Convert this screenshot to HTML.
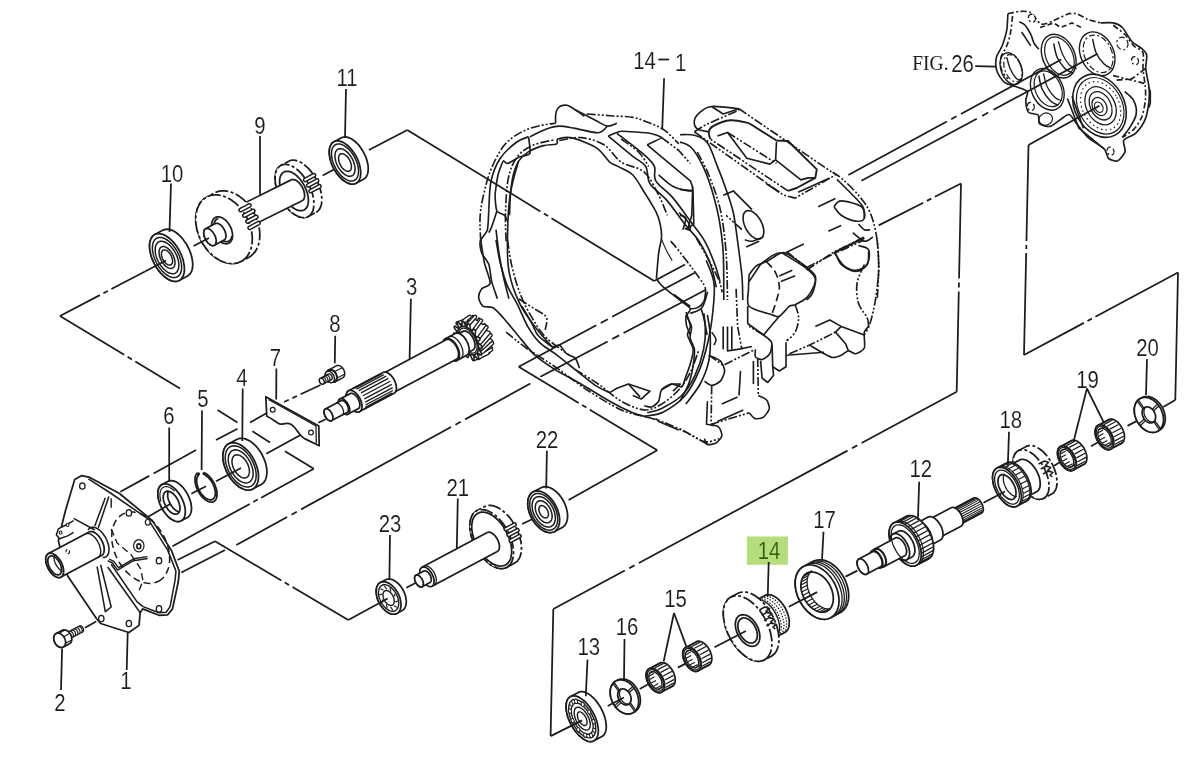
<!DOCTYPE html>
<html><head><meta charset="utf-8"><title>Parts diagram</title>
<style>html,body{margin:0;padding:0;background:#fff}svg{display:block;will-change:transform;opacity:0.999}</style></head>
<body><svg width="1200" height="764" viewBox="0 0 1200 764" fill="none" stroke="#1c1c1c" stroke-linecap="butt" stroke-linejoin="round">
<rect width="1200" height="764" fill="#fff" stroke="none"/>
<line x1="60" y1="316" x2="145" y2="271.5" stroke-width="1.75" stroke-dasharray="45 4 5 4 80"/>
<line x1="368.9" y1="150" x2="407.3" y2="130" stroke-width="1.75"/>
<line x1="407.3" y1="130" x2="654.2" y2="281" stroke-width="1.75" stroke-dasharray="156 4 5 4 200"/>
<line x1="654.2" y1="281" x2="685" y2="264.4" stroke-width="1.75"/>
<line x1="60" y1="316" x2="180" y2="388.5" stroke-width="1.75" stroke-dasharray="75 4 5 4 100"/>
<line x1="217.5" y1="410" x2="237.5" y2="422.5" stroke-width="1.75"/>
<line x1="252.5" y1="431.3" x2="270" y2="442.5" stroke-width="1.75"/>
<line x1="285" y1="451.3" x2="313.8" y2="468.8" stroke-width="1.75"/>
<line x1="313.8" y1="468.8" x2="172.5" y2="546.3" stroke-width="1.75" stroke-dasharray="60 4 5 4 200"/>
<line x1="320.5" y1="385" x2="284" y2="402" stroke-width="1.75" stroke-dasharray="22 4 5 4 40"/>
<line x1="270" y1="411.3" x2="250" y2="422.5" stroke-width="1.75"/>
<line x1="237.5" y1="428.8" x2="216" y2="440" stroke-width="1.75"/>
<line x1="196" y1="450" x2="182.5" y2="457.5" stroke-width="1.75"/>
<line x1="182.5" y1="457.5" x2="120" y2="492" stroke-width="1.75" stroke-dasharray="33 5"/>
<line x1="300.5" y1="435" x2="266.3" y2="453.8" stroke-width="1.75"/>
<line x1="177.5" y1="560" x2="215" y2="541.3" stroke-width="1.75"/>
<line x1="215" y1="541.3" x2="348.3" y2="620" stroke-width="1.75" stroke-dasharray="77 4 5 4 200"/>
<line x1="181.3" y1="572.5" x2="225" y2="550" stroke-width="1.75"/>
<line x1="236.3" y1="545" x2="530.4" y2="383.5" stroke-width="1.75" stroke-dasharray="58 5 6 5 171 5 6 5 200"/>
<line x1="540.4" y1="376.8" x2="705.4" y2="290" stroke-width="1.75" stroke-dasharray="76 5 8 5 200"/>
<line x1="518.7" y1="366.8" x2="694.8" y2="272.7" stroke-width="1.75" stroke-dasharray="88 5 8 5 200"/>
<line x1="518.7" y1="366.8" x2="657.3" y2="450.3" stroke-width="1.75" stroke-dasharray="70 4 5 4 200"/>
<line x1="657.3" y1="450.3" x2="568.6" y2="500" stroke-width="1.75"/>
<line x1="878.7" y1="225.4" x2="961" y2="183.5" stroke-width="1.75" stroke-dasharray="50 4 5 4 60"/>
<line x1="961" y1="183.5" x2="956.7" y2="391.8" stroke-width="1.75" stroke-dasharray="95 4 5 4 200"/>
<line x1="956.7" y1="391.8" x2="553.3" y2="609.1" stroke-width="1.75" stroke-dasharray="108 5 6 5 237 5 6 5 300"/>
<line x1="553.3" y1="609.1" x2="550.6" y2="736.1" stroke-width="1.75"/>
<line x1="1028.5" y1="145" x2="1024" y2="355" stroke-width="1.75" stroke-dasharray="96 4 4 4 200"/>
<line x1="1024" y1="355" x2="1178" y2="272.4" stroke-width="1.75" stroke-dasharray="68 4 5 4 200"/>
<line x1="1178" y1="272.4" x2="1175.3" y2="400" stroke-width="1.75"/>
<line x1="1175.3" y1="400" x2="1163.2" y2="407.1" stroke-width="1.75"/>
<path d="M316.1 212.4 L317.4 211.5 L318.6 210.3 L319.7 208.9 L320.5 207.2 L321.2 205.3 L321.6 203.2 L321.8 200.9 L321.8 198.4 L321.6 195.9 L321.2 193.2 L320.6 190.5 L319.8 187.7 L318.8 184.9 L317.6 182.1 L316.3 179.4 L314.8 176.8 L313.1 174.3 L311.4 171.9 L309.5 169.6 L307.6 167.6 L305.6 165.8 L303.6 164.2 L301.6 162.8 L299.6 161.7 L297.6 160.9 L295.6 160.4 L293.8 160.2 L292 160.2 L290.4 160.5 L288.8 161.2 L280.9 165.4 L279.5 166.3 L278.3 167.5 L277.3 168.9 L276.4 170.6 L275.8 172.5 L275.4 174.6 L275.1 176.9 L275.1 179.3 L275.3 181.9 L275.7 184.6 L276.3 187.3 L277.1 190.1 L278.1 192.9 L279.3 195.6 L280.7 198.4 L282.2 201 L283.8 203.5 L285.6 205.9 L287.4 208.1 L289.3 210.2 L291.3 212 L293.3 213.6 L295.4 214.9 L297.4 216 L299.4 216.9 L301.3 217.4 L303.2 217.6 L304.9 217.6 L306.6 217.2 L308.1 216.6 Z" stroke-width="1.75" stroke-dasharray="13 2.5 3 2.5" fill="#fff"/>
<path d="M308.1 216.6 L309.5 215.7 L310.7 214.5 L311.7 213.1 L312.6 211.4 L313.2 209.5 L313.6 207.4 L313.9 205.1 L313.9 202.7 L313.7 200.1 L313.3 197.4 L312.7 194.7 L311.9 191.9 L310.9 189.1 L309.7 186.4 L308.3 183.6 L306.8 181 L305.2 178.5 L303.4 176.1 L301.6 173.9 L299.7 171.8 L297.7 170 L295.7 168.4 L293.6 167.1 L291.6 166 L289.6 165.1 L287.7 164.6 L285.8 164.4 L284.1 164.4 L282.4 164.8 L280.9 165.4 L279.5 166.3 L278.3 167.5 L277.3 168.9 L276.4 170.6 L275.8 172.5 L275.4 174.6 L275.1 176.9 L275.1 179.3 L275.3 181.9 L275.7 184.6 L276.3 187.3 L277.1 190.1 L278.1 192.9 L279.3 195.6 L280.7 198.4 L282.2 201 L283.8 203.5 L285.6 205.9 L287.4 208.1 L289.3 210.2 L291.3 212 L293.3 213.6 L295.4 214.9 L297.4 216 L299.4 216.9 L301.3 217.4 L303.2 217.6 L304.9 217.6 L306.6 217.2 L308.1 216.6 Z" stroke-width="1.75" stroke-dasharray="13 2.5 3 2.5" fill="#fff"/>
<path d="M304.1 210 L305.1 209.3 L306 208.4 L306.8 207.4 L307.4 206.1 L307.9 204.7 L308.2 203.2 L308.4 201.5 L308.4 199.7 L308.2 197.7 L307.9 195.8 L307.5 193.7 L306.9 191.7 L306.1 189.6 L305.2 187.6 L304.3 185.5 L303.1 183.6 L301.9 181.7 L300.6 180 L299.3 178.3 L297.8 176.8 L296.4 175.4 L294.9 174.2 L293.4 173.2 L291.9 172.4 L290.4 171.8 L288.9 171.4 L287.6 171.3 L286.3 171.3 L285 171.6 L283.9 172 L282.9 172.7 L282 173.6 L281.2 174.6 L280.6 175.9 L280.1 177.3 L279.8 178.8 L279.6 180.5 L279.6 182.3 L279.8 184.3 L280.1 186.2 L280.5 188.3 L281.1 190.3 L281.9 192.4 L282.8 194.4 L283.7 196.5 L284.9 198.4 L286.1 200.3 L287.4 202 L288.7 203.7 L290.2 205.2 L291.6 206.6 L293.1 207.8 L294.6 208.8 L296.1 209.6 L297.6 210.2 L299.1 210.6 L300.4 210.7 L301.7 210.7 L303 210.4 L304.1 210 Z" stroke-width="1.75"/>
<path d="M237.5 232.8 L302.2 200.7 L302.2 200.7 L303.1 200 L303.8 199.1 L304.3 197.8 L304.6 196.4 L304.6 194.7 L304.3 192.9 L303.9 191.1 L303.2 189.2 L302.3 187.3 L301.3 185.5 L300.1 183.9 L298.8 182.5 L297.4 181.3 L296.1 180.4 L294.7 179.8 L293.4 179.5 L292.2 179.5 L291.2 179.9 L291.2 179.9 L226.5 212 Z" stroke-width="0.01" fill="#fff"/>
<line x1="237.5" y1="232.8" x2="302.2" y2="200.7" stroke-width="1.75"/>
<line x1="226.5" y1="212" x2="291.2" y2="179.9" stroke-width="1.75"/>
<path d="M302.2 200.7 L302.8 200.3 L303.3 199.9 L303.7 199.3 L304 198.6 L304.3 197.8 L304.5 197 L304.6 196 L304.6 195 L304.5 194 L304.3 192.9 L304.1 191.8 L303.8 190.7 L303.4 189.5 L302.9 188.4 L302.3 187.3 L301.7 186.2 L301.1 185.2 L300.3 184.2 L299.6 183.3 L298.8 182.5 L298 181.8 L297.2 181.1 L296.3 180.6 L295.5 180.1 L294.7 179.8 L293.9 179.6 L293.2 179.5 L292.5 179.5 L291.8 179.6 L291.2 179.9" stroke-width="1.75"/>
<path d="M248.6 257.4 L250.9 256 L253 254.2 L254.8 252.2 L256.3 249.8 L257.6 247.1 L258.6 244.2 L259.3 241.1 L259.7 237.9 L259.8 234.4 L259.6 230.9 L259.1 227.4 L258.3 223.8 L257.1 220.2 L255.7 216.6 L254.1 213.2 L252.1 209.9 L250 206.8 L247.7 203.8 L245.1 201.1 L242.5 198.7 L239.7 196.6 L236.8 194.7 L233.9 193.2 L230.9 192.1 L227.9 191.3 L225 190.9 L222.2 190.9 L219.4 191.2 L216.8 191.9 L214.4 193 L206.9 197 L204.6 198.4 L202.5 200.2 L200.7 202.3 L199.2 204.6 L197.9 207.3 L196.9 210.2 L196.2 213.3 L195.8 216.5 L195.7 220 L195.9 223.5 L196.4 227 L197.2 230.6 L198.4 234.2 L199.8 237.8 L201.4 241.2 L203.4 244.5 L205.5 247.6 L207.8 250.6 L210.4 253.3 L213 255.7 L215.8 257.8 L218.7 259.7 L221.6 261.2 L224.6 262.3 L227.6 263.1 L230.5 263.5 L233.3 263.6 L236.1 263.2 L238.7 262.5 L241.1 261.4 Z" stroke-width="1.75" stroke-dasharray="13 2.5 3 2.5" fill="#fff"/>
<path d="M241.1 261.4 L243.4 260 L245.5 258.2 L247.3 256.1 L248.8 253.8 L250.1 251.1 L251.1 248.2 L251.8 245.1 L252.2 241.9 L252.3 238.4 L252.1 234.9 L251.6 231.4 L250.8 227.8 L249.6 224.2 L248.2 220.6 L246.6 217.2 L244.6 213.9 L242.5 210.8 L240.2 207.8 L237.6 205.1 L235 202.7 L232.2 200.6 L229.3 198.7 L226.4 197.2 L223.4 196.1 L220.4 195.3 L217.5 194.9 L214.7 194.8 L211.9 195.2 L209.3 195.9 L206.9 197 L204.6 198.4 L202.5 200.2 L200.7 202.3 L199.2 204.6 L197.9 207.3 L196.9 210.2 L196.2 213.3 L195.8 216.5 L195.7 220 L195.9 223.5 L196.4 227 L197.2 230.6 L198.4 234.2 L199.8 237.8 L201.4 241.2 L203.4 244.5 L205.5 247.6 L207.8 250.6 L210.4 253.3 L213 255.7 L215.8 257.8 L218.7 259.7 L221.6 261.2 L224.6 262.3 L227.6 263.1 L230.5 263.5 L233.3 263.6 L236.1 263.2 L238.7 262.5 L241.1 261.4 Z" stroke-width="1.75" stroke-dasharray="13 2.5 3 2.5" fill="#fff"/>
<path d="M228.9 243.1 L229.7 242.6 L230.4 241.9 L231 241.2 L231.5 240.3 L232 239.3 L232.3 238.2 L232.5 237 L232.6 235.7 L232.5 234.4 L232.4 233 L232.1 231.7 L231.8 230.2 L231.3 228.8 L230.7 227.4 L230 226.1 L229.3 224.8 L228.4 223.5 L227.5 222.3 L226.6 221.2 L225.6 220.2 L224.5 219.4 L223.4 218.6 L222.4 218 L221.3 217.5 L220.2 217.1 L219.1 216.9 L218.1 216.8 L217.1 216.9 L216.2 217.1 L215.3 217.5 L214.5 218 L213.8 218.7 L213.2 219.4 L212.7 220.3 L212.2 221.3 L211.9 222.4 L211.7 223.6 L211.6 224.9 L211.7 226.2 L211.8 227.6 L212.1 228.9 L212.4 230.4 L212.9 231.8 L213.5 233.2 L214.2 234.5 L214.9 235.8 L215.8 237.1 L216.7 238.3 L217.6 239.4 L218.6 240.4 L219.7 241.2 L220.8 242 L221.8 242.6 L222.9 243.1 L224 243.5 L225.1 243.7 L226.1 243.8 L227.1 243.7 L228 243.5 L228.9 243.1 Z" stroke-width="1.75"/>
<path d="M218.4 218.5 L217.6 218.7 L216.9 219.1 L216.2 219.6 L215.6 220.2 L215.1 220.9 L214.7 221.7 L214.4 222.6 L214.1 223.6 L214 224.7 L214 225.8 L214.1 227 L214.2 228.2 L214.5 229.4 L214.9 230.6 L215.3 231.8 L215.8 233 L216.5 234.2 L217.2 235.3 L217.9 236.4 L218.7 237.4 L219.6 238.3 L220.5 239.1 L221.4 239.8 L222.4 240.4 L223.3 240.9 L224.3 241.3 L225.2 241.5 L226.1 241.6 L227 241.6 L227.8 241.5 L228.6 241.2 L229.3 240.8 L229.9 240.3 L230.5 239.6 L231 238.9 L231.4 238.1 L231.7 237.1 L231.9 236.1" stroke-width="1.75"/>
<path d="M224.1 240 L224.5 239.8 L224.9 239.4 L225.2 238.9 L225.5 238.4 L225.7 237.8 L225.9 237.1 L225.9 236.4 L225.9 235.6 L225.9 234.8 L225.7 233.9 L225.5 233 L225.3 232.1 L225 231.2 L224.6 230.3 L224.1 229.5 L223.7 228.6 L223.1 227.8 L222.6 227.1 L222 226.3 L221.4 225.7 L220.7 225.1 L220.1 224.6 L219.4 224.2 L218.8 223.8 L218.1 223.5 L217.5 223.4 L216.9 223.3 L216.4 223.3 L215.8 223.4 L215.3 223.6 L205.6 228.8 L205.2 229.1 L204.8 229.5 L204.5 229.9 L204.2 230.5 L204 231.1 L203.9 231.7 L203.8 232.5 L203.8 233.3 L203.8 234.1 L204 234.9 L204.2 235.8 L204.4 236.7 L204.8 237.6 L205.1 238.5 L205.6 239.4 L206 240.2 L206.6 241 L207.1 241.8 L207.7 242.5 L208.3 243.1 L209 243.7 L209.6 244.2 L210.3 244.7 L210.9 245 L211.6 245.3 L212.2 245.5 L212.8 245.5 L213.3 245.5 L213.9 245.4 L214.4 245.2 Z" stroke-width="1.75" fill="#fff"/>
<path d="M214.4 245.2 L214.8 244.9 L215.2 244.5 L215.5 244.1 L215.8 243.5 L216 242.9 L216.1 242.3 L216.2 241.5 L216.2 240.7 L216.2 239.9 L216 239.1 L215.8 238.2 L215.6 237.3 L215.2 236.4 L214.9 235.5 L214.4 234.6 L214 233.8 L213.4 233 L212.9 232.2 L212.3 231.5 L211.7 230.9 L211 230.3 L210.4 229.8 L209.7 229.3 L209.1 229 L208.4 228.7 L207.8 228.5 L207.2 228.5 L206.7 228.5 L206.1 228.6 L205.6 228.8 L205.2 229.1 L204.8 229.5 L204.5 229.9 L204.2 230.5 L204 231.1 L203.9 231.7 L203.8 232.5 L203.8 233.3 L203.8 234.1 L204 234.9 L204.2 235.8 L204.4 236.7 L204.8 237.6 L205.1 238.5 L205.6 239.4 L206 240.2 L206.6 241 L207.1 241.8 L207.7 242.5 L208.3 243.1 L209 243.7 L209.6 244.2 L210.3 244.7 L210.9 245 L211.6 245.3 L212.2 245.5 L212.8 245.5 L213.3 245.5 L213.9 245.4 L214.4 245.2 Z" stroke-width="1.75" fill="#fff"/>
<line x1="249.7" y1="227.8" x2="258.5" y2="223.1" stroke-width="4.8" stroke-linecap="round"/>
<line x1="247.5" y1="221.5" x2="256.3" y2="216.9" stroke-width="4.8" stroke-linecap="round"/>
<line x1="244.4" y1="215.6" x2="253.3" y2="210.9" stroke-width="4.8" stroke-linecap="round"/>
<line x1="240.6" y1="210.1" x2="249.5" y2="205.4" stroke-width="4.8" stroke-linecap="round"/>
<line x1="249.7" y1="227.8" x2="258.5" y2="223.1" stroke="#fff" stroke-width="1.9" stroke-linecap="round"/>
<line x1="247.5" y1="221.5" x2="256.3" y2="216.9" stroke="#fff" stroke-width="1.9" stroke-linecap="round"/>
<line x1="244.4" y1="215.6" x2="253.3" y2="210.9" stroke="#fff" stroke-width="1.9" stroke-linecap="round"/>
<line x1="240.6" y1="210.1" x2="249.5" y2="205.4" stroke="#fff" stroke-width="1.9" stroke-linecap="round"/>
<line x1="310.7" y1="191" x2="319.5" y2="186.3" stroke-width="4.8" stroke-linecap="round"/>
<line x1="308.3" y1="185.3" x2="317.1" y2="180.6" stroke-width="4.8" stroke-linecap="round"/>
<line x1="305.2" y1="179.9" x2="314" y2="175.2" stroke-width="4.8" stroke-linecap="round"/>
<line x1="310.7" y1="191" x2="319.5" y2="186.3" stroke="#fff" stroke-width="1.9" stroke-linecap="round"/>
<line x1="308.3" y1="185.3" x2="317.1" y2="180.6" stroke="#fff" stroke-width="1.9" stroke-linecap="round"/>
<line x1="305.2" y1="179.9" x2="314" y2="175.2" stroke="#fff" stroke-width="1.9" stroke-linecap="round"/>
<line x1="193.6" y1="246" x2="209" y2="238" stroke-width="1.75"/>
<line x1="322.7" y1="175.5" x2="344.3" y2="164" stroke-width="1.75"/>
<path d="M187.5 276 L188.7 275.2 L189.8 274.2 L190.7 272.9 L191.5 271.4 L192.1 269.7 L192.5 267.8 L192.7 265.7 L192.7 263.5 L192.5 261.2 L192.1 258.9 L191.6 256.4 L190.9 253.9 L190 251.4 L188.9 248.9 L187.7 246.5 L186.4 244.1 L184.9 241.9 L183.3 239.7 L181.7 237.7 L179.9 235.9 L178.2 234.3 L176.3 232.8 L174.5 231.6 L172.7 230.6 L170.9 229.9 L169.2 229.4 L167.5 229.2 L165.9 229.3 L164.5 229.6 L163.1 230.1 L154.8 234.5 L153.6 235.4 L152.5 236.4 L151.6 237.7 L150.8 239.2 L150.2 240.9 L149.8 242.8 L149.6 244.9 L149.6 247 L149.8 249.3 L150.2 251.7 L150.7 254.2 L151.4 256.7 L152.3 259.2 L153.4 261.7 L154.6 264.1 L155.9 266.5 L157.4 268.7 L159 270.9 L160.6 272.9 L162.4 274.7 L164.1 276.3 L166 277.8 L167.8 279 L169.6 279.9 L171.4 280.7 L173.1 281.2 L174.8 281.4 L176.4 281.3 L177.8 281 L179.2 280.5 Z" stroke-width="1.75" fill="#fff"/>
<path d="M179.2 280.5 L180.4 279.6 L181.5 278.6 L182.4 277.3 L183.2 275.8 L183.8 274.1 L184.2 272.2 L184.4 270.1 L184.4 268 L184.2 265.7 L183.8 263.3 L183.3 260.8 L182.6 258.3 L181.7 255.8 L180.6 253.3 L179.4 250.9 L178.1 248.5 L176.6 246.3 L175 244.1 L173.4 242.1 L171.6 240.3 L169.9 238.7 L168 237.2 L166.2 236 L164.4 235.1 L162.6 234.3 L160.9 233.8 L159.2 233.6 L157.6 233.7 L156.2 234 L154.8 234.5 L153.6 235.4 L152.5 236.4 L151.6 237.7 L150.8 239.2 L150.2 240.9 L149.8 242.8 L149.6 244.9 L149.6 247 L149.8 249.3 L150.2 251.7 L150.7 254.2 L151.4 256.7 L152.3 259.2 L153.4 261.7 L154.6 264.1 L155.9 266.5 L157.4 268.7 L159 270.9 L160.6 272.9 L162.4 274.7 L164.1 276.3 L166 277.8 L167.8 279 L169.6 279.9 L171.4 280.7 L173.1 281.2 L174.8 281.4 L176.4 281.3 L177.8 281 L179.2 280.5 Z" stroke-width="1.75" fill="#fff"/>
<path d="M177.3 276.8 L178.3 276.1 L179.2 275.2 L180 274.1 L180.6 272.9 L181.1 271.4 L181.4 269.8 L181.6 268.1 L181.6 266.3 L181.5 264.4 L181.1 262.3 L180.7 260.3 L180.1 258.2 L179.3 256.1 L178.4 254 L177.4 252 L176.3 250 L175.1 248.1 L173.7 246.3 L172.3 244.6 L170.9 243.1 L169.4 241.7 L167.9 240.5 L166.3 239.5 L164.8 238.6 L163.3 238 L161.9 237.6 L160.5 237.4 L159.1 237.5 L157.9 237.7 L156.7 238.2 L155.7 238.9 L154.8 239.8 L154 240.9 L153.4 242.1 L152.9 243.6 L152.6 245.2 L152.4 246.9 L152.4 248.7 L152.5 250.6 L152.9 252.7 L153.3 254.7 L153.9 256.8 L154.7 258.9 L155.6 261 L156.6 263 L157.7 265 L158.9 266.9 L160.3 268.7 L161.7 270.4 L163.1 271.9 L164.6 273.3 L166.1 274.5 L167.7 275.5 L169.2 276.4 L170.7 277 L172.1 277.4 L173.5 277.6 L174.9 277.5 L176.1 277.3 L177.3 276.8 Z" stroke-width="1.49"/>
<path d="M175.3 273.1 L176.1 272.6 L176.9 271.8 L177.5 271 L178 269.9 L178.4 268.8 L178.7 267.5 L178.8 266.1 L178.8 264.6 L178.7 263 L178.5 261.4 L178.1 259.8 L177.6 258.1 L177 256.4 L176.3 254.7 L175.4 253 L174.5 251.4 L173.5 249.9 L172.5 248.4 L171.3 247.1 L170.2 245.8 L168.9 244.7 L167.7 243.7 L166.5 242.9 L165.2 242.2 L164 241.7 L162.8 241.4 L161.7 241.3 L160.6 241.3 L159.6 241.5 L158.7 241.9 L157.9 242.4 L157.1 243.2 L156.5 244 L156 245.1 L155.6 246.2 L155.3 247.5 L155.2 248.9 L155.2 250.4 L155.3 252 L155.5 253.6 L155.9 255.2 L156.4 256.9 L157 258.6 L157.7 260.3 L158.6 262 L159.5 263.6 L160.5 265.1 L161.5 266.6 L162.7 267.9 L163.8 269.2 L165.1 270.3 L166.3 271.3 L167.5 272.1 L168.8 272.8 L170 273.3 L171.2 273.6 L172.3 273.7 L173.4 273.7 L174.4 273.5 L175.3 273.1 Z" stroke-width="1.49"/>
<path d="M172.6 268.1 L173.2 267.7 L173.7 267.2 L174.1 266.6 L174.4 265.9 L174.7 265.1 L174.9 264.3 L175 263.3 L175 262.3 L174.9 261.3 L174.7 260.2 L174.5 259 L174.2 257.9 L173.7 256.7 L173.3 255.6 L172.7 254.5 L172.1 253.4 L171.4 252.3 L170.7 251.4 L169.9 250.4 L169.1 249.6 L168.3 248.8 L167.5 248.2 L166.6 247.6 L165.8 247.2 L165 246.8 L164.2 246.6 L163.4 246.5 L162.7 246.5 L162 246.7 L161.4 246.9 L160.8 247.3 L160.3 247.8 L159.9 248.4 L159.6 249.1 L159.3 249.9 L159.1 250.7 L159 251.7 L159 252.7 L159.1 253.7 L159.3 254.8 L159.5 256 L159.8 257.1 L160.3 258.3 L160.7 259.4 L161.3 260.5 L161.9 261.6 L162.6 262.7 L163.3 263.6 L164.1 264.6 L164.9 265.4 L165.7 266.2 L166.5 266.8 L167.4 267.4 L168.2 267.8 L169 268.2 L169.8 268.4 L170.6 268.5 L171.3 268.5 L172 268.3 L172.6 268.1 Z" stroke-width="1.49"/>
<path d="M170.9 264.8 L171.3 264.6 L171.6 264.2 L171.9 263.8 L172.2 263.4 L172.4 262.8 L172.5 262.2 L172.6 261.5 L172.6 260.8 L172.5 260.1 L172.4 259.3 L172.2 258.6 L172 257.8 L171.7 257 L171.4 256.2 L171 255.4 L170.5 254.6 L170.1 253.9 L169.6 253.2 L169 252.6 L168.5 252 L167.9 251.5 L167.3 251 L166.8 250.6 L166.2 250.3 L165.6 250.1 L165 249.9 L164.5 249.9 L164 249.9 L163.5 250 L163.1 250.2 L162.7 250.4 L162.4 250.8 L162.1 251.2 L161.8 251.6 L161.6 252.2 L161.5 252.8 L161.4 253.5 L161.4 254.2 L161.5 254.9 L161.6 255.7 L161.8 256.4 L162 257.2 L162.3 258 L162.6 258.8 L163 259.6 L163.5 260.4 L163.9 261.1 L164.4 261.8 L165 262.4 L165.5 263 L166.1 263.5 L166.7 264 L167.2 264.4 L167.8 264.7 L168.4 264.9 L169 265.1 L169.5 265.1 L170 265.1 L170.5 265 L170.9 264.8 Z" stroke-width="1.49"/>
<line x1="145" y1="271.5" x2="166" y2="260.5" stroke-width="1.75"/>
<path d="M363.5 179.3 L364.6 178.5 L365.6 177.6 L366.5 176.4 L367.1 175 L367.7 173.5 L368 171.8 L368.2 169.9 L368.2 168 L368.1 165.9 L367.7 163.7 L367.2 161.5 L366.6 159.3 L365.8 157 L364.8 154.8 L363.7 152.6 L362.5 150.4 L361.2 148.4 L359.8 146.4 L358.3 144.6 L356.7 143 L355.1 141.5 L353.4 140.2 L351.8 139.1 L350.2 138.2 L348.6 137.6 L347 137.1 L345.5 136.9 L344 137 L342.7 137.3 L341.5 137.8 L334 141.8 L332.9 142.5 L331.9 143.4 L331 144.6 L330.4 146 L329.8 147.5 L329.5 149.2 L329.3 151.1 L329.3 153 L329.5 155.1 L329.8 157.3 L330.3 159.5 L330.9 161.8 L331.7 164 L332.7 166.3 L333.8 168.5 L335 170.6 L336.3 172.6 L337.8 174.6 L339.3 176.4 L340.8 178 L342.4 179.5 L344.1 180.8 L345.7 181.9 L347.3 182.8 L349 183.4 L350.5 183.9 L352 184.1 L353.5 184 L354.8 183.8 L356 183.2 Z" stroke-width="1.75" fill="#fff"/>
<path d="M356 183.2 L357.1 182.5 L358.1 181.6 L359 180.4 L359.6 179 L360.2 177.5 L360.5 175.8 L360.7 173.9 L360.7 172 L360.5 169.9 L360.2 167.7 L359.7 165.5 L359.1 163.2 L358.3 161 L357.3 158.7 L356.2 156.5 L355 154.4 L353.7 152.4 L352.2 150.4 L350.7 148.6 L349.2 147 L347.6 145.5 L345.9 144.2 L344.3 143.1 L342.7 142.2 L341 141.6 L339.5 141.1 L338 140.9 L336.5 141 L335.2 141.2 L334 141.8 L332.9 142.5 L331.9 143.4 L331 144.6 L330.4 146 L329.8 147.5 L329.5 149.2 L329.3 151.1 L329.3 153 L329.5 155.1 L329.8 157.3 L330.3 159.5 L330.9 161.8 L331.7 164 L332.7 166.3 L333.8 168.5 L335 170.6 L336.3 172.6 L337.8 174.6 L339.3 176.4 L340.8 178 L342.4 179.5 L344.1 180.8 L345.7 181.9 L347.3 182.8 L349 183.4 L350.5 183.9 L352 184.1 L353.5 184 L354.8 183.8 L356 183.2 Z" stroke-width="1.75" fill="#fff"/>
<path d="M354.5 180.3 L355.4 179.7 L356.3 178.9 L357 177.9 L357.6 176.7 L358 175.4 L358.3 173.9 L358.5 172.3 L358.5 170.6 L358.4 168.8 L358.1 167 L357.7 165.1 L357.1 163.1 L356.4 161.2 L355.6 159.3 L354.6 157.4 L353.6 155.5 L352.5 153.8 L351.2 152.1 L349.9 150.6 L348.6 149.1 L347.2 147.9 L345.8 146.8 L344.4 145.8 L343 145.1 L341.6 144.5 L340.3 144.1 L339 143.9 L337.7 144 L336.6 144.2 L335.5 144.7 L334.6 145.3 L333.7 146.1 L333 147.1 L332.4 148.3 L332 149.6 L331.7 151.1 L331.5 152.7 L331.5 154.4 L331.6 156.2 L331.9 158 L332.3 159.9 L332.9 161.9 L333.6 163.8 L334.4 165.7 L335.4 167.6 L336.4 169.5 L337.5 171.2 L338.8 172.9 L340.1 174.4 L341.4 175.9 L342.8 177.1 L344.2 178.2 L345.6 179.2 L347 179.9 L348.4 180.5 L349.7 180.9 L351 181.1 L352.3 181 L353.4 180.8 L354.5 180.3 Z" stroke-width="1.49"/>
<path d="M352.1 175.8 L352.8 175.3 L353.4 174.7 L353.9 174 L354.4 173.1 L354.7 172.1 L354.9 171 L355 169.8 L355.1 168.6 L355 167.2 L354.7 165.8 L354.4 164.4 L354 163 L353.5 161.5 L352.9 160.1 L352.2 158.7 L351.4 157.3 L350.5 156 L349.6 154.8 L348.7 153.6 L347.7 152.6 L346.7 151.6 L345.6 150.8 L344.6 150.1 L343.5 149.5 L342.5 149.1 L341.5 148.8 L340.5 148.7 L339.6 148.7 L338.7 148.9 L337.9 149.2 L337.2 149.7 L336.6 150.3 L336.1 151 L335.6 151.9 L335.3 152.9 L335.1 154 L335 155.2 L334.9 156.4 L335 157.8 L335.3 159.2 L335.6 160.6 L336 162 L336.5 163.5 L337.1 164.9 L337.8 166.3 L338.6 167.7 L339.5 169 L340.4 170.2 L341.3 171.4 L342.3 172.4 L343.3 173.4 L344.4 174.2 L345.4 174.9 L346.5 175.5 L347.5 175.9 L348.5 176.2 L349.5 176.3 L350.4 176.3 L351.3 176.1 L352.1 175.8 Z" stroke-width="1.49"/>
<path d="M349.5 171 L350 170.7 L350.4 170.3 L350.7 169.8 L351 169.3 L351.2 168.6 L351.4 167.9 L351.4 167.2 L351.4 166.4 L351.4 165.5 L351.2 164.6 L351 163.7 L350.8 162.8 L350.4 161.9 L350 161 L349.6 160.1 L349.1 159.2 L348.6 158.3 L348 157.5 L347.4 156.8 L346.7 156.1 L346.1 155.5 L345.4 155 L344.7 154.5 L344 154.2 L343.4 153.9 L342.7 153.7 L342.1 153.7 L341.5 153.7 L341 153.8 L340.5 154 L340 154.3 L339.6 154.7 L339.3 155.2 L339 155.7 L338.8 156.4 L338.6 157.1 L338.6 157.8 L338.6 158.6 L338.6 159.5 L338.8 160.4 L339 161.3 L339.2 162.2 L339.6 163.1 L340 164 L340.4 164.9 L340.9 165.8 L341.4 166.7 L342 167.5 L342.6 168.2 L343.3 168.9 L343.9 169.5 L344.6 170 L345.3 170.5 L346 170.8 L346.6 171.1 L347.3 171.3 L347.9 171.3 L348.5 171.3 L349 171.2 L349.5 171 Z" stroke-width="1.49"/>
<path d="M488.6 353.8 L489.7 353.1 L488.2 348.7 L488.8 347.8 L492 349.6 L492.5 348 L489.9 344.1 L490 342.6 L492.8 342.5 L492.5 340.4 L489.4 337.6 L488.9 335.9 L490.7 333.9 L489.8 331.7 L486.7 330.7 L485.8 329 L486.3 325.5 L484.9 323.7 L482.5 324.6 L481.2 323.3 L480.3 319 L478.7 317.9 L477.4 320.5 L476.1 320 L474 315.7 L472.5 315.5 L472.6 319.4 L471.6 319.6 L468.6 316.2 L467.5 316.9 L469 321.3 L468.4 322.2 L465.2 320.4 L464.7 321.9 L467.3 325.9 L467.2 327.4 L464.4 327.5 L464.7 329.6 L467.8 332.4 L468.3 334.1 L466.5 336.1 L467.4 338.3 L470.5 339.3 L471.4 341 L470.9 344.4 L472.3 346.3 L474.8 345.4 L476 346.7 L476.9 350.9 L478.5 352.1 L479.8 349.4 L481.1 350 L483.2 354.3 L484.7 354.5 L484.6 350.6 L485.6 350.4 L488.6 353.8 Z" stroke-width="1.4" fill="#fff"/>
<line x1="478.5" y1="357.9" x2="491.1" y2="349.7" stroke-width="4.4" stroke-linecap="round"/>
<line x1="481.2" y1="353.2" x2="492.2" y2="343.2" stroke-width="4.4" stroke-linecap="round"/>
<line x1="481.3" y1="345.9" x2="490.6" y2="335.2" stroke-width="4.4" stroke-linecap="round"/>
<line x1="478.8" y1="337.7" x2="486.6" y2="327.1" stroke-width="4.4" stroke-linecap="round"/>
<line x1="474.1" y1="330" x2="481.1" y2="320.5" stroke-width="4.4" stroke-linecap="round"/>
<line x1="468.2" y1="324.4" x2="475.1" y2="316.9" stroke-width="4.4" stroke-linecap="round"/>
<line x1="462.3" y1="322" x2="469.7" y2="316.8" stroke-width="4.4" stroke-linecap="round"/>
<line x1="457.5" y1="323.3" x2="466.1" y2="320.3" stroke-width="4.4" stroke-linecap="round"/>
<line x1="473.7" y1="359.2" x2="487.5" y2="353.2" stroke-width="4.4" stroke-linecap="round"/>
<line x1="478.5" y1="357.9" x2="491.1" y2="349.7" stroke="#fff" stroke-width="1.7" stroke-linecap="round"/>
<line x1="481.2" y1="353.2" x2="492.2" y2="343.2" stroke="#fff" stroke-width="1.7" stroke-linecap="round"/>
<line x1="481.3" y1="345.9" x2="490.6" y2="335.2" stroke="#fff" stroke-width="1.7" stroke-linecap="round"/>
<line x1="478.8" y1="337.7" x2="486.6" y2="327.1" stroke="#fff" stroke-width="1.7" stroke-linecap="round"/>
<line x1="474.1" y1="330" x2="481.1" y2="320.5" stroke="#fff" stroke-width="1.7" stroke-linecap="round"/>
<line x1="468.2" y1="324.4" x2="475.1" y2="316.9" stroke="#fff" stroke-width="1.7" stroke-linecap="round"/>
<line x1="462.3" y1="322" x2="469.7" y2="316.8" stroke="#fff" stroke-width="1.7" stroke-linecap="round"/>
<line x1="457.5" y1="323.3" x2="466.1" y2="320.3" stroke="#fff" stroke-width="1.7" stroke-linecap="round"/>
<line x1="473.7" y1="359.2" x2="487.5" y2="353.2" stroke="#fff" stroke-width="1.7" stroke-linecap="round"/>
<path d="M478 359.4 L479.1 358.7 L477.4 354 L478 353.1 L481.4 355.2 L481.9 353.7 L479 349.5 L479.1 348 L482.2 348.1 L481.9 346.1 L478.5 343.2 L478.1 341.5 L480.1 339.5 L479.2 337.4 L475.9 336.4 L475 334.8 L475.7 331.2 L474.3 329.3 L471.8 330.5 L470.6 329.3 L469.7 324.7 L468.1 323.5 L466.8 326.5 L465.6 326 L463.4 321.3 L461.9 321.1 L462.2 325.4 L461.1 325.6 L458 321.8 L456.9 322.5 L458.6 327.3 L458 328.2 L454.6 326 L454.1 327.6 L457 331.8 L456.9 333.2 L453.8 333.1 L454.1 335.2 L457.5 338.1 L458 339.8 L455.9 341.7 L456.8 343.9 L460.1 344.8 L461 346.5 L460.3 350.1 L461.7 351.9 L464.3 350.8 L465.4 352 L466.3 356.6 L467.9 357.7 L469.2 354.7 L470.4 355.3 L472.6 359.9 L474.1 360.2 L473.8 355.9 L474.9 355.7 L478 359.4 Z" stroke-width="1.52" fill="#fff"/>
<path d="M475.3 354.3 L476 353.8 L476.7 353.2 L477.2 352.4 L477.7 351.5 L478 350.5 L478.2 349.4 L478.4 348.2 L478.4 346.9 L478.3 345.5 L478 344.1 L477.7 342.6 L477.3 341.1 L476.7 339.6 L476.1 338.1 L475.4 336.7 L474.6 335.3 L473.7 333.9 L472.8 332.7 L471.8 331.5 L470.8 330.4 L469.7 329.4 L468.6 328.5 L467.5 327.8 L466.5 327.2 L465.4 326.8 L464.4 326.5 L463.4 326.4 L462.4 326.4 L461.5 326.6 L460.7 326.9 L460 327.4 L459.4 328.1 L458.8 328.8 L458.4 329.7 L458 330.7 L457.8 331.9 L457.7 333.1 L457.6 334.4 L457.7 335.8 L458 337.2 L458.3 338.6 L458.7 340.1 L459.3 341.6 L459.9 343.1 L460.6 344.6 L461.4 346 L462.3 347.3 L463.2 348.6 L464.2 349.8 L465.2 350.9 L466.3 351.8 L467.4 352.7 L468.5 353.4 L469.5 354 L470.6 354.4 L471.6 354.7 L472.6 354.9 L473.6 354.8 L474.5 354.6 L475.3 354.3 Z" stroke-width="1.75" fill="#fff"/>
<path d="M474.4 352.6 L475 352.2 L475.6 351.7 L476.1 351 L476.5 350.2 L476.8 349.3 L477 348.3 L477.1 347.2 L477.1 346.1 L477 344.9 L476.8 343.6 L476.5 342.4 L476.1 341.1 L475.7 339.7 L475.1 338.4 L474.5 337.2 L473.8 335.9 L473 334.8 L472.2 333.6 L471.3 332.6 L470.4 331.6 L469.5 330.8 L468.6 330 L467.6 329.4 L466.7 328.9 L465.7 328.5 L464.8 328.3 L463.9 328.1 L463.1 328.2 L462.3 328.3 L461.6 328.6 L461 329 L460.4 329.6 L459.9 330.3 L459.5 331.1 L459.2 331.9 L459 332.9 L458.9 334 L458.9 335.2 L459 336.4 L459.2 337.6 L459.5 338.9 L459.9 340.2 L460.3 341.5 L460.9 342.8 L461.5 344.1 L462.2 345.3 L463 346.5 L463.8 347.6 L464.7 348.7 L465.6 349.6 L466.5 350.5 L467.5 351.2 L468.4 351.9 L469.4 352.4 L470.3 352.7 L471.2 353 L472.1 353.1 L472.9 353.1 L473.7 352.9 L474.4 352.6 Z" stroke-width="1.29"/>
<path d="M472.9 349.9 L473.4 349.6 L473.9 349.1 L474.2 348.6 L474.5 348 L474.8 347.3 L474.9 346.6 L475 345.7 L475 344.8 L475 343.9 L474.8 343 L474.6 342 L474.3 341 L473.9 339.9 L473.5 338.9 L473 338 L472.5 337 L471.9 336.1 L471.2 335.2 L470.6 334.4 L469.9 333.7 L469.2 333 L468.4 332.4 L467.7 332 L467 331.6 L466.2 331.3 L465.5 331.1 L464.9 331 L464.2 331 L463.6 331.1 L463.1 331.4 L456 335.1 L455.5 335.4 L455.1 335.9 L454.7 336.4 L454.4 337 L454.2 337.7 L454 338.4 L453.9 339.3 L453.9 340.2 L454 341.1 L454.1 342 L454.4 343 L454.7 344 L455 345.1 L455.4 346.1 L455.9 347 L456.5 348 L457.1 348.9 L457.7 349.8 L458.4 350.6 L459.1 351.3 L459.8 352 L460.5 352.6 L461.3 353.1 L462 353.4 L462.7 353.7 L463.4 353.9 L464.1 354 L464.7 354 L465.3 353.9 L465.9 353.7 Z" stroke-width="1.75" fill="#fff"/>
<path d="M465.9 353.7 L466.4 353.3 L466.8 352.9 L467.2 352.4 L467.5 351.8 L467.7 351.1 L467.9 350.3 L468 349.5 L468 348.6 L467.9 347.7 L467.7 346.7 L467.5 345.7 L467.2 344.7 L466.9 343.7 L466.4 342.7 L465.9 341.7 L465.4 340.8 L464.8 339.8 L464.2 339 L463.5 338.2 L462.8 337.4 L462.1 336.8 L461.4 336.2 L460.6 335.7 L459.9 335.3 L459.2 335 L458.5 334.8 L457.8 334.7 L457.2 334.8 L456.6 334.9 L456 335.1 L455.5 335.4 L455.1 335.9 L454.7 336.4 L454.4 337 L454.2 337.7 L454 338.4 L453.9 339.3 L453.9 340.2 L454 341.1 L454.1 342 L454.4 343 L454.7 344 L455 345.1 L455.4 346.1 L455.9 347 L456.5 348 L457.1 348.9 L457.7 349.8 L458.4 350.6 L459.1 351.3 L459.8 352 L460.5 352.6 L461.3 353.1 L462 353.4 L462.7 353.7 L463.4 353.9 L464.1 354 L464.7 354 L465.3 353.9 L465.9 353.7 Z" stroke-width="1.75" fill="#fff"/>
<path d="M466.7 355.2 L467.3 354.9 L467.8 354.4 L468.2 353.7 L468.6 353 L468.9 352.2 L469.1 351.3 L469.2 350.4 L469.2 349.3 L469.1 348.2 L468.9 347.1 L468.6 345.9 L468.3 344.8 L467.9 343.6 L467.4 342.4 L466.8 341.3 L466.2 340.1 L465.5 339.1 L464.7 338.1 L464 337.1 L463.1 336.2 L462.3 335.5 L461.4 334.8 L460.6 334.2 L459.7 333.8 L458.9 333.4 L458.1 333.2 L457.3 333.1 L456.5 333.1 L455.8 333.3 L455.2 333.5 L445.5 338.7 L444.9 339.1 L444.4 339.6 L443.9 340.2 L443.6 340.9 L443.3 341.7 L443.1 342.6 L443 343.6 L443 344.6 L443.1 345.7 L443.3 346.8 L443.5 348 L443.9 349.2 L444.3 350.3 L444.8 351.5 L445.4 352.7 L446 353.8 L446.7 354.9 L447.4 355.9 L448.2 356.8 L449 357.7 L449.9 358.4 L450.7 359.1 L451.6 359.7 L452.5 360.2 L453.3 360.5 L454.1 360.7 L454.9 360.8 L455.7 360.8 L456.4 360.7 L457 360.4 Z" stroke-width="1.75" fill="#fff"/>
<path d="M457 360.4 L457.6 360 L458.1 359.5 L458.5 358.9 L458.9 358.2 L459.2 357.4 L459.3 356.5 L459.4 355.5 L459.5 354.5 L459.4 353.4 L459.2 352.3 L458.9 351.1 L458.6 349.9 L458.2 348.8 L457.7 347.6 L457.1 346.4 L456.5 345.3 L455.8 344.2 L455 343.2 L454.2 342.3 L453.4 341.4 L452.6 340.6 L451.7 340 L450.9 339.4 L450 338.9 L449.2 338.6 L448.3 338.4 L447.6 338.3 L446.8 338.3 L446.1 338.4 L445.5 338.7 L444.9 339.1 L444.4 339.6 L443.9 340.2 L443.6 340.9 L443.3 341.7 L443.1 342.6 L443 343.6 L443 344.6 L443.1 345.7 L443.3 346.8 L443.5 348 L443.9 349.2 L444.3 350.3 L444.8 351.5 L445.4 352.7 L446 353.8 L446.7 354.9 L447.4 355.9 L448.2 356.8 L449 357.7 L449.9 358.4 L450.7 359.1 L451.6 359.7 L452.5 360.2 L453.3 360.5 L454.1 360.7 L454.9 360.8 L455.7 360.8 L456.4 360.7 L457 360.4 Z" stroke-width="1.75" fill="#fff"/>
<path d="M456.4 359.3 L456.9 358.9 L457.4 358.5 L457.8 357.9 L458.1 357.3 L458.3 356.6 L458.5 355.8 L458.6 354.9 L458.6 354 L458.5 353 L458.4 352 L458.1 350.9 L457.8 349.9 L457.4 348.8 L457 347.8 L456.5 346.8 L455.9 345.8 L455.3 344.8 L454.6 343.9 L453.9 343 L453.2 342.3 L452.4 341.6 L451.7 341 L450.9 340.5 L450.1 340 L449.4 339.7 L448.6 339.5 L447.9 339.4 L447.3 339.5 L446.6 339.6 L446.1 339.8 L383.4 373.2 L382.9 373.5 L382.4 374 L382 374.5 L381.7 375.1 L381.4 375.9 L381.3 376.7 L381.2 377.5 L381.2 378.4 L381.3 379.4 L381.4 380.4 L381.6 381.5 L382 382.5 L382.3 383.6 L382.8 384.6 L383.3 385.7 L383.9 386.7 L384.5 387.6 L385.1 388.5 L385.8 389.4 L386.6 390.1 L387.3 390.8 L388.1 391.4 L388.9 392 L389.6 392.4 L390.4 392.7 L391.1 392.9 L391.8 393 L392.5 393 L393.1 392.8 L393.7 392.6 Z" stroke-width="1.75" fill="#fff"/>
<path d="M393.7 392.6 L394.2 392.2 L394.7 391.8 L395.1 391.3 L395.4 390.6 L395.6 389.9 L395.8 389.1 L395.9 388.2 L395.9 387.3 L395.8 386.3 L395.7 385.3 L395.4 384.3 L395.1 383.2 L394.7 382.2 L394.3 381.1 L393.8 380.1 L393.2 379.1 L392.6 378.1 L391.9 377.2 L391.2 376.4 L390.5 375.6 L389.7 374.9 L389 374.3 L388.2 373.8 L387.4 373.4 L386.7 373.1 L386 372.9 L385.2 372.8 L384.6 372.8 L384 372.9 L383.4 373.2 L382.9 373.5 L382.4 374 L382 374.5 L381.7 375.1 L381.4 375.9 L381.3 376.7 L381.2 377.5 L381.2 378.4 L381.3 379.4 L381.4 380.4 L381.6 381.5 L382 382.5 L382.3 383.6 L382.8 384.6 L383.3 385.7 L383.9 386.7 L384.5 387.6 L385.1 388.5 L385.8 389.4 L386.6 390.1 L387.3 390.8 L388.1 391.4 L388.9 392 L389.6 392.4 L390.4 392.7 L391.1 392.9 L391.8 393 L392.5 393 L393.1 392.8 L393.7 392.6 Z" stroke-width="1.75" fill="#fff"/>
<path d="M394.1 393.3 L394.6 392.9 L395.1 392.4 L395.5 391.9 L395.9 391.2 L396.2 390.4 L396.3 389.5 L396.4 388.6 L396.4 387.6 L396.3 386.6 L396.2 385.5 L395.9 384.4 L395.6 383.3 L395.2 382.1 L394.7 381 L394.2 379.9 L393.6 378.8 L392.9 377.8 L392.2 376.8 L391.4 375.9 L390.6 375.1 L389.8 374.3 L389 373.7 L388.2 373.1 L387.4 372.7 L386.6 372.4 L385.8 372.1 L385 372 L384.3 372.1 L383.6 372.2 L383 372.5 L348.6 390.8 L348 391.1 L347.5 391.6 L347.1 392.2 L346.8 392.9 L346.5 393.7 L346.3 394.5 L346.2 395.4 L346.2 396.4 L346.3 397.5 L346.5 398.6 L346.7 399.7 L347 400.8 L347.5 401.9 L347.9 403.1 L348.5 404.2 L349.1 405.2 L349.8 406.3 L350.5 407.2 L351.2 408.2 L352 409 L352.8 409.7 L353.6 410.4 L354.5 410.9 L355.3 411.4 L356.1 411.7 L356.9 411.9 L357.6 412 L358.4 412 L359 411.9 L359.6 411.6 Z" stroke-width="1.75" fill="#fff"/>
<path d="M359.6 411.6 L360.2 411.2 L360.7 410.8 L361.1 410.2 L361.5 409.5 L361.7 408.7 L361.9 407.9 L362 406.9 L362 405.9 L361.9 404.9 L361.7 403.8 L361.5 402.7 L361.2 401.6 L360.8 400.4 L360.3 399.3 L359.7 398.2 L359.1 397.1 L358.5 396.1 L357.7 395.1 L357 394.2 L356.2 393.4 L355.4 392.6 L354.6 392 L353.8 391.4 L352.9 391 L352.1 390.7 L351.3 390.5 L350.6 390.4 L349.9 390.4 L349.2 390.5 L348.6 390.8 L348 391.1 L347.5 391.6 L347.1 392.2 L346.8 392.9 L346.5 393.7 L346.3 394.5 L346.2 395.4 L346.2 396.4 L346.3 397.5 L346.5 398.6 L346.7 399.7 L347 400.8 L347.5 401.9 L347.9 403.1 L348.5 404.2 L349.1 405.2 L349.8 406.3 L350.5 407.2 L351.2 408.2 L352 409 L352.8 409.7 L353.6 410.4 L354.5 410.9 L355.3 411.4 L356.1 411.7 L356.9 411.9 L357.6 412 L358.4 412 L359 411.9 L359.6 411.6 Z" stroke-width="1.75" fill="#fff"/>
<path d="M358.1 408.8 L358.5 408.5 L358.9 408.2 L359.2 407.7 L359.5 407.2 L359.7 406.7 L359.8 406 L359.8 405.4 L359.9 404.6 L359.8 403.9 L359.7 403.1 L359.5 402.3 L359.3 401.5 L359 400.6 L358.6 399.8 L358.2 399 L357.8 398.2 L357.3 397.5 L356.8 396.8 L356.2 396.1 L355.6 395.5 L355 395 L354.5 394.5 L353.8 394.1 L353.2 393.8 L352.7 393.5 L352.1 393.4 L351.5 393.3 L351 393.3 L350.5 393.4 L350.1 393.6 L340 398.9 L339.6 399.2 L339.2 399.6 L338.9 400 L338.7 400.5 L338.5 401.1 L338.4 401.7 L338.3 402.4 L338.3 403.1 L338.3 403.8 L338.5 404.6 L338.7 405.4 L338.9 406.3 L339.2 407.1 L339.5 407.9 L339.9 408.7 L340.4 409.5 L340.9 410.2 L341.4 411 L341.9 411.6 L342.5 412.2 L343.1 412.8 L343.7 413.2 L344.3 413.6 L344.9 414 L345.5 414.2 L346.1 414.4 L346.6 414.4 L347.1 414.4 L347.6 414.3 L348.1 414.1 Z" stroke-width="1.75" fill="#fff"/>
<path d="M348.1 414.1 L348.5 413.9 L348.8 413.5 L349.1 413.1 L349.4 412.6 L349.6 412 L349.7 411.4 L349.8 410.7 L349.8 410 L349.7 409.2 L349.6 408.4 L349.4 407.6 L349.2 406.8 L348.9 406 L348.5 405.2 L348.1 404.4 L347.7 403.6 L347.2 402.8 L346.7 402.1 L346.1 401.5 L345.6 400.9 L345 400.3 L344.4 399.8 L343.8 399.4 L343.2 399.1 L342.6 398.9 L342 398.7 L341.5 398.6 L340.9 398.7 L340.5 398.8 L340 398.9 L339.6 399.2 L339.2 399.6 L338.9 400 L338.7 400.5 L338.5 401.1 L338.4 401.7 L338.3 402.4 L338.3 403.1 L338.3 403.8 L338.5 404.6 L338.7 405.4 L338.9 406.3 L339.2 407.1 L339.5 407.9 L339.9 408.7 L340.4 409.5 L340.9 410.2 L341.4 411 L341.9 411.6 L342.5 412.2 L343.1 412.8 L343.7 413.2 L344.3 413.6 L344.9 414 L345.5 414.2 L346.1 414.4 L346.6 414.4 L347.1 414.4 L347.6 414.3 L348.1 414.1 Z" stroke-width="1.75" fill="#fff"/>
<path d="M347.1 412.4 L347.5 412.2 L347.7 411.9 L348 411.6 L348.2 411.2 L348.3 410.7 L348.4 410.3 L348.4 409.7 L348.5 409.2 L348.4 408.6 L348.3 408 L348.2 407.4 L348 406.7 L347.8 406.1 L347.5 405.5 L347.2 404.9 L346.8 404.3 L346.5 403.7 L346.1 403.1 L345.7 402.6 L345.2 402.2 L344.8 401.8 L344.3 401.4 L343.8 401.1 L343.4 400.8 L342.9 400.7 L342.5 400.5 L342.1 400.5 L341.7 400.5 L341.3 400.6 L340.9 400.7 L325.4 409 L325.1 409.2 L324.8 409.4 L324.6 409.8 L324.4 410.2 L324.2 410.6 L324.1 411.1 L324.1 411.6 L324.1 412.1 L324.1 412.7 L324.2 413.3 L324.4 414 L324.5 414.6 L324.8 415.2 L325 415.9 L325.4 416.5 L325.7 417.1 L326.1 417.6 L326.5 418.2 L326.9 418.7 L327.3 419.2 L327.8 419.6 L328.2 419.9 L328.7 420.3 L329.2 420.5 L329.6 420.7 L330.1 420.8 L330.5 420.9 L330.9 420.8 L331.3 420.8 L331.6 420.6 Z" stroke-width="1.75" fill="#fff"/>
<path d="M331.6 420.6 L331.9 420.4 L332.2 420.2 L332.4 419.8 L332.6 419.4 L332.8 419 L332.9 418.5 L332.9 418 L332.9 417.5 L332.9 416.9 L332.8 416.3 L332.6 415.6 L332.5 415 L332.2 414.4 L332 413.7 L331.6 413.1 L331.3 412.5 L330.9 412 L330.5 411.4 L330.1 410.9 L329.7 410.4 L329.2 410 L328.8 409.7 L328.3 409.3 L327.8 409.1 L327.4 408.9 L326.9 408.8 L326.5 408.7 L326.1 408.8 L325.7 408.8 L325.4 409 L325.1 409.2 L324.8 409.4 L324.6 409.8 L324.4 410.2 L324.2 410.6 L324.1 411.1 L324.1 411.6 L324.1 412.1 L324.1 412.7 L324.2 413.3 L324.4 414 L324.5 414.6 L324.8 415.2 L325 415.9 L325.4 416.5 L325.7 417.1 L326.1 417.6 L326.5 418.2 L326.9 418.7 L327.3 419.2 L327.8 419.6 L328.2 419.9 L328.7 420.3 L329.2 420.5 L329.6 420.7 L330.1 420.8 L330.5 420.9 L330.9 420.8 L331.3 420.8 L331.6 420.6 Z" stroke-width="1.75" fill="#fff"/>
<line x1="363.9" y1="409.2" x2="391.3" y2="394.7" stroke-width="1.29"/>
<line x1="365" y1="407.5" x2="392.4" y2="392.9" stroke-width="1.29"/>
<line x1="365.5" y1="405" x2="392.9" y2="390.5" stroke-width="1.29"/>
<line x1="365.3" y1="402.1" x2="392.7" y2="387.6" stroke-width="1.29"/>
<line x1="364.4" y1="398.9" x2="391.8" y2="384.4" stroke-width="1.29"/>
<line x1="363" y1="395.8" x2="390.3" y2="381.2" stroke-width="1.29"/>
<line x1="361" y1="392.9" x2="388.4" y2="378.4" stroke-width="1.29"/>
<line x1="358.8" y1="390.6" x2="386.2" y2="376.1" stroke-width="1.29"/>
<line x1="356.5" y1="389.1" x2="383.8" y2="374.6" stroke-width="1.29"/>
<line x1="354.2" y1="388.5" x2="381.6" y2="373.9" stroke-width="1.29"/>
<line x1="352.3" y1="388.8" x2="379.7" y2="374.2" stroke-width="1.29"/>
<path d="M460.5 358.5 L461.1 358.1 L461.6 357.6 L462.1 357 L462.4 356.3 L462.7 355.5 L462.9 354.6 L463 353.6 L463 352.6 L462.9 351.5 L462.7 350.4 L462.5 349.2 L462.1 348.1 L461.7 346.9 L461.2 345.7 L460.6 344.5 L460 343.4 L459.3 342.4 L458.6 341.3 L457.8 340.4 L457 339.5 L456.1 338.8 L455.3 338.1 L454.4 337.5 L453.5 337 L452.7 336.7 L451.9 336.5 L451.1 336.4 L450.3 336.4 L449.6 336.5 L449 336.8" stroke-width="1.29"/>
<path d="M342.2 415 L342.5 414.8 L342.8 414.5 L343 414.2 L343.2 413.8 L343.4 413.4 L343.5 412.9 L343.5 412.4 L343.5 411.8 L343.5 411.2 L343.4 410.6 L343.2 410 L343 409.4 L342.8 408.7 L342.5 408.1 L342.2 407.5 L341.9 406.9 L341.5 406.3 L341.1 405.8 L340.7 405.3 L340.3 404.8 L339.8 404.4 L339.4 404 L338.9 403.7 L338.4 403.5 L338 403.3 L337.5 403.2 L337.1 403.1 L336.7 403.1 L336.3 403.2 L336 403.3" stroke-width="1.29"/>
<line x1="325.7" y1="419.2" x2="318.3" y2="422.8" stroke-width="1.75"/>
<path d="M342.7 377.8 L343.1 377.5 L343.5 377.2 L343.8 376.8 L344.1 376.4 L344.3 375.9 L344.5 375.4 L344.6 374.8 L344.7 374.2 L344.7 373.5 L344.7 372.9 L344.6 372.2 L344.4 371.5 L344.2 370.9 L344 370.2 L343.7 369.6 L343.3 369 L342.9 368.4 L342.5 367.8 L342 367.3 L341.5 366.9 L341 366.5 L340.4 366.1 L339.9 365.9 L339.3 365.6 L338.8 365.5 L338.3 365.4 L337.7 365.4 L337.2 365.5 L336.7 365.6 L336.3 365.8 L328.8 369.8 L328.3 370.1 L328 370.4 L327.6 370.8 L327.3 371.2 L327.1 371.7 L326.9 372.3 L326.8 372.8 L326.7 373.4 L326.7 374.1 L326.7 374.7 L326.8 375.4 L327 376.1 L327.2 376.7 L327.4 377.4 L327.8 378 L328.1 378.7 L328.5 379.2 L328.9 379.8 L329.4 380.3 L329.9 380.7 L330.4 381.1 L331 381.5 L331.5 381.8 L332.1 382 L332.6 382.1 L333.2 382.2 L333.7 382.2 L334.2 382.1 L334.7 382 L335.1 381.8 Z" stroke-width="1.52" fill="#fff"/>
<path d="M335.1 381.8 L335.6 381.5 L336 381.2 L336.3 380.8 L336.6 380.4 L336.8 379.9 L337 379.3 L337.1 378.8 L337.2 378.2 L337.2 377.5 L337.2 376.9 L337.1 376.2 L336.9 375.5 L336.7 374.9 L336.5 374.2 L336.2 373.6 L335.8 373 L335.4 372.4 L335 371.8 L334.5 371.3 L334 370.9 L333.5 370.5 L332.9 370.1 L332.4 369.8 L331.8 369.6 L331.3 369.5 L330.7 369.4 L330.2 369.4 L329.7 369.5 L329.2 369.6 L328.8 369.8 L328.3 370.1 L328 370.4 L327.6 370.8 L327.3 371.2 L327.1 371.7 L326.9 372.3 L326.8 372.8 L326.7 373.4 L326.7 374.1 L326.7 374.7 L326.8 375.4 L327 376.1 L327.2 376.7 L327.4 377.4 L327.8 378 L328.1 378.7 L328.5 379.2 L328.9 379.8 L329.4 380.3 L329.9 380.7 L330.4 381.1 L331 381.5 L331.5 381.8 L332.1 382 L332.6 382.1 L333.2 382.2 L333.7 382.2 L334.2 382.1 L334.7 382 L335.1 381.8 Z" stroke-width="1.52" fill="#fff"/>
<line x1="337.2" y1="377.9" x2="344.3" y2="374.2" stroke-width="1.17"/>
<line x1="334.8" y1="371.6" x2="341.9" y2="367.9" stroke-width="1.17"/>
<path d="M334.8 381.1 L335.1 380.9 L335.5 380.6 L335.8 380.2 L336 379.8 L336.2 379.4 L336.4 378.9 L336.5 378.4 L336.6 377.9 L336.6 377.3 L336.6 376.7 L336.5 376.2 L336.4 375.6 L336.2 375 L335.9 374.4 L335.7 373.8 L335.3 373.3 L335 372.8 L334.6 372.3 L334.2 371.8 L333.8 371.4 L333.3 371.1 L332.8 370.8 L332.3 370.5 L331.9 370.4 L331.4 370.2 L330.9 370.2 L330.4 370.2 L330 370.2 L329.5 370.3 L329.1 370.5 L326.9 371.7 L326.6 371.9 L326.2 372.2 L325.9 372.5 L325.7 372.9 L325.5 373.4 L325.3 373.8 L325.2 374.4 L325.1 374.9 L325.1 375.5 L325.1 376 L325.2 376.6 L325.3 377.2 L325.5 377.8 L325.8 378.4 L326 378.9 L326.4 379.5 L326.7 380 L327.1 380.5 L327.5 380.9 L327.9 381.3 L328.4 381.7 L328.9 382 L329.4 382.2 L329.8 382.4 L330.3 382.5 L330.8 382.6 L331.3 382.6 L331.7 382.6 L332.2 382.4 L332.6 382.3 Z" stroke-width="1.4" fill="#fff"/>
<path d="M332.6 382.3 L332.9 382 L333.3 381.7 L333.6 381.4 L333.8 381 L334 380.6 L334.2 380.1 L334.3 379.6 L334.4 379.1 L334.4 378.5 L334.4 377.9 L334.3 377.3 L334.1 376.7 L334 376.1 L333.7 375.6 L333.5 375 L333.1 374.5 L332.8 373.9 L332.4 373.5 L332 373 L331.5 372.6 L331.1 372.3 L330.6 372 L330.1 371.7 L329.6 371.5 L329.2 371.4 L328.7 371.3 L328.2 371.3 L327.8 371.4 L327.3 371.5 L326.9 371.7 L326.6 371.9 L326.2 372.2 L325.9 372.5 L325.7 372.9 L325.5 373.4 L325.3 373.8 L325.2 374.4 L325.1 374.9 L325.1 375.5 L325.1 376 L325.2 376.6 L325.3 377.2 L325.5 377.8 L325.8 378.4 L326 378.9 L326.4 379.5 L326.7 380 L327.1 380.5 L327.5 380.9 L327.9 381.3 L328.4 381.7 L328.9 382 L329.4 382.2 L329.8 382.4 L330.3 382.5 L330.8 382.6 L331.3 382.6 L331.7 382.6 L332.2 382.4 L332.6 382.3 Z" stroke-width="1.4" fill="#fff"/>
<path d="M331.2 379.8 L331.4 379.7 L331.6 379.5 L331.8 379.3 L331.9 379.1 L332 378.9 L332.1 378.6 L332.2 378.4 L332.2 378.1 L332.2 377.8 L332.2 377.5 L332.2 377.2 L332.1 376.8 L332 376.5 L331.9 376.2 L331.7 375.9 L331.6 375.6 L331.4 375.4 L331.2 375.1 L330.9 374.9 L330.7 374.7 L330.5 374.5 L330.2 374.3 L330 374.2 L329.7 374.1 L329.4 374 L329.2 374 L328.9 374 L328.7 374 L328.5 374.1 L328.2 374.1 L320.3 378.4 L320.1 378.5 L319.9 378.7 L319.8 378.8 L319.6 379 L319.5 379.3 L319.4 379.5 L319.4 379.8 L319.3 380.1 L319.3 380.4 L319.3 380.7 L319.4 381 L319.5 381.3 L319.6 381.6 L319.7 382 L319.8 382.3 L320 382.5 L320.2 382.8 L320.4 383.1 L320.6 383.3 L320.8 383.5 L321.1 383.7 L321.3 383.9 L321.6 384 L321.9 384.1 L322.1 384.2 L322.4 384.2 L322.6 384.2 L322.9 384.2 L323.1 384.1 L323.3 384 Z" stroke-width="1.4" fill="#fff"/>
<path d="M323.3 384 L323.5 383.9 L323.7 383.7 L323.8 383.6 L324 383.4 L324.1 383.1 L324.2 382.9 L324.2 382.6 L324.3 382.3 L324.3 382 L324.3 381.7 L324.2 381.4 L324.1 381.1 L324 380.8 L323.9 380.4 L323.8 380.1 L323.6 379.9 L323.4 379.6 L323.2 379.3 L323 379.1 L322.8 378.9 L322.5 378.7 L322.3 378.5 L322 378.4 L321.7 378.3 L321.5 378.2 L321.2 378.2 L321 378.2 L320.7 378.2 L320.5 378.3 L320.3 378.4 L320.1 378.5 L319.9 378.7 L319.8 378.8 L319.6 379 L319.5 379.3 L319.4 379.5 L319.4 379.8 L319.3 380.1 L319.3 380.4 L319.3 380.7 L319.4 381 L319.5 381.3 L319.6 381.6 L319.7 382 L319.8 382.3 L320 382.5 L320.2 382.8 L320.4 383.1 L320.6 383.3 L320.8 383.5 L321.1 383.7 L321.3 383.9 L321.6 384 L321.9 384.1 L322.1 384.2 L322.4 384.2 L322.6 384.2 L322.9 384.2 L323.1 384.1 L323.3 384 Z" stroke-width="1.4" fill="#fff"/>
<path d="M325.1 383.1 L325.3 383 L325.4 382.8 L325.6 382.6 L325.7 382.4 L325.9 382.2 L325.9 381.9 L326 381.7 L326 381.4 L326 381.1 L326 380.8 L326 380.4 L325.9 380.1 L325.8 379.8 L325.7 379.5 L325.5 379.2 L325.4 378.9 L325.2 378.6 L325 378.4 L324.8 378.2 L324.5 377.9 L324.3 377.7 L324 377.6 L323.8 377.5 L323.5 377.4 L323.3 377.3 L323 377.3 L322.7 377.2 L322.5 377.3 L322.3 377.3 L322.1 377.4" stroke-width="1.17"/>
<path d="M327 382.1 L327.2 381.9 L327.4 381.8 L327.5 381.6 L327.7 381.4 L327.8 381.1 L327.9 380.9 L327.9 380.6 L328 380.3 L328 380 L328 379.7 L327.9 379.4 L327.9 379.1 L327.8 378.8 L327.6 378.5 L327.5 378.2 L327.3 377.9 L327.1 377.6 L326.9 377.4 L326.7 377.1 L326.5 376.9 L326.2 376.7 L326 376.6 L325.7 376.4 L325.5 376.3 L325.2 376.3 L324.9 376.2 L324.7 376.2 L324.5 376.2 L324.2 376.3 L324 376.4" stroke-width="1.17"/>
<path d="M329 381 L329.2 380.9 L329.3 380.7 L329.5 380.6 L329.6 380.3 L329.7 380.1 L329.8 379.9 L329.9 379.6 L329.9 379.3 L329.9 379 L329.9 378.7 L329.9 378.4 L329.8 378.1 L329.7 377.8 L329.6 377.4 L329.4 377.1 L329.3 376.9 L329.1 376.6 L328.9 376.3 L328.6 376.1 L328.4 375.9 L328.2 375.7 L327.9 375.5 L327.7 375.4 L327.4 375.3 L327.1 375.2 L326.9 375.2 L326.6 375.2 L326.4 375.2 L326.2 375.3 L325.9 375.4" stroke-width="1.17"/>
<path d="M265.8 396.7 L318.8 426.1 L319.2 445.8 L305.1 438.9 C298 435 297 428 291.3 424.5 C286 421.5 282 425.5 278.6 423.6 C275 421.5 272 418.5 266.8 416.3 Z" stroke-width="1.75" fill="#fff"/>
<path d="M268.5 399.5 L316 426 L316.3 443.5" stroke-width="1.29"/>
<circle cx="272.7" cy="409.8" r="2.4" stroke-width="1.2"/>
<circle cx="311" cy="432.6" r="2.4" stroke-width="1.2"/>
<path d="M261.1 484.5 L262.4 483.7 L263.6 482.6 L264.6 481.3 L265.4 479.8 L266.1 478 L266.5 476.1 L266.8 474.1 L266.9 471.9 L266.8 469.6 L266.5 467.2 L266 464.8 L265.3 462.3 L264.4 459.8 L263.4 457.4 L262.2 455 L260.9 452.6 L259.4 450.4 L257.8 448.3 L256.2 446.4 L254.4 444.6 L252.6 443 L250.8 441.6 L248.9 440.5 L247.1 439.6 L245.2 438.9 L243.4 438.5 L241.7 438.3 L240.1 438.4 L238.5 438.7 L237.1 439.3 L228.7 443.8 L227.4 444.6 L226.2 445.7 L225.2 447.1 L224.4 448.6 L223.7 450.3 L223.3 452.2 L223 454.3 L222.9 456.5 L223 458.8 L223.3 461.1 L223.8 463.6 L224.5 466 L225.4 468.5 L226.4 471 L227.6 473.4 L228.9 475.7 L230.4 477.9 L231.9 480 L233.6 482 L235.4 483.7 L237.2 485.3 L239 486.7 L240.9 487.9 L242.7 488.8 L244.6 489.5 L246.3 489.9 L248.1 490.1 L249.7 490 L251.3 489.6 L252.7 489 Z" stroke-width="1.75" fill="#fff"/>
<path d="M252.7 489 L254 488.2 L255.2 487.1 L256.2 485.7 L257 484.2 L257.7 482.5 L258.1 480.6 L258.4 478.5 L258.5 476.3 L258.4 474 L258.1 471.7 L257.6 469.2 L256.9 466.8 L256 464.3 L255 461.8 L253.8 459.4 L252.5 457.1 L251 454.9 L249.5 452.8 L247.8 450.8 L246 449.1 L244.2 447.5 L242.4 446.1 L240.5 444.9 L238.7 444 L236.8 443.3 L235.1 442.9 L233.3 442.7 L231.7 442.8 L230.1 443.2 L228.7 443.8 L227.4 444.6 L226.2 445.7 L225.2 447.1 L224.4 448.6 L223.7 450.3 L223.3 452.2 L223 454.3 L222.9 456.5 L223 458.8 L223.3 461.1 L223.8 463.6 L224.5 466 L225.4 468.5 L226.4 471 L227.6 473.4 L228.9 475.7 L230.4 477.9 L231.9 480 L233.6 482 L235.4 483.7 L237.2 485.3 L239 486.7 L240.9 487.9 L242.7 488.8 L244.6 489.5 L246.3 489.9 L248.1 490.1 L249.7 490 L251.3 489.6 L252.7 489 Z" stroke-width="1.75" fill="#fff"/>
<path d="M251.2 486.1 L252.3 485.3 L253.3 484.4 L254.2 483.2 L254.9 481.9 L255.5 480.4 L255.9 478.7 L256.1 477 L256.2 475.1 L256.1 473.1 L255.8 471 L255.4 468.9 L254.8 466.7 L254 464.6 L253.1 462.4 L252.1 460.3 L251 458.3 L249.7 456.4 L248.3 454.6 L246.9 452.9 L245.3 451.3 L243.8 449.9 L242.2 448.7 L240.6 447.7 L238.9 446.9 L237.3 446.3 L235.8 446 L234.3 445.8 L232.8 445.9 L231.5 446.2 L230.2 446.7 L229.1 447.5 L228.1 448.4 L227.2 449.6 L226.5 450.9 L225.9 452.4 L225.5 454.1 L225.3 455.8 L225.2 457.7 L225.3 459.7 L225.6 461.8 L226 463.9 L226.6 466.1 L227.4 468.2 L228.3 470.4 L229.3 472.5 L230.4 474.5 L231.7 476.4 L233.1 478.2 L234.5 479.9 L236.1 481.5 L237.6 482.9 L239.2 484.1 L240.8 485.1 L242.5 485.9 L244.1 486.5 L245.6 486.8 L247.1 487 L248.6 486.9 L249.9 486.6 L251.2 486.1 Z" stroke-width="1.49"/>
<path d="M249.1 482.2 L250 481.6 L250.8 480.9 L251.5 479.9 L252.1 478.9 L252.6 477.7 L252.9 476.3 L253.1 474.9 L253.1 473.4 L253.1 471.8 L252.9 470.1 L252.5 468.4 L252 466.6 L251.4 464.9 L250.7 463.2 L249.9 461.5 L248.9 459.9 L247.9 458.3 L246.8 456.9 L245.7 455.5 L244.4 454.3 L243.2 453.2 L241.9 452.2 L240.6 451.4 L239.3 450.7 L238 450.3 L236.7 450 L235.5 449.8 L234.4 449.9 L233.3 450.2 L232.3 450.6 L231.4 451.2 L230.6 451.9 L229.9 452.9 L229.3 453.9 L228.8 455.1 L228.5 456.5 L228.3 457.9 L228.3 459.4 L228.3 461 L228.5 462.7 L228.9 464.4 L229.4 466.2 L230 467.9 L230.7 469.6 L231.5 471.3 L232.5 472.9 L233.5 474.5 L234.6 475.9 L235.7 477.3 L237 478.5 L238.2 479.6 L239.5 480.6 L240.8 481.4 L242.1 482.1 L243.4 482.5 L244.7 482.8 L245.9 483 L247 482.9 L248.1 482.6 L249.1 482.2 Z" stroke-width="1.49"/>
<path d="M246.6 477.5 L247.2 477.1 L247.8 476.5 L248.3 475.9 L248.7 475.1 L249 474.3 L249.2 473.4 L249.4 472.3 L249.4 471.3 L249.4 470.1 L249.2 469 L249 467.8 L248.6 466.6 L248.2 465.4 L247.7 464.2 L247.1 463 L246.5 461.8 L245.8 460.8 L245 459.7 L244.2 458.8 L243.3 457.9 L242.4 457.1 L241.5 456.5 L240.6 455.9 L239.7 455.4 L238.8 455.1 L237.9 454.9 L237.1 454.8 L236.3 454.9 L235.5 455 L234.8 455.3 L234.2 455.7 L233.6 456.3 L233.1 456.9 L232.7 457.7 L232.4 458.5 L232.2 459.4 L232 460.5 L232 461.5 L232 462.7 L232.2 463.8 L232.4 465 L232.8 466.2 L233.2 467.4 L233.7 468.6 L234.3 469.8 L234.9 471 L235.6 472 L236.4 473.1 L237.2 474 L238.1 474.9 L239 475.7 L239.9 476.3 L240.8 476.9 L241.7 477.4 L242.6 477.7 L243.5 477.9 L244.3 478 L245.1 477.9 L245.9 477.8 L246.6 477.5 Z" stroke-width="1.49"/>
<line x1="216" y1="481.3" x2="241" y2="468" stroke-width="1.75"/>
<path d="M197.6 472.9 L196.9 473.5 L196.3 474.3 L195.8 475.2 L195.4 476.3 L195.1 477.5 L195 478.8 L195 480.2 L195.1 481.6 L195.3 483.2 L195.6 484.7 L196.1 486.3 L196.6 487.9 L197.3 489.5 L198.1 491.1 L198.9 492.6 L199.9 494 L200.9 495.4 L201.9 496.7 L203 497.9 L204.1 498.9 L205.3 499.8 L206.5 500.6 L207.6 501.2 L208.8 501.7 L209.9 502 L210.9 502.1 L211.9 502.1 L212.9 501.9 L213.8 501.6 L214.5 501 L215.2 500.4 L215.8 499.5 L216.3 498.6 L216.7 497.5 L216.9 496.3 L217 494.9 L217 493.5 L216.9 492.1 L216.7 490.5 L216.3 489 L215.8 487.4 L215.2 485.8 L214.6 484.2 L213.8 482.6 L212.9 481.1 L212 479.7 L211 478.4 L209.9 477.1 L208.8 475.9 L207.6 474.9 L206.5 474 L205.3 473.3 L204.2 472.7" stroke-width="1.75"/>
<path d="M198.9 475 L198.3 475.5 L197.8 476.2 L197.3 477 L197 477.9 L196.8 478.9 L196.7 480 L196.6 481.2 L196.7 482.5 L196.9 483.7 L197.2 485.1 L197.6 486.4 L198.1 487.8 L198.6 489.1 L199.3 490.4 L200 491.7 L200.8 493 L201.6 494.1 L202.5 495.2 L203.5 496.2 L204.4 497.1 L205.4 497.9 L206.4 498.5 L207.4 499.1 L208.3 499.5 L209.3 499.7 L210.2 499.9 L211 499.8 L211.8 499.7 L212.6 499.4 L213.2 498.9 L213.8 498.3 L214.3 497.6 L214.7 496.8 L215 495.9 L215.2 494.9 L215.4 493.7 L215.4 492.6 L215.3 491.3 L215 490 L214.7 488.7 L214.3 487.3 L213.8 486 L213.3 484.6 L212.6 483.3 L211.9 482 L211.1 480.8 L210.2 479.7 L209.3 478.6 L208.4 477.6 L207.4 476.7 L206.4 476 L205.4 475.3 L204.4 474.8" stroke-width="1.75"/>
<circle cx="198.5" cy="473.8" r="1.6" fill="#1c1c1c" stroke="none"/>
<circle cx="204" cy="473.6" r="1.6" fill="#1c1c1c" stroke="none"/>
<line x1="191.3" y1="493.8" x2="206" y2="486.3" stroke-width="1.75"/>
<path d="M187.4 517.5 L188.4 516.9 L189.2 516 L190 515 L190.5 513.8 L191 512.5 L191.3 511 L191.5 509.4 L191.5 507.7 L191.3 505.8 L191.1 504 L190.6 502 L190.1 500.1 L189.3 498.1 L188.5 496.1 L187.6 494.2 L186.5 492.4 L185.3 490.6 L184.1 488.9 L182.8 487.3 L181.4 485.9 L180 484.6 L178.6 483.4 L177.2 482.5 L175.7 481.7 L174.3 481.1 L173 480.8 L171.6 480.6 L170.4 480.6 L169.2 480.9 L168.2 481.3 L162 484.6 L161 485.2 L160.2 486.1 L159.4 487.1 L158.8 488.3 L158.4 489.6 L158.1 491.1 L157.9 492.7 L157.9 494.5 L158 496.3 L158.3 498.2 L158.8 500.1 L159.3 502 L160 504 L160.9 506 L161.8 507.9 L162.9 509.8 L164 511.5 L165.3 513.2 L166.6 514.8 L167.9 516.3 L169.3 517.5 L170.8 518.7 L172.2 519.6 L173.6 520.4 L175 521 L176.4 521.3 L177.7 521.5 L179 521.5 L180.1 521.2 L181.2 520.8 Z" stroke-width="1.75" fill="#fff"/>
<path d="M181.2 520.8 L182.2 520.2 L183 519.3 L183.8 518.3 L184.4 517.1 L184.8 515.8 L185.1 514.3 L185.3 512.7 L185.3 510.9 L185.2 509.1 L184.9 507.2 L184.4 505.3 L183.9 503.4 L183.2 501.4 L182.3 499.4 L181.4 497.5 L180.3 495.6 L179.2 493.9 L177.9 492.2 L176.6 490.6 L175.3 489.1 L173.9 487.9 L172.4 486.7 L171 485.8 L169.6 485 L168.2 484.4 L166.8 484.1 L165.5 483.9 L164.2 483.9 L163.1 484.2 L162 484.6 L161 485.2 L160.2 486.1 L159.4 487.1 L158.8 488.3 L158.4 489.6 L158.1 491.1 L157.9 492.7 L157.9 494.5 L158 496.3 L158.3 498.2 L158.8 500.1 L159.3 502 L160 504 L160.9 506 L161.8 507.9 L162.9 509.8 L164 511.5 L165.3 513.2 L166.6 514.8 L167.9 516.3 L169.3 517.5 L170.8 518.7 L172.2 519.6 L173.6 520.4 L175 521 L176.4 521.3 L177.7 521.5 L179 521.5 L180.1 521.2 L181.2 520.8 Z" stroke-width="1.75" fill="#fff"/>
<path d="M177.5 513.7 L178.1 513.3 L178.6 512.8 L179 512.2 L179.4 511.5 L179.7 510.7 L179.9 509.8 L179.9 508.8 L180 507.7 L179.9 506.6 L179.7 505.5 L179.4 504.3 L179.1 503.1 L178.6 501.9 L178.1 500.7 L177.6 499.5 L176.9 498.4 L176.2 497.3 L175.5 496.3 L174.7 495.3 L173.8 494.4 L173 493.6 L172.1 493 L171.2 492.4 L170.4 491.9 L169.5 491.6 L168.7 491.3 L167.9 491.2 L167.1 491.2 L166.4 491.4 L165.7 491.7 L165.1 492.1 L164.6 492.6 L164.2 493.2 L163.8 493.9 L163.5 494.7 L163.3 495.6 L163.3 496.6 L163.2 497.7 L163.3 498.8 L163.5 499.9 L163.8 501.1 L164.1 502.3 L164.6 503.5 L165.1 504.7 L165.6 505.9 L166.3 507 L167 508.1 L167.7 509.1 L168.5 510.1 L169.4 511 L170.2 511.8 L171.1 512.4 L172 513 L172.8 513.5 L173.7 513.8 L174.5 514.1 L175.3 514.2 L176.1 514.2 L176.8 514 L177.5 513.7 Z" stroke-width="1.75"/>
<path d="M168.5 491.1 L168.1 491.8 L167.9 492.7 L167.7 493.6 L167.7 494.7 L167.7 495.8 L167.8 496.9 L168 498.1 L168.3 499.3 L168.7 500.5 L169.2 501.7 L169.8 502.9 L170.4 504.1 L171.1 505.2 L171.8 506.3 L172.6 507.3 L173.4 508.2 L174.3 509.1 L175.2 509.8 L176 510.5 L176.9 511 L177.8 511.4 L178.7 511.7 L179.5 511.8" stroke-width="1.75"/>
<path d="M174.7 491.1 L173.5 490 L172.2 489 L171 488.2 L169.7 487.5 L168.5 487 L167.3 486.7 L166.1 486.6 L165 486.7 L164 487 L163.1 487.4 L162.3 488 L161.6 488.8 L161 489.8 L160.5 490.9 L160.2 492.1 L160 493.5 L159.9 495 L160 496.5 L160.2 498.2 L160.5 499.9 L160.9 501.6" stroke-width="1.17"/>
<line x1="146" y1="518" x2="171" y2="503.5" stroke-width="1.75"/>
<path d="M74.7 479.4 L81.3 475.7 L88.9 477.1 L119.5 493.5 L152.4 520.6 L171.3 550.1 L179.3 571.2 L178.3 581.8 L172.5 608.9 L167.7 614.8 L159 615.3 L142.6 608.9 L140.2 612.7 L139 625.4 L128.9 632.5 L100.6 623.5 L96.6 618.8 L67.7 576 L58.3 540.6 L61.8 525.3 L65.3 511.2 Z" stroke-width="1.75" fill="#fff"/>
<path d="M88.4 478.9 L111.2 493.5 L147.7 518.7 L167.7 550.1 L176 571.2 L175 580.7 L170.1 606.6 L166.1 612.2 L159 612.7 L143 606.6" stroke-width="1.52"/>
<path d="M143 606.6 L137.1 601.9 L111.2 564.2" stroke-width="1.52"/>
<path d="M140.2 612.7 L107.7 567" stroke-width="1.52"/>
<path d="M97.1 566.5 L105.3 611.7 L111.2 607 L100.6 564.7" stroke-width="1.52"/>
<path d="M108.9 496.4 L98.3 527.7" stroke-width="1.52"/>
<path d="M105.3 497.8 L94.8 526" stroke-width="1.52"/>
<path d="M111.2 498.3 L111.2 507.7" stroke-width="1.4"/>
<path d="M73.6 518.3 L94.8 530" stroke-width="1.52"/>
<path d="M158.5 581.3 L160.8 579.8 L162.9 578 L164.7 575.9 L166.2 573.4 L167.5 570.7 L168.5 567.7 L169.2 564.5 L169.6 561.1 L169.6 557.6 L169.3 554 L168.8 550.3 L167.9 546.5 L166.7 542.8 L165.2 539.1 L163.5 535.6 L161.5 532.1 L159.3 528.9 L156.9 525.8 L154.3 523 L151.5 520.4 L148.6 518.2 L145.7 516.2 L142.7 514.7 L139.6 513.4 L136.6 512.6 L133.6 512.1 L130.7 512 L128 512.4 L125.3 513.1 L122.8 514.1 L120.5 515.6 L118.5 517.4 L116.6 519.5 L115.1 522 L113.8 524.7 L112.8 527.7 L112.1 530.9 L111.8 534.3 L111.7 537.8 L112 541.4 L112.6 545.1 L113.5 548.9 L114.6 552.6 L116.1 556.3 L117.9 559.8 L119.8 563.3 L122.1 566.5 L124.5 569.6 L127.1 572.4 L129.8 575 L132.7 577.2 L135.6 579.2 L138.7 580.8 L141.7 582 L144.7 582.8 L147.7 583.3 L150.6 583.4 L153.4 583 L156 582.3 L158.5 581.3 Z" stroke-width="1.52" stroke-dasharray="7 4"/>
<path d="M111.2 528.9 L117.1 543 L131.2 554.8 L140.7 568.9 L143 580.7 L138.3 592.4" stroke-width="1.4" stroke-dasharray="7 4"/>
<ellipse cx="138.8" cy="545.8" rx="5.2" ry="6.1" stroke-width="1.2" fill="#fff"/>
<ellipse cx="138.8" cy="546.3" rx="2" ry="2.4" stroke-width="1.6" fill="#fff"/>
<path d="M107.7 560.7 L112.4 563 L117.6 570.1 L124.2 566.1 L133.6 560.7 L147.7 558.5" stroke-width="1.4"/>
<path d="M109.1 559 L113.8 561.4 L118.5 567.7 L133.6 558.8 L147.3 556.6" stroke-width="1.4"/>
<ellipse cx="82.3" cy="486" rx="2.7" ry="3.2" stroke-width="1.3" fill="#fff"/>
<ellipse cx="128.9" cy="512.9" rx="2.7" ry="3.2" stroke-width="1.3" fill="#fff"/>
<ellipse cx="159" cy="560.7" rx="2.7" ry="3.2" stroke-width="1.3" fill="#fff"/>
<ellipse cx="159" cy="608.9" rx="2.7" ry="3.2" stroke-width="1.3" fill="#fff"/>
<ellipse cx="128.9" cy="623.5" rx="2.7" ry="3.2" stroke-width="1.3" fill="#fff"/>
<ellipse cx="101.3" cy="618.6" rx="2.7" ry="3.2" stroke-width="1.3" fill="#fff"/>
<ellipse cx="147.7" cy="522.3" rx="2.4" ry="2.8" stroke-width="1.2" fill="#fff"/>
<path d="M73.6 520.6 L65.3 525.3 L58.3 528.9 L56.4 534.8 L59.4 538.8 L67.7 535.9 L73.6 532.4" stroke-width="1.52" fill="#fff"/>
<ellipse cx="60.6" cy="532.6" rx="1.4" ry="1.6" stroke-width="1.1" fill="#fff"/>
<ellipse cx="67.7" cy="524.9" rx="1.4" ry="1.6" stroke-width="1.1" fill="#fff"/>
<path d="M101.6 555.5 L102.2 555.1 L102.8 554.6 L103.2 553.9 L103.6 553.1 L103.9 552.2 L104.1 551.3 L104.2 550.2 L104.2 549.1 L104.1 547.9 L104 546.7 L103.7 545.5 L103.3 544.2 L102.8 542.9 L102.3 541.6 L101.7 540.4 L101 539.2 L100.2 538 L99.4 536.9 L98.6 535.9 L97.7 535 L96.8 534.1 L95.9 533.4 L94.9 532.8 L94 532.3 L93.1 531.9 L92.2 531.7 L91.4 531.6 L90.5 531.6 L89.8 531.7 L89.1 532 L48.5 553.6 L47.9 554 L47.3 554.6 L46.8 555.2 L46.4 556 L46.1 556.9 L45.9 557.8 L45.8 558.9 L45.8 560 L45.9 561.2 L46.1 562.4 L46.4 563.7 L46.8 564.9 L47.2 566.2 L47.8 567.5 L48.4 568.7 L49.1 569.9 L49.8 571.1 L50.6 572.2 L51.5 573.2 L52.4 574.2 L53.3 575 L54.2 575.7 L55.1 576.3 L56 576.8 L57 577.2 L57.8 577.5 L58.7 577.6 L59.5 577.5 L60.3 577.4 L61 577.1 Z" stroke-width="1.75" fill="#fff"/>
<path d="M61 577.1 L61.6 576.7 L62.1 576.1 L62.6 575.5 L63 574.7 L63.3 573.8 L63.5 572.9 L63.6 571.8 L63.6 570.7 L63.5 569.5 L63.3 568.3 L63.1 567.1 L62.7 565.8 L62.2 564.5 L61.7 563.2 L61.1 562 L60.4 560.8 L59.6 559.6 L58.8 558.5 L58 557.5 L57.1 556.6 L56.2 555.7 L55.3 555 L54.3 554.4 L53.4 553.9 L52.5 553.5 L51.6 553.3 L50.7 553.2 L49.9 553.2 L49.2 553.3 L48.5 553.6 L47.9 554 L47.3 554.6 L46.8 555.2 L46.4 556 L46.1 556.9 L45.9 557.8 L45.8 558.9 L45.8 560 L45.9 561.2 L46.1 562.4 L46.4 563.7 L46.8 564.9 L47.2 566.2 L47.8 567.5 L48.4 568.7 L49.1 569.9 L49.8 571.1 L50.6 572.2 L51.5 573.2 L52.4 574.2 L53.3 575 L54.2 575.7 L55.1 576.3 L56 576.8 L57 577.2 L57.8 577.5 L58.7 577.6 L59.5 577.5 L60.3 577.4 L61 577.1 Z" stroke-width="1.75" fill="#fff"/>
<path d="M59.6 574.5 L60 574.1 L60.5 573.7 L60.8 573.2 L61.1 572.6 L61.4 571.9 L61.5 571.2 L61.6 570.4 L61.6 569.5 L61.5 568.6 L61.4 567.6 L61.2 566.7 L60.9 565.7 L60.5 564.7 L60.1 563.7 L59.6 562.8 L59.1 561.8 L58.5 560.9 L57.9 560.1 L57.2 559.3 L56.6 558.6 L55.9 557.9 L55.1 557.3 L54.4 556.9 L53.7 556.5 L53 556.2 L52.3 556 L51.6 555.9 L51 555.9 L50.4 556 L49.9 556.3 L49.4 556.6 L49 557 L48.6 557.5 L48.3 558.1 L48.1 558.8 L47.9 559.5 L47.8 560.4 L47.8 561.2 L47.9 562.1 L48.1 563.1 L48.3 564 L48.6 565 L48.9 566 L49.3 567 L49.8 568 L50.3 568.9 L50.9 569.8 L51.5 570.7 L52.2 571.4 L52.9 572.2 L53.6 572.8 L54.3 573.4 L55 573.9 L55.7 574.3 L56.5 574.5 L57.1 574.7 L57.8 574.8 L58.4 574.8 L59 574.7 L59.6 574.5 Z" stroke-width="1.75"/>
<path d="M54.7 554.4 L54.4 555.1 L54.2 555.8 L54.1 556.6 L54 557.5 L54 558.4 L54.2 559.3 L54.3 560.3 L54.6 561.3 L55 562.4 L55.4 563.4 L55.8 564.4 L56.4 565.4 L57 566.3 L57.6 567.2 L58.3 568 L59 568.8 L59.7 569.5 L60.4 570.1 L61.2 570.6 L61.9 571 L62.6 571.3" stroke-width="1.29"/>
<path d="M98.1 557.4 L98.7 557 L99.2 556.4 L99.7 555.8 L100.1 555 L100.4 554.1 L100.6 553.2 L100.7 552.1 L100.7 551 L100.6 549.8 L100.4 548.6 L100.1 547.3 L99.8 546.1 L99.3 544.8 L98.8 543.5 L98.1 542.3 L97.5 541.1 L96.7 539.9 L95.9 538.8 L95.1 537.8 L94.2 536.9 L93.3 536 L92.3 535.3 L91.4 534.7 L90.5 534.2 L89.6 533.8 L88.7 533.5 L87.8 533.4 L87 533.5 L86.3 533.6 L85.6 533.9" stroke-width="1.4"/>
<path d="M102.6 557.5 L103.6 557.5 L104.6 557.4 L105.5 557 L106.3 556.6 L107 555.9 L107.7 555.1 L108.2 554.2 L108.6 553.1 L108.8 551.9 L109 550.6 L109 549.2 L108.9 547.7 L108.7 546.2 L108.4 544.6 L107.9 543 L107.3 541.4 L106.6 539.7 L105.9 538.2 L105 536.6 L104 535.2 L103 533.8 L101.9 532.5 L100.8 531.3 L99.7 530.3 L98.5 529.4 L97.3 528.6 L96.2 528 L95 527.6 L93.9 527.3 L92.8 527.2 L91.8 527.3 L90.9 527.5 L90 527.9 L89.2 528.5 L88.6 529.2 L88 530.1" stroke-width="1.52"/>
<ellipse cx="67.7" cy="551.7" rx="1.8" ry="2.1" stroke-width="1.1" fill="#fff" stroke-dasharray="3 2"/>
<path d="M82.5 632 L82.7 631.9 L82.9 631.7 L83.1 631.5 L83.2 631.3 L83.3 631.1 L83.4 630.8 L83.5 630.5 L83.5 630.2 L83.5 629.9 L83.5 629.6 L83.5 629.2 L83.4 628.9 L83.3 628.6 L83.1 628.2 L83 627.9 L82.8 627.6 L82.6 627.3 L82.4 627 L82.2 626.8 L81.9 626.6 L81.7 626.4 L81.4 626.2 L81.1 626.1 L80.8 625.9 L80.6 625.9 L80.3 625.8 L80 625.8 L79.8 625.9 L79.5 625.9 L79.3 626 L64.3 634 L64.1 634.1 L63.9 634.3 L63.7 634.5 L63.6 634.7 L63.4 635 L63.4 635.2 L63.3 635.5 L63.3 635.8 L63.2 636.2 L63.3 636.5 L63.3 636.8 L63.4 637.1 L63.5 637.5 L63.6 637.8 L63.8 638.1 L64 638.4 L64.2 638.7 L64.4 639 L64.6 639.3 L64.9 639.5 L65.1 639.7 L65.4 639.9 L65.7 640 L65.9 640.1 L66.2 640.2 L66.5 640.2 L66.7 640.2 L67 640.2 L67.2 640.1 L67.5 640 Z" stroke-width="1.4" fill="#fff"/>
<path d="M67.5 640 L67.7 639.9 L67.9 639.7 L68 639.5 L68.2 639.3 L68.3 639.1 L68.4 638.8 L68.5 638.5 L68.5 638.2 L68.5 637.9 L68.5 637.5 L68.4 637.2 L68.4 636.9 L68.3 636.5 L68.1 636.2 L68 635.9 L67.8 635.6 L67.6 635.3 L67.4 635 L67.2 634.8 L66.9 634.5 L66.6 634.3 L66.4 634.2 L66.1 634 L65.8 633.9 L65.5 633.9 L65.3 633.8 L65 633.8 L64.8 633.8 L64.5 633.9 L64.3 634 L64.1 634.1 L63.9 634.3 L63.7 634.5 L63.6 634.7 L63.4 635 L63.4 635.2 L63.3 635.5 L63.3 635.8 L63.2 636.2 L63.3 636.5 L63.3 636.8 L63.4 637.1 L63.5 637.5 L63.6 637.8 L63.8 638.1 L64 638.4 L64.2 638.7 L64.4 639 L64.6 639.3 L64.9 639.5 L65.1 639.7 L65.4 639.9 L65.7 640 L65.9 640.1 L66.2 640.2 L66.5 640.2 L66.7 640.2 L67 640.2 L67.2 640.1 L67.5 640 Z" stroke-width="1.4" fill="#fff"/>
<path d="M70.1 638.6 L70.3 638.5 L70.5 638.3 L70.7 638.1 L70.8 637.9 L71 637.6 L71.1 637.4 L71.1 637.1 L71.2 636.8 L71.2 636.5 L71.1 636.1 L71.1 635.8 L71 635.5 L70.9 635.1 L70.8 634.8 L70.6 634.5 L70.5 634.2 L70.3 633.9 L70 633.6 L69.8 633.4 L69.6 633.1 L69.3 632.9 L69 632.8 L68.7 632.6 L68.5 632.5 L68.2 632.4 L67.9 632.4 L67.7 632.4 L67.4 632.4 L67.2 632.5 L66.9 632.6" stroke-width="1.17"/>
<path d="M72.3 637.4 L72.5 637.3 L72.7 637.1 L72.9 636.9 L73 636.7 L73.2 636.5 L73.3 636.2 L73.3 635.9 L73.4 635.6 L73.4 635.3 L73.4 635 L73.3 634.6 L73.2 634.3 L73.1 634 L73 633.6 L72.8 633.3 L72.7 633 L72.5 632.7 L72.2 632.4 L72 632.2 L71.8 632 L71.5 631.8 L71.2 631.6 L71 631.5 L70.7 631.3 L70.4 631.3 L70.1 631.2 L69.9 631.2 L69.6 631.3 L69.4 631.3 L69.1 631.4" stroke-width="1.17"/>
<path d="M74.5 636.3 L74.8 636.1 L74.9 636 L75.1 635.8 L75.3 635.5 L75.4 635.3 L75.5 635 L75.5 634.7 L75.6 634.4 L75.6 634.1 L75.6 633.8 L75.5 633.5 L75.4 633.1 L75.3 632.8 L75.2 632.5 L75 632.1 L74.9 631.8 L74.7 631.5 L74.4 631.3 L74.2 631 L74 630.8 L73.7 630.6 L73.4 630.4 L73.2 630.3 L72.9 630.2 L72.6 630.1 L72.3 630.1 L72.1 630.1 L71.8 630.1 L71.6 630.2 L71.3 630.3" stroke-width="1.17"/>
<path d="M76.7 635.1 L77 635 L77.1 634.8 L77.3 634.6 L77.5 634.4 L77.6 634.1 L77.7 633.9 L77.7 633.6 L77.8 633.3 L77.8 632.9 L77.8 632.6 L77.7 632.3 L77.6 631.9 L77.5 631.6 L77.4 631.3 L77.3 631 L77.1 630.7 L76.9 630.4 L76.7 630.1 L76.4 629.8 L76.2 629.6 L75.9 629.4 L75.6 629.2 L75.4 629.1 L75.1 629 L74.8 628.9 L74.5 628.9 L74.3 628.9 L74 628.9 L73.8 629 L73.6 629.1" stroke-width="1.17"/>
<path d="M79 633.9 L79.2 633.8 L79.4 633.6 L79.5 633.4 L79.7 633.2 L79.8 633 L79.9 632.7 L80 632.4 L80 632.1 L80 631.8 L80 631.4 L79.9 631.1 L79.9 630.8 L79.7 630.4 L79.6 630.1 L79.5 629.8 L79.3 629.5 L79.1 629.2 L78.9 628.9 L78.6 628.7 L78.4 628.4 L78.1 628.2 L77.9 628.1 L77.6 627.9 L77.3 627.8 L77 627.8 L76.8 627.7 L76.5 627.7 L76.2 627.7 L76 627.8 L75.8 627.9" stroke-width="1.17"/>
<path d="M81.2 632.7 L81.4 632.6 L81.6 632.4 L81.7 632.2 L81.9 632 L82 631.8 L82.1 631.5 L82.2 631.2 L82.2 630.9 L82.2 630.6 L82.2 630.3 L82.1 629.9 L82.1 629.6 L82 629.3 L81.8 628.9 L81.7 628.6 L81.5 628.3 L81.3 628 L81.1 627.7 L80.8 627.5 L80.6 627.3 L80.3 627.1 L80.1 626.9 L79.8 626.8 L79.5 626.7 L79.2 626.6 L79 626.5 L78.7 626.5 L78.4 626.6 L78.2 626.6 L78 626.7" stroke-width="1.17"/>
<path d="M69.4 643.7 L69.9 643.4 L70.3 643.1 L70.7 642.6 L71.1 642.1 L71.3 641.6 L71.5 641 L71.7 640.3 L71.8 639.6 L71.8 638.9 L71.7 638.2 L71.6 637.5 L71.5 636.7 L71.2 636 L70.9 635.2 L70.6 634.5 L70.2 633.8 L69.7 633.2 L69.2 632.6 L68.7 632 L68.2 631.5 L67.6 631 L67 630.7 L66.4 630.4 L65.8 630.1 L65.1 630 L64.5 629.9 L63.9 629.9 L63.4 629.9 L62.8 630.1 L62.3 630.3 L56.1 633.6 L55.7 633.9 L55.2 634.3 L54.9 634.7 L54.5 635.2 L54.3 635.7 L54.1 636.3 L53.9 637 L53.8 637.7 L53.8 638.4 L53.8 639.1 L54 639.9 L54.1 640.6 L54.4 641.3 L54.7 642.1 L55 642.8 L55.4 643.5 L55.8 644.1 L56.3 644.7 L56.9 645.3 L57.4 645.8 L58 646.3 L58.6 646.6 L59.2 647 L59.8 647.2 L60.4 647.4 L61 647.4 L61.6 647.5 L62.2 647.4 L62.8 647.2 L63.3 647 Z" stroke-width="1.75" fill="#fff"/>
<path d="M63.3 647 L63.7 646.7 L64.2 646.3 L64.5 645.9 L64.9 645.4 L65.1 644.9 L65.3 644.3 L65.5 643.6 L65.6 642.9 L65.6 642.2 L65.6 641.5 L65.4 640.7 L65.3 640 L65 639.3 L64.7 638.5 L64.4 637.8 L64 637.1 L63.6 636.5 L63.1 635.9 L62.5 635.3 L62 634.8 L61.4 634.3 L60.8 634 L60.2 633.6 L59.6 633.4 L59 633.2 L58.4 633.2 L57.8 633.1 L57.2 633.2 L56.6 633.4 L56.1 633.6 L55.7 633.9 L55.2 634.3 L54.9 634.7 L54.5 635.2 L54.3 635.7 L54.1 636.3 L53.9 637 L53.8 637.7 L53.8 638.4 L53.8 639.1 L54 639.9 L54.1 640.6 L54.4 641.3 L54.7 642.1 L55 642.8 L55.4 643.5 L55.8 644.1 L56.3 644.7 L56.9 645.3 L57.4 645.8 L58 646.3 L58.6 646.6 L59.2 647 L59.8 647.2 L60.4 647.4 L61 647.4 L61.6 647.5 L62.2 647.4 L62.8 647.2 L63.3 647 Z" stroke-width="1.75" fill="#fff"/>
<line x1="65.5" y1="643.3" x2="71.3" y2="640.2" stroke-width="1.17"/>
<line x1="63.7" y1="636.7" x2="69.4" y2="633.6" stroke-width="1.17"/>
<line x1="59" y1="633.2" x2="64.7" y2="630.2" stroke-width="1.17"/>
<line x1="85" y1="627.7" x2="96.2" y2="621.5" stroke-width="1.75"/>
<path d="M514.7 563.1 L516.2 562.1 L517.6 560.8 L518.8 559.1 L519.8 557.3 L520.6 555.1 L521.1 552.8 L521.4 550.2 L521.5 547.5 L521.3 544.7 L520.9 541.7 L520.2 538.7 L519.3 535.6 L518.2 532.5 L517 529.5 L515.5 526.5 L513.8 523.6 L512 520.8 L510.1 518.1 L508 515.7 L505.8 513.5 L503.6 511.5 L501.4 509.7 L499.1 508.2 L496.8 507.1 L494.5 506.2 L492.4 505.6 L490.2 505.4 L488.2 505.5 L486.4 505.9 L484.6 506.6 L476.7 510.8 L475.1 511.9 L473.7 513.2 L472.5 514.8 L471.5 516.7 L470.8 518.8 L470.2 521.2 L469.9 523.7 L469.9 526.4 L470.1 529.3 L470.5 532.3 L471.1 535.3 L472 538.4 L473.1 541.5 L474.4 544.5 L475.9 547.5 L477.5 550.4 L479.3 553.2 L481.3 555.8 L483.4 558.3 L485.5 560.5 L487.7 562.5 L490 564.3 L492.3 565.7 L494.6 566.9 L496.8 567.8 L499 568.3 L501.1 568.6 L503.1 568.5 L505 568.1 L506.7 567.4 Z" stroke-width="1.75" stroke-dasharray="13 2.5 3 2.5" fill="#fff"/>
<path d="M506.7 567.4 L508.3 566.3 L509.7 565 L510.9 563.4 L511.9 561.5 L512.6 559.4 L513.2 557 L513.5 554.5 L513.5 551.8 L513.3 548.9 L512.9 545.9 L512.3 542.9 L511.4 539.8 L510.3 536.7 L509 533.7 L507.5 530.7 L505.9 527.8 L504.1 525 L502.1 522.4 L500 519.9 L497.9 517.7 L495.7 515.7 L493.4 513.9 L491.1 512.5 L488.8 511.3 L486.6 510.4 L484.4 509.9 L482.3 509.6 L480.3 509.7 L478.4 510.1 L476.7 510.8 L475.1 511.9 L473.7 513.2 L472.5 514.8 L471.5 516.7 L470.8 518.8 L470.2 521.2 L469.9 523.7 L469.9 526.4 L470.1 529.3 L470.5 532.3 L471.1 535.3 L472 538.4 L473.1 541.5 L474.4 544.5 L475.9 547.5 L477.5 550.4 L479.3 553.2 L481.3 555.8 L483.4 558.3 L485.5 560.5 L487.7 562.5 L490 564.3 L492.3 565.7 L494.6 566.9 L496.8 567.8 L499 568.3 L501.1 568.6 L503.1 568.5 L505 568.1 L506.7 567.4 Z" stroke-width="1.75" stroke-dasharray="13 2.5 3 2.5" fill="#fff"/>
<path d="M505.5 565 L506.9 564 L508.2 562.8 L509.3 561.3 L510.2 559.6 L510.9 557.7 L511.3 555.5 L511.6 553.2 L511.7 550.7 L511.5 548.1 L511.1 545.4 L510.5 542.6 L509.7 539.8 L508.7 536.9 L507.5 534.1 L506.2 531.4 L504.7 528.7 L503 526.2 L501.2 523.8 L499.3 521.5 L497.4 519.5 L495.3 517.7 L493.3 516.1 L491.2 514.7 L489.1 513.6 L487 512.8 L485 512.3 L483.1 512.1 L481.3 512.2 L479.5 512.6 L477.9 513.2 L476.5 514.2 L475.2 515.4 L474.1 516.9 L473.2 518.6 L472.5 520.5 L472.1 522.7 L471.8 525 L471.7 527.5 L471.9 530.1 L472.3 532.8 L472.9 535.6 L473.7 538.4 L474.7 541.3 L475.9 544.1 L477.2 546.8 L478.7 549.5 L480.4 552 L482.2 554.4 L484.1 556.7 L486 558.7 L488.1 560.5 L490.1 562.1 L492.2 563.5 L494.3 564.6 L496.4 565.4 L498.4 565.9 L500.3 566.1 L502.1 566 L503.9 565.6 L505.5 565 Z" stroke-width="1.75"/>
<line x1="510.8" y1="540.8" x2="519.6" y2="536.1" stroke-width="4.6" stroke-linecap="round"/>
<line x1="508.6" y1="534.9" x2="517.5" y2="530.2" stroke-width="4.6" stroke-linecap="round"/>
<line x1="505.7" y1="529.2" x2="514.6" y2="524.5" stroke-width="4.6" stroke-linecap="round"/>
<line x1="510.8" y1="540.8" x2="519.6" y2="536.1" stroke="#fff" stroke-width="1.6999999999999997" stroke-linecap="round"/>
<line x1="508.6" y1="534.9" x2="517.5" y2="530.2" stroke="#fff" stroke-width="1.6999999999999997" stroke-linecap="round"/>
<line x1="505.7" y1="529.2" x2="514.6" y2="524.5" stroke="#fff" stroke-width="1.6999999999999997" stroke-linecap="round"/>
<path d="M432 586.2 L497.3 551.5 L497.3 551.5 L498.1 550.9 L498.7 550 L499.2 548.9 L499.4 547.5 L499.4 546 L499.2 544.4 L498.8 542.7 L498.2 541 L497.4 539.3 L496.4 537.7 L495.4 536.3 L494.2 535 L493 533.9 L491.7 533.1 L490.5 532.5 L489.3 532.2 L488.2 532.3 L487.3 532.6 L487.3 532.6 L421.9 567.3 Z" stroke-width="0.01" fill="#fff"/>
<line x1="432" y1="586.2" x2="497.3" y2="551.5" stroke-width="1.75"/>
<line x1="421.9" y1="567.3" x2="487.3" y2="532.6" stroke-width="1.75"/>
<path d="M497.3 551.5 L497.8 551.1 L498.3 550.7 L498.6 550.2 L498.9 549.6 L499.2 548.9 L499.3 548.1 L499.4 547.2 L499.4 546.3 L499.4 545.4 L499.2 544.4 L499 543.4 L498.7 542.4 L498.3 541.3 L497.9 540.3 L497.4 539.3 L496.8 538.3 L496.2 537.4 L495.6 536.5 L494.9 535.7 L494.2 535 L493.5 534.3 L492.7 533.7 L492 533.2 L491.2 532.8 L490.5 532.5 L489.8 532.3 L489.1 532.2 L488.4 532.2 L487.8 532.4 L487.3 532.6" stroke-width="1.75"/>
<path d="M432 586.2 L432.5 585.9 L432.9 585.5 L433.3 584.9 L433.6 584.3 L433.8 583.6 L434 582.8 L434.1 582 L434.1 581.1 L434 580.1 L433.9 579.1 L433.7 578.1 L433.4 577.1 L433 576.1 L432.5 575.1 L432 574.1 L431.5 573.1 L430.9 572.2 L430.2 571.3 L429.6 570.5 L428.9 569.7 L428.1 569 L427.4 568.4 L426.6 567.9 L425.9 567.5 L425.1 567.2 L424.4 567 L423.7 567 L423.1 567 L422.5 567.1 L421.9 567.3 L421.4 567.7 L421 568.1 L420.6 568.6 L420.3 569.2 L420 569.9 L419.9 570.7 L419.8 571.6 L419.8 572.5 L419.9 573.4 L420 574.4 L420.2 575.4 L420.5 576.4 L420.9 577.5 L421.3 578.5 L421.8 579.5 L422.4 580.5 L423 581.4 L423.6 582.3 L424.3 583.1 L425 583.8 L425.8 584.5 L426.5 585.1 L427.3 585.6 L428 586 L428.7 586.3 L429.5 586.5 L430.1 586.6 L430.8 586.6 L431.4 586.5 L432 586.2 Z" stroke-width="1.75" fill="#fff"/>
<path d="M434.2 585 L434.7 584.7 L435.1 584.3 L435.5 583.7 L435.8 583.1 L436.1 582.4 L436.2 581.6 L436.3 580.8 L436.3 579.9 L436.2 579 L436.1 578 L435.9 577 L435.6 575.9 L435.2 574.9 L434.8 573.9 L434.3 572.9 L433.7 571.9 L433.1 571 L432.5 570.1 L431.8 569.3 L431.1 568.5 L430.3 567.9 L429.6 567.3 L428.8 566.8 L428.1 566.4 L427.4 566.1 L426.6 565.9 L426 565.8 L425.3 565.8 L424.7 565.9 L424.1 566.2" stroke-width="1.29"/>
<path d="M430 582.5 L430.3 582.3 L430.6 582 L430.8 581.7 L431 581.3 L431.1 580.9 L431.2 580.4 L431.3 579.9 L431.3 579.4 L431.2 578.8 L431.2 578.2 L431 577.6 L430.8 577 L430.6 576.4 L430.3 575.7 L430 575.1 L429.7 574.5 L429.3 574 L429 573.4 L428.5 572.9 L428.1 572.5 L427.7 572.1 L427.2 571.7 L426.8 571.4 L426.3 571.2 L425.9 571 L425.4 570.9 L425 570.8 L424.6 570.8 L424.2 570.9 L423.9 571 L415.9 575.3 L415.6 575.5 L415.4 575.7 L415.1 576.1 L415 576.4 L414.8 576.9 L414.7 577.3 L414.7 577.8 L414.7 578.4 L414.7 579 L414.8 579.6 L414.9 580.2 L415.1 580.8 L415.3 581.4 L415.6 582 L415.9 582.6 L416.2 583.2 L416.6 583.8 L417 584.3 L417.4 584.8 L417.8 585.3 L418.3 585.7 L418.7 586.1 L419.2 586.4 L419.6 586.6 L420.1 586.8 L420.5 586.9 L420.9 587 L421.3 587 L421.7 586.9 L422.1 586.7 Z" stroke-width="1.75" fill="#fff"/>
<path d="M422.1 586.7 L422.4 586.5 L422.6 586.3 L422.9 585.9 L423 585.6 L423.2 585.1 L423.3 584.7 L423.3 584.2 L423.3 583.6 L423.3 583 L423.2 582.4 L423.1 581.8 L422.9 581.2 L422.7 580.6 L422.4 580 L422.1 579.4 L421.8 578.8 L421.4 578.2 L421 577.7 L420.6 577.2 L420.2 576.7 L419.7 576.3 L419.3 575.9 L418.8 575.6 L418.4 575.4 L417.9 575.2 L417.5 575.1 L417.1 575 L416.7 575 L416.3 575.1 L415.9 575.3 L415.6 575.5 L415.4 575.7 L415.1 576.1 L415 576.4 L414.8 576.9 L414.7 577.3 L414.7 577.8 L414.7 578.4 L414.7 579 L414.8 579.6 L414.9 580.2 L415.1 580.8 L415.3 581.4 L415.6 582 L415.9 582.6 L416.2 583.2 L416.6 583.8 L417 584.3 L417.4 584.8 L417.8 585.3 L418.3 585.7 L418.7 586.1 L419.2 586.4 L419.6 586.6 L420.1 586.8 L420.5 586.9 L420.9 587 L421.3 587 L421.7 586.9 L422.1 586.7 Z" stroke-width="1.75" fill="#fff"/>
<line x1="406.3" y1="587.8" x2="415.5" y2="582.9" stroke-width="1.75"/>
<line x1="522.1" y1="524" x2="542.7" y2="514.2" stroke-width="1.75"/>
<path d="M402.1 610.6 L403 610 L403.9 609.3 L404.6 608.4 L405.2 607.3 L405.6 606.1 L406 604.8 L406.2 603.4 L406.3 601.9 L406.2 600.3 L406 598.6 L405.7 597 L405.3 595.3 L404.7 593.6 L404 591.9 L403.2 590.3 L402.3 588.7 L401.3 587.1 L400.2 585.7 L399 584.4 L397.8 583.2 L396.6 582.1 L395.3 581.2 L394 580.4 L392.7 579.8 L391.4 579.3 L390.2 579.1 L388.9 579 L387.8 579 L386.7 579.3 L385.7 579.7 L380.4 582.5 L379.5 583.1 L378.6 583.9 L377.9 584.8 L377.3 585.9 L376.8 587.1 L376.5 588.4 L376.3 589.8 L376.2 591.3 L376.3 592.9 L376.5 594.5 L376.8 596.2 L377.2 597.9 L377.8 599.6 L378.5 601.3 L379.3 602.9 L380.2 604.5 L381.2 606 L382.3 607.5 L383.5 608.8 L384.7 610 L385.9 611.1 L387.2 612 L388.5 612.8 L389.8 613.4 L391.1 613.8 L392.3 614.1 L393.5 614.2 L394.7 614.1 L395.8 613.9 L396.8 613.5 Z" stroke-width="1.75" fill="#fff"/>
<path d="M396.8 613.5 L397.7 612.9 L398.6 612.1 L399.3 611.2 L399.9 610.1 L400.4 608.9 L400.7 607.6 L400.9 606.2 L401 604.7 L400.9 603.1 L400.7 601.5 L400.4 599.8 L400 598.1 L399.4 596.4 L398.7 594.7 L397.9 593.1 L397 591.5 L396 590 L394.9 588.5 L393.7 587.2 L392.5 586 L391.3 584.9 L390 584 L388.7 583.2 L387.4 582.6 L386.1 582.2 L384.9 581.9 L383.7 581.8 L382.5 581.9 L381.4 582.1 L380.4 582.5 L379.5 583.1 L378.6 583.9 L377.9 584.8 L377.3 585.9 L376.8 587.1 L376.5 588.4 L376.3 589.8 L376.2 591.3 L376.3 592.9 L376.5 594.5 L376.8 596.2 L377.2 597.9 L377.8 599.6 L378.5 601.3 L379.3 602.9 L380.2 604.5 L381.2 606 L382.3 607.5 L383.5 608.8 L384.7 610 L385.9 611.1 L387.2 612 L388.5 612.8 L389.8 613.4 L391.1 613.8 L392.3 614.1 L393.5 614.2 L394.7 614.1 L395.8 613.9 L396.8 613.5 Z" stroke-width="1.75" fill="#fff"/>
<path d="M395.3 610.6 L396.1 610.1 L396.7 609.5 L397.3 608.8 L397.8 607.9 L398.2 606.9 L398.5 605.8 L398.7 604.7 L398.7 603.5 L398.7 602.2 L398.5 600.8 L398.3 599.5 L397.9 598.1 L397.4 596.7 L396.8 595.3 L396.2 594 L395.4 592.7 L394.6 591.4 L393.7 590.3 L392.8 589.2 L391.8 588.2 L390.8 587.3 L389.7 586.6 L388.7 585.9 L387.6 585.4 L386.6 585.1 L385.5 584.8 L384.6 584.7 L383.6 584.8 L382.7 585 L381.9 585.4 L381.1 585.9 L380.5 586.5 L379.9 587.2 L379.4 588.1 L379 589.1 L378.7 590.2 L378.5 591.3 L378.5 592.5 L378.5 593.8 L378.7 595.2 L378.9 596.5 L379.3 597.9 L379.8 599.3 L380.4 600.7 L381 602 L381.8 603.3 L382.6 604.6 L383.5 605.7 L384.4 606.8 L385.4 607.8 L386.4 608.7 L387.5 609.4 L388.5 610.1 L389.6 610.6 L390.6 610.9 L391.7 611.2 L392.6 611.3 L393.6 611.2 L394.5 611 L395.3 610.6 Z" stroke-width="1.4"/>
<path d="M392.4 605.1 L392.8 604.8 L393.2 604.4 L393.5 604 L393.8 603.5 L394 603 L394.1 602.4 L394.2 601.7 L394.3 601.1 L394.2 600.3 L394.1 599.6 L394 598.8 L393.8 598 L393.5 597.3 L393.2 596.5 L392.8 595.7 L392.4 595 L392 594.3 L391.5 593.7 L390.9 593.1 L390.4 592.5 L389.8 592 L389.2 591.6 L388.6 591.2 L388.1 591 L387.5 590.8 L386.9 590.6 L386.3 590.6 L385.8 590.6 L385.3 590.7 L384.8 590.9 L384.4 591.2 L384 591.6 L383.7 592 L383.4 592.5 L383.2 593 L383.1 593.6 L383 594.3 L382.9 594.9 L383 595.7 L383.1 596.4 L383.2 597.2 L383.4 598 L383.7 598.7 L384 599.5 L384.4 600.3 L384.8 601 L385.2 601.7 L385.7 602.3 L386.3 602.9 L386.8 603.5 L387.4 604 L388 604.4 L388.6 604.8 L389.1 605 L389.7 605.2 L390.3 605.4 L390.9 605.4 L391.4 605.4 L391.9 605.3 L392.4 605.1 Z" stroke-width="1.4"/>
<line x1="393.9" y1="605.8" x2="396.8" y2="607.3" stroke-width="1.17"/>
<line x1="395.3" y1="601.9" x2="397.7" y2="601.1" stroke-width="1.17"/>
<line x1="394.2" y1="596.5" x2="395.1" y2="593.7" stroke-width="1.17"/>
<line x1="390.9" y1="591.7" x2="390" y2="587.9" stroke-width="1.17"/>
<line x1="386.8" y1="589.3" x2="384.4" y2="586" stroke-width="1.17"/>
<line x1="383.3" y1="590.2" x2="380.4" y2="588.7" stroke-width="1.17"/>
<line x1="381.9" y1="594.1" x2="379.5" y2="594.9" stroke-width="1.17"/>
<line x1="383" y1="599.5" x2="382.1" y2="602.3" stroke-width="1.17"/>
<line x1="386.3" y1="604.3" x2="387.2" y2="608.1" stroke-width="1.17"/>
<line x1="390.4" y1="606.7" x2="392.8" y2="610" stroke-width="1.17"/>
<line x1="348.3" y1="620" x2="387.7" y2="598.6" stroke-width="1.75"/>
<path d="M562.2 527.4 L563.4 526.7 L564.5 525.7 L565.4 524.5 L566.1 523.1 L566.8 521.6 L567.2 519.9 L567.5 518.1 L567.6 516.2 L567.5 514.1 L567.3 512 L566.8 509.9 L566.2 507.7 L565.5 505.5 L564.6 503.3 L563.6 501.2 L562.4 499.2 L561.1 497.2 L559.7 495.4 L558.2 493.7 L556.7 492.2 L555.1 490.8 L553.4 489.6 L551.8 488.6 L550.1 487.8 L548.5 487.2 L546.8 486.8 L545.3 486.7 L543.8 486.8 L542.4 487.2 L541.1 487.7 L533.1 491.9 L531.9 492.7 L530.9 493.7 L530 494.9 L529.2 496.2 L528.6 497.8 L528.1 499.5 L527.9 501.3 L527.8 503.2 L527.8 505.3 L528.1 507.4 L528.5 509.5 L529.1 511.7 L529.8 513.9 L530.7 516 L531.8 518.1 L532.9 520.2 L534.2 522.1 L535.6 524 L537.1 525.7 L538.7 527.2 L540.3 528.6 L541.9 529.8 L543.6 530.8 L545.2 531.6 L546.9 532.2 L548.5 532.5 L550.1 532.7 L551.6 532.5 L553 532.2 L554.3 531.7 Z" stroke-width="1.75" fill="#fff"/>
<path d="M554.3 531.7 L555.5 530.9 L556.5 529.9 L557.4 528.7 L558.2 527.4 L558.8 525.8 L559.3 524.1 L559.5 522.3 L559.6 520.4 L559.6 518.3 L559.3 516.2 L558.9 514.1 L558.3 511.9 L557.6 509.7 L556.7 507.6 L555.6 505.5 L554.5 503.4 L553.2 501.5 L551.8 499.6 L550.3 497.9 L548.7 496.4 L547.1 495 L545.5 493.8 L543.8 492.8 L542.2 492 L540.5 491.4 L538.9 491.1 L537.3 490.9 L535.8 491.1 L534.4 491.4 L533.1 491.9 L531.9 492.7 L530.9 493.7 L530 494.9 L529.2 496.2 L528.6 497.8 L528.1 499.5 L527.9 501.3 L527.8 503.2 L527.8 505.3 L528.1 507.4 L528.5 509.5 L529.1 511.7 L529.8 513.9 L530.7 516 L531.8 518.1 L532.9 520.2 L534.2 522.1 L535.6 524 L537.1 525.7 L538.7 527.2 L540.3 528.6 L541.9 529.8 L543.6 530.8 L545.2 531.6 L546.9 532.2 L548.5 532.5 L550.1 532.7 L551.6 532.5 L553 532.2 L554.3 531.7 Z" stroke-width="1.75" fill="#fff"/>
<path d="M553 529.3 L554 528.6 L555 527.7 L555.8 526.7 L556.5 525.5 L557 524.2 L557.4 522.7 L557.6 521.1 L557.7 519.4 L557.6 517.6 L557.4 515.7 L557.1 513.8 L556.5 511.9 L555.9 510 L555.1 508.1 L554.2 506.2 L553.2 504.4 L552 502.7 L550.8 501.1 L549.5 499.6 L548.1 498.2 L546.7 497 L545.3 496 L543.8 495.1 L542.3 494.4 L540.9 493.9 L539.5 493.6 L538.1 493.4 L536.8 493.5 L535.6 493.8 L534.4 494.3 L533.4 495 L532.4 495.9 L531.6 496.9 L530.9 498.1 L530.4 499.4 L530 500.9 L529.8 502.5 L529.7 504.2 L529.8 506 L530 507.9 L530.3 509.8 L530.9 511.7 L531.5 513.6 L532.3 515.5 L533.2 517.4 L534.2 519.2 L535.4 520.9 L536.6 522.5 L537.9 524 L539.3 525.4 L540.7 526.6 L542.1 527.6 L543.6 528.5 L545.1 529.2 L546.5 529.7 L547.9 530 L549.3 530.2 L550.6 530.1 L551.8 529.8 L553 529.3 Z" stroke-width="1.49"/>
<path d="M551.4 526.3 L552.3 525.7 L553.1 525 L553.7 524.2 L554.3 523.2 L554.7 522 L555.1 520.8 L555.3 519.5 L555.3 518.1 L555.3 516.6 L555.1 515 L554.8 513.5 L554.4 511.9 L553.8 510.3 L553.2 508.7 L552.4 507.2 L551.5 505.7 L550.6 504.3 L549.6 502.9 L548.5 501.7 L547.4 500.5 L546.2 499.5 L545 498.7 L543.8 497.9 L542.6 497.3 L541.4 496.9 L540.2 496.7 L539.1 496.6 L538 496.7 L536.9 496.9 L536 497.3 L535.1 497.9 L534.3 498.6 L533.7 499.4 L533.1 500.4 L532.7 501.6 L532.3 502.8 L532.1 504.1 L532.1 505.5 L532.1 507 L532.3 508.6 L532.6 510.1 L533 511.7 L533.6 513.3 L534.2 514.9 L535 516.4 L535.9 517.9 L536.8 519.3 L537.8 520.7 L538.9 521.9 L540 523.1 L541.2 524.1 L542.4 524.9 L543.6 525.7 L544.8 526.3 L546 526.7 L547.2 526.9 L548.3 527 L549.4 526.9 L550.5 526.7 L551.4 526.3 Z" stroke-width="1.49"/>
<path d="M549.3 522.3 L549.9 521.9 L550.5 521.4 L551 520.8 L551.4 520.1 L551.7 519.2 L551.9 518.3 L552.1 517.4 L552.1 516.3 L552.1 515.3 L552 514.2 L551.7 513 L551.4 511.9 L551 510.7 L550.6 509.6 L550 508.4 L549.4 507.4 L548.7 506.3 L548 505.4 L547.2 504.4 L546.4 503.6 L545.5 502.9 L544.6 502.3 L543.8 501.7 L542.9 501.3 L542 501 L541.2 500.8 L540.3 500.7 L539.5 500.8 L538.8 501 L538.1 501.3 L537.5 501.7 L536.9 502.2 L536.4 502.8 L536 503.5 L535.7 504.4 L535.5 505.3 L535.3 506.2 L535.3 507.3 L535.3 508.3 L535.4 509.4 L535.7 510.6 L536 511.7 L536.4 512.9 L536.8 514 L537.4 515.2 L538 516.2 L538.7 517.3 L539.4 518.2 L540.2 519.2 L541 520 L541.9 520.7 L542.8 521.3 L543.6 521.9 L544.5 522.3 L545.4 522.6 L546.2 522.8 L547.1 522.9 L547.9 522.8 L548.6 522.6 L549.3 522.3 Z" stroke-width="1.49"/>
<path d="M546.9 517.8 L547.2 517.5 L547.5 517.2 L547.8 516.9 L548 516.5 L548.2 516 L548.4 515.5 L548.4 515 L548.5 514.4 L548.5 513.8 L548.4 513.1 L548.3 512.5 L548.1 511.8 L547.9 511.2 L547.6 510.5 L547.3 509.9 L546.9 509.3 L546.5 508.7 L546.1 508.1 L545.7 507.6 L545.2 507.2 L544.7 506.8 L544.2 506.4 L543.7 506.1 L543.2 505.9 L542.7 505.7 L542.3 505.6 L541.8 505.5 L541.3 505.6 L540.9 505.7 L540.5 505.8 L540.2 506.1 L539.9 506.4 L539.6 506.7 L539.4 507.1 L539.2 507.6 L539 508.1 L539 508.6 L538.9 509.2 L538.9 509.8 L539 510.5 L539.1 511.1 L539.3 511.8 L539.5 512.4 L539.8 513.1 L540.1 513.7 L540.5 514.3 L540.9 514.9 L541.3 515.5 L541.7 516 L542.2 516.4 L542.7 516.8 L543.2 517.2 L543.7 517.5 L544.2 517.7 L544.7 517.9 L545.1 518 L545.6 518.1 L546.1 518 L546.5 517.9 L546.9 517.8 Z" stroke-width="1.49"/>
<path d="M601.9 736.5 L603 735.8 L603.9 734.8 L604.7 733.7 L605.4 732.3 L605.8 730.7 L606.1 728.9 L606.3 727 L606.2 724.9 L606 722.7 L605.6 720.4 L605 718.1 L604.3 715.7 L603.4 713.3 L602.3 710.9 L601.2 708.6 L599.9 706.3 L598.5 704.1 L597 702.1 L595.5 700.1 L593.8 698.4 L592.2 696.8 L590.5 695.3 L588.8 694.1 L587.1 693.2 L585.5 692.4 L583.9 691.9 L582.4 691.7 L581 691.7 L579.6 691.9 L578.4 692.4 L570.5 696.6 L569.4 697.4 L568.4 698.3 L567.6 699.5 L567 700.9 L566.5 702.5 L566.2 704.3 L566.1 706.2 L566.1 708.3 L566.4 710.5 L566.8 712.7 L567.3 715.1 L568.1 717.5 L569 719.9 L570 722.2 L571.2 724.6 L572.5 726.8 L573.8 729 L575.3 731.1 L576.9 733 L578.5 734.8 L580.2 736.4 L581.9 737.8 L583.5 739 L585.2 740 L586.8 740.8 L588.4 741.3 L590 741.5 L591.4 741.5 L592.7 741.3 L593.9 740.8 Z" stroke-width="1.75" fill="#fff"/>
<path d="M593.9 740.8 L595 740 L596 739.1 L596.8 737.9 L597.4 736.5 L597.9 734.9 L598.2 733.1 L598.3 731.2 L598.3 729.1 L598 726.9 L597.6 724.7 L597.1 722.3 L596.3 719.9 L595.4 717.5 L594.4 715.2 L593.2 712.8 L591.9 710.6 L590.6 708.4 L589.1 706.3 L587.5 704.4 L585.9 702.6 L584.2 701 L582.5 699.6 L580.9 698.4 L579.2 697.4 L577.6 696.6 L576 696.1 L574.4 695.9 L573 695.9 L571.7 696.1 L570.5 696.6 L569.4 697.4 L568.4 698.3 L567.6 699.5 L567 700.9 L566.5 702.5 L566.2 704.3 L566.1 706.2 L566.1 708.3 L566.4 710.5 L566.8 712.7 L567.3 715.1 L568.1 717.5 L569 719.9 L570 722.2 L571.2 724.6 L572.5 726.8 L573.8 729 L575.3 731.1 L576.9 733 L578.5 734.8 L580.2 736.4 L581.9 737.8 L583.5 739 L585.2 740 L586.8 740.8 L588.4 741.3 L590 741.5 L591.4 741.5 L592.7 741.3 L593.9 740.8 Z" stroke-width="1.75" fill="#fff"/>
<path d="M592.1 737.2 L593 736.6 L593.8 735.8 L594.4 734.8 L595 733.6 L595.4 732.3 L595.6 730.8 L595.7 729.2 L595.7 727.4 L595.5 725.6 L595.2 723.7 L594.7 721.7 L594.1 719.7 L593.3 717.7 L592.5 715.7 L591.5 713.8 L590.4 711.9 L589.2 710 L588 708.3 L586.7 706.7 L585.3 705.2 L583.9 703.8 L582.5 702.6 L581.1 701.6 L579.7 700.8 L578.3 700.2 L577 699.8 L575.7 699.5 L574.5 699.5 L573.4 699.7 L572.3 700.2 L571.4 700.8 L570.6 701.6 L570 702.6 L569.4 703.8 L569 705.1 L568.8 706.6 L568.7 708.2 L568.7 710 L568.9 711.8 L569.2 713.7 L569.7 715.7 L570.3 717.7 L571.1 719.7 L571.9 721.7 L572.9 723.6 L574 725.5 L575.2 727.4 L576.4 729.1 L577.7 730.7 L579.1 732.2 L580.5 733.6 L581.9 734.8 L583.3 735.8 L584.7 736.6 L586.1 737.2 L587.4 737.6 L588.7 737.9 L589.9 737.9 L591 737.7 L592.1 737.2 Z" stroke-width="1.4"/>
<path d="M590.2 733.7 L590.9 733.2 L591.6 732.6 L592.1 731.7 L592.5 730.8 L592.9 729.7 L593.1 728.5 L593.2 727.2 L593.1 725.8 L593 724.3 L592.7 722.7 L592.3 721.2 L591.8 719.5 L591.2 717.9 L590.5 716.3 L589.7 714.7 L588.8 713.2 L587.9 711.7 L586.9 710.3 L585.8 708.9 L584.7 707.7 L583.6 706.6 L582.4 705.7 L581.3 704.9 L580.2 704.2 L579 703.7 L578 703.4 L576.9 703.2 L576 703.2 L575 703.4 L574.2 703.7 L573.5 704.2 L572.8 704.8 L572.3 705.7 L571.9 706.6 L571.5 707.7 L571.3 708.9 L571.2 710.2 L571.3 711.6 L571.4 713.1 L571.7 714.7 L572.1 716.2 L572.6 717.9 L573.2 719.5 L573.9 721.1 L574.7 722.7 L575.6 724.2 L576.5 725.7 L577.5 727.1 L578.6 728.5 L579.7 729.7 L580.8 730.8 L582 731.7 L583.1 732.5 L584.2 733.2 L585.4 733.7 L586.4 734 L587.5 734.2 L588.4 734.2 L589.4 734 L590.2 733.7 Z" stroke-width="1.4"/>
<path d="M588.1 729.7 L588.6 729.4 L589.1 728.9 L589.5 728.3 L589.8 727.6 L590 726.8 L590.2 725.9 L590.3 724.9 L590.2 723.9 L590.1 722.8 L589.9 721.7 L589.6 720.5 L589.3 719.3 L588.8 718.1 L588.3 716.9 L587.7 715.8 L587.1 714.6 L586.4 713.5 L585.6 712.5 L584.9 711.5 L584 710.6 L583.2 709.8 L582.4 709.1 L581.5 708.5 L580.7 708 L579.9 707.7 L579.1 707.4 L578.3 707.3 L577.6 707.3 L576.9 707.4 L576.3 707.7 L575.8 708 L575.3 708.5 L574.9 709.1 L574.6 709.8 L574.4 710.6 L574.2 711.5 L574.1 712.5 L574.2 713.5 L574.3 714.6 L574.5 715.7 L574.8 716.9 L575.1 718.1 L575.6 719.3 L576.1 720.5 L576.7 721.6 L577.3 722.8 L578 723.9 L578.8 724.9 L579.5 725.9 L580.4 726.8 L581.2 727.6 L582 728.3 L582.9 728.9 L583.7 729.4 L584.5 729.7 L585.3 730 L586.1 730.1 L586.8 730.1 L587.5 730 L588.1 729.7 Z" stroke-width="1.4"/>
<path d="M585.7 725.3 L586 725.1 L586.3 724.8 L586.6 724.5 L586.8 724 L586.9 723.6 L587 723 L587 722.4 L587 721.8 L586.9 721.2 L586.8 720.5 L586.7 719.8 L586.4 719.1 L586.2 718.4 L585.9 717.6 L585.5 716.9 L585.1 716.3 L584.7 715.6 L584.3 715 L583.8 714.4 L583.3 713.9 L582.8 713.4 L582.3 713 L581.8 712.6 L581.3 712.3 L580.8 712.1 L580.3 711.9 L579.9 711.9 L579.4 711.9 L579 711.9 L578.7 712.1 L578.4 712.3 L578.1 712.6 L577.8 712.9 L577.6 713.4 L577.5 713.8 L577.4 714.4 L577.4 715 L577.4 715.6 L577.5 716.2 L577.6 716.9 L577.7 717.6 L578 718.3 L578.2 719 L578.5 719.8 L578.9 720.5 L579.3 721.1 L579.7 721.8 L580.1 722.4 L580.6 723 L581.1 723.5 L581.6 724 L582.1 724.4 L582.6 724.8 L583.1 725.1 L583.6 725.3 L584.1 725.5 L584.5 725.5 L585 725.5 L585.4 725.5 L585.7 725.3 Z" stroke-width="1.4"/>
<ellipse cx="591.1" cy="735.5" rx="1.5" ry="2.2" stroke-width="1" fill="#fff" transform="rotate(-20 591.1 735.5)"/>
<ellipse cx="594.2" cy="730.4" rx="1.5" ry="2.2" stroke-width="1" fill="#fff" transform="rotate(-20 594.2 730.4)"/>
<ellipse cx="593.5" cy="721.6" rx="1.5" ry="2.2" stroke-width="1" fill="#fff" transform="rotate(-20 593.5 721.6)"/>
<ellipse cx="589.2" cy="711.9" rx="1.5" ry="2.2" stroke-width="1" fill="#fff" transform="rotate(-20 589.2 711.9)"/>
<ellipse cx="582.7" cy="704.3" rx="1.5" ry="2.2" stroke-width="1" fill="#fff" transform="rotate(-20 582.7 704.3)"/>
<ellipse cx="576" cy="701.3" rx="1.5" ry="2.2" stroke-width="1" fill="#fff" transform="rotate(-20 576 701.3)"/>
<ellipse cx="571.3" cy="703.9" rx="1.5" ry="2.2" stroke-width="1" fill="#fff" transform="rotate(-20 571.3 703.9)"/>
<ellipse cx="570" cy="711.1" rx="1.5" ry="2.2" stroke-width="1" fill="#fff" transform="rotate(-20 570 711.1)"/>
<ellipse cx="572.6" cy="720.7" rx="1.5" ry="2.2" stroke-width="1" fill="#fff" transform="rotate(-20 572.6 720.7)"/>
<ellipse cx="578.3" cy="729.7" rx="1.5" ry="2.2" stroke-width="1" fill="#fff" transform="rotate(-20 578.3 729.7)"/>
<ellipse cx="585.2" cy="735.2" rx="1.5" ry="2.2" stroke-width="1" fill="#fff" transform="rotate(-20 585.2 735.2)"/>
<line x1="550.6" y1="736.1" x2="582.2" y2="720.4" stroke-width="1.75"/>
<path d="M634.6 711.9 L635.8 711.1 L636.8 710.2 L637.7 709.2 L638.5 708 L639.2 706.7 L639.7 705.2 L640.1 703.7 L640.3 702.1 L640.4 700.4 L640.3 698.6 L640.1 696.9 L639.7 695.1 L639.1 693.3 L638.4 691.6 L637.6 689.9 L636.7 688.2 L635.6 686.7 L634.4 685.3 L633.2 683.9 L631.9 682.7 L630.5 681.7 L629 680.8 L627.5 680.1 L626.1 679.5 L624.6 679.2 L623.1 679 L621.7 679 L620.3 679.2 L619 679.5 L617.7 680.1 L615.9 681 L614.8 681.7 L613.8 682.6 L612.8 683.7 L612 684.9 L611.4 686.2 L610.8 687.6 L610.5 689.2 L610.2 690.8 L610.2 692.5 L610.3 694.2 L610.5 696 L610.9 697.8 L611.5 699.5 L612.1 701.3 L613 703 L613.9 704.6 L615 706.2 L616.1 707.6 L617.4 708.9 L618.7 710.1 L620.1 711.2 L621.6 712.1 L623 712.8 L624.5 713.3 L626 713.7 L627.5 713.9 L628.9 713.9 L630.3 713.7 L631.6 713.3 L632.9 712.8 Z" stroke-width="1.75" fill="#fff"/>
<path d="M632.9 712.8 L634 712.1 L635 711.2 L636 710.1 L636.8 708.9 L637.4 707.6 L638 706.2 L638.3 704.6 L638.6 703 L638.6 701.3 L638.5 699.6 L638.3 697.8 L637.9 696 L637.3 694.3 L636.7 692.5 L635.8 690.8 L634.9 689.2 L633.8 687.6 L632.7 686.2 L631.4 684.9 L630.1 683.7 L628.7 682.6 L627.2 681.7 L625.8 681 L624.3 680.5 L622.8 680.1 L621.3 679.9 L619.9 679.9 L618.5 680.1 L617.2 680.5 L615.9 681 L614.8 681.7 L613.8 682.6 L612.8 683.7 L612 684.9 L611.4 686.2 L610.8 687.6 L610.5 689.2 L610.2 690.8 L610.2 692.5 L610.3 694.2 L610.5 696 L610.9 697.8 L611.5 699.5 L612.1 701.3 L613 703 L613.9 704.6 L615 706.2 L616.1 707.6 L617.4 708.9 L618.7 710.1 L620.1 711.2 L621.6 712.1 L623 712.8 L624.5 713.3 L626 713.7 L627.5 713.9 L628.9 713.9 L630.3 713.7 L631.6 713.3 L632.9 712.8 Z" stroke-width="1.75" fill="#fff"/>
<path d="M628.4 704.4 L628.9 704.1 L629.4 703.6 L629.9 703.1 L630.2 702.6 L630.6 702 L630.8 701.3 L631 700.6 L631.1 699.8 L631.1 699 L631.1 698.2 L631 697.3 L630.8 696.5 L630.5 695.7 L630.2 694.8 L629.8 694 L629.4 693.3 L628.9 692.5 L628.3 691.8 L627.7 691.2 L627.1 690.7 L626.4 690.2 L625.7 689.7 L625.1 689.4 L624.3 689.1 L623.6 689 L623 688.9 L622.3 688.9 L621.6 689 L621 689.1 L620.4 689.4 L619.9 689.7 L619.4 690.2 L618.9 690.7 L618.6 691.2 L618.2 691.8 L618 692.5 L617.8 693.2 L617.7 694 L617.7 694.8 L617.7 695.6 L617.8 696.5 L618 697.3 L618.3 698.1 L618.6 699 L619 699.8 L619.4 700.5 L619.9 701.3 L620.5 702 L621.1 702.6 L621.7 703.1 L622.4 703.6 L623.1 704.1 L623.7 704.4 L624.5 704.7 L625.2 704.8 L625.8 704.9 L626.5 704.9 L627.2 704.8 L627.8 704.7 L628.4 704.4 Z" stroke-width="1.75"/>
<path d="M620.6 689.9 L620.2 690.5 L619.9 691.1 L619.7 691.8 L619.5 692.6 L619.5 693.4 L619.5 694.2 L619.5 695.1 L619.7 695.9 L619.9 696.8 L620.2 697.6 L620.6 698.4 L621 699.2 L621.5 700 L622 700.7 L622.6 701.4 L623.2 702 L623.9 702.5 L624.5 703 L625.2 703.3 L626 703.6 L626.7 703.8 L627.4 704 L628.1 704" stroke-width="1.29"/>
<line x1="629" y1="692.8" x2="634.2" y2="688.1" stroke-width="1.29"/>
<line x1="627.7" y1="691.2" x2="632.9" y2="686.4" stroke-width="1.29"/>
<line x1="619.5" y1="690" x2="614.1" y2="682.3" stroke-width="1.29"/>
<line x1="618.6" y1="691.2" x2="613" y2="683.5" stroke-width="1.29"/>
<line x1="619.8" y1="701" x2="614.6" y2="705.7" stroke-width="1.29"/>
<line x1="621.1" y1="702.6" x2="615.9" y2="707.4" stroke-width="1.29"/>
<line x1="629.3" y1="703.8" x2="634.7" y2="711.5" stroke-width="1.29"/>
<line x1="630.2" y1="702.6" x2="635.8" y2="710.3" stroke-width="1.29"/>
<line x1="607.7" y1="705.9" x2="623.9" y2="697.4" stroke-width="1.75"/>
<path d="M672.2 686.5 L672.9 686.1 L673.5 685.5 L674 684.8 L674.5 684 L674.8 683.1 L675.1 682.1 L675.2 681.1 L675.2 679.9 L675.2 678.7 L675 677.5 L674.8 676.2 L674.4 675 L674 673.7 L673.4 672.4 L672.8 671.1 L672.1 669.9 L671.4 668.8 L670.5 667.7 L669.7 666.7 L668.8 665.8 L667.8 664.9 L666.9 664.2 L665.9 663.6 L664.9 663.1 L664 662.8 L663.1 662.6 L662.2 662.5 L661.3 662.5 L660.5 662.7 L659.8 663 L649.2 668.7 L648.5 669.1 L647.9 669.7 L647.4 670.4 L646.9 671.1 L646.6 672 L646.3 673 L646.2 674.1 L646.2 675.2 L646.2 676.4 L646.4 677.7 L646.6 678.9 L647 680.2 L647.4 681.5 L648 682.8 L648.6 684 L649.3 685.2 L650 686.4 L650.9 687.5 L651.7 688.5 L652.6 689.4 L653.6 690.2 L654.5 690.9 L655.5 691.6 L656.4 692 L657.4 692.4 L658.3 692.6 L659.2 692.7 L660.1 692.6 L660.9 692.5 L661.6 692.1 Z" stroke-width="1.75" fill="#fff"/>
<path d="M661.6 692.1 L662.3 691.7 L662.9 691.1 L663.4 690.4 L663.9 689.7 L664.2 688.8 L664.5 687.8 L664.6 686.7 L664.6 685.6 L664.6 684.4 L664.4 683.1 L664.2 681.9 L663.8 680.6 L663.4 679.3 L662.8 678 L662.2 676.8 L661.5 675.6 L660.8 674.4 L659.9 673.3 L659.1 672.3 L658.2 671.4 L657.2 670.6 L656.3 669.9 L655.3 669.2 L654.4 668.8 L653.4 668.4 L652.5 668.2 L651.6 668.1 L650.7 668.2 L649.9 668.3 L649.2 668.7 L648.5 669.1 L647.9 669.7 L647.4 670.4 L646.9 671.1 L646.6 672 L646.3 673 L646.2 674.1 L646.2 675.2 L646.2 676.4 L646.4 677.7 L646.6 678.9 L647 680.2 L647.4 681.5 L648 682.8 L648.6 684 L649.3 685.2 L650 686.4 L650.9 687.5 L651.7 688.5 L652.6 689.4 L653.6 690.2 L654.5 690.9 L655.5 691.6 L656.4 692 L657.4 692.4 L658.3 692.6 L659.2 692.7 L660.1 692.6 L660.9 692.5 L661.6 692.1 Z" stroke-width="1.75" fill="#fff"/>
<path d="M660.9 690.7 L661.5 690.3 L662 689.8 L662.5 689.2 L662.9 688.5 L663.2 687.8 L663.4 686.9 L663.5 685.9 L663.5 684.9 L663.5 683.9 L663.3 682.8 L663.1 681.7 L662.8 680.6 L662.4 679.4 L661.9 678.3 L661.4 677.2 L660.8 676.2 L660.1 675.1 L659.4 674.2 L658.6 673.3 L657.8 672.5 L657 671.8 L656.2 671.1 L655.3 670.6 L654.5 670.2 L653.6 669.9 L652.8 669.7 L652 669.6 L651.3 669.6 L650.6 669.8 L649.9 670.1 L649.3 670.5 L648.8 671 L648.3 671.6 L647.9 672.3 L647.6 673 L647.4 673.9 L647.3 674.9 L647.3 675.9 L647.3 676.9 L647.5 678 L647.7 679.1 L648 680.2 L648.4 681.4 L648.9 682.5 L649.4 683.6 L650 684.6 L650.7 685.7 L651.4 686.6 L652.2 687.5 L653 688.3 L653.8 689 L654.6 689.7 L655.5 690.2 L656.3 690.6 L657.2 690.9 L658 691.1 L658.8 691.2 L659.5 691.2 L660.2 691 L660.9 690.7 Z" stroke-width="1.29"/>
<path d="M659.9 688.8 L660.3 688.5 L660.8 688.1 L661.1 687.6 L661.5 687 L661.7 686.4 L661.9 685.7 L662 684.9 L662 684.1 L662 683.2 L661.8 682.4 L661.7 681.4 L661.4 680.5 L661.1 679.6 L660.7 678.7 L660.3 677.8 L659.8 677 L659.2 676.1 L658.6 675.3 L658 674.6 L657.4 674 L656.7 673.4 L656 672.9 L655.3 672.4 L654.7 672.1 L654 671.8 L653.3 671.7 L652.7 671.6 L652 671.7 L651.5 671.8 L650.9 672 L650.5 672.3 L650 672.7 L649.7 673.2 L649.3 673.8 L649.1 674.4 L648.9 675.1 L648.8 675.9 L648.8 676.7 L648.8 677.6 L649 678.4 L649.1 679.4 L649.4 680.3 L649.7 681.2 L650.1 682.1 L650.5 683 L651 683.8 L651.6 684.7 L652.2 685.5 L652.8 686.2 L653.4 686.8 L654.1 687.4 L654.8 687.9 L655.5 688.4 L656.1 688.7 L656.8 689 L657.5 689.1 L658.1 689.2 L658.8 689.1 L659.3 689 L659.9 688.8 Z" stroke-width="1.4"/>
<line x1="664.3" y1="690.2" x2="672.9" y2="685.6" stroke-width="1.29"/>
<line x1="665.4" y1="687.5" x2="674.1" y2="682.9" stroke-width="1.29"/>
<line x1="665.7" y1="684" x2="674.3" y2="679.4" stroke-width="1.29"/>
<line x1="664.9" y1="680" x2="673.5" y2="675.4" stroke-width="1.29"/>
<line x1="663.2" y1="676" x2="671.8" y2="671.4" stroke-width="1.29"/>
<line x1="660.7" y1="672.4" x2="669.4" y2="667.8" stroke-width="1.29"/>
<line x1="657.8" y1="669.6" x2="666.5" y2="665" stroke-width="1.29"/>
<line x1="654.8" y1="668" x2="663.4" y2="663.4" stroke-width="1.29"/>
<line x1="651.9" y1="667.6" x2="660.6" y2="663" stroke-width="1.29"/>
<line x1="649.5" y1="673.4" x2="654.8" y2="670.6" stroke-width="1.17"/>
<line x1="648.8" y1="676.2" x2="654.1" y2="673.3" stroke-width="1.17"/>
<line x1="649.2" y1="679.7" x2="654.5" y2="676.8" stroke-width="1.17"/>
<line x1="650.7" y1="683.3" x2="656" y2="680.5" stroke-width="1.17"/>
<line x1="653" y1="686.4" x2="658.3" y2="683.6" stroke-width="1.17"/>
<line x1="655.7" y1="688.5" x2="661" y2="685.7" stroke-width="1.17"/>
<line x1="658.3" y1="689.2" x2="663.6" y2="686.4" stroke-width="1.17"/>
<line x1="639.7" y1="688.9" x2="647.7" y2="684.6" stroke-width="1.75"/>
<path d="M708.8 665.2 L709.5 664.8 L710.1 664.2 L710.6 663.5 L711.1 662.7 L711.4 661.8 L711.7 660.8 L711.8 659.8 L711.8 658.6 L711.8 657.4 L711.6 656.2 L711.4 654.9 L711 653.7 L710.6 652.4 L710 651.1 L709.4 649.8 L708.7 648.6 L708 647.5 L707.1 646.4 L706.3 645.4 L705.4 644.5 L704.4 643.6 L703.5 642.9 L702.5 642.3 L701.5 641.8 L700.6 641.5 L699.7 641.3 L698.8 641.2 L697.9 641.2 L697.1 641.4 L696.4 641.7 L685.8 647.4 L685.1 647.8 L684.5 648.4 L684 649.1 L683.5 649.8 L683.2 650.7 L682.9 651.7 L682.8 652.8 L682.8 653.9 L682.8 655.1 L683 656.4 L683.2 657.6 L683.6 658.9 L684 660.2 L684.6 661.5 L685.2 662.7 L685.9 663.9 L686.6 665.1 L687.5 666.2 L688.3 667.2 L689.2 668.1 L690.2 668.9 L691.1 669.6 L692.1 670.3 L693 670.7 L694 671.1 L694.9 671.3 L695.8 671.4 L696.7 671.3 L697.5 671.2 L698.2 670.8 Z" stroke-width="1.75" fill="#fff"/>
<path d="M698.2 670.8 L698.9 670.4 L699.5 669.8 L700 669.1 L700.5 668.4 L700.8 667.5 L701.1 666.5 L701.2 665.4 L701.2 664.3 L701.2 663.1 L701 661.8 L700.8 660.6 L700.4 659.3 L700 658 L699.4 656.7 L698.8 655.5 L698.1 654.3 L697.4 653.1 L696.5 652 L695.7 651 L694.8 650.1 L693.8 649.3 L692.9 648.6 L691.9 647.9 L691 647.5 L690 647.1 L689.1 646.9 L688.2 646.8 L687.3 646.9 L686.5 647 L685.8 647.4 L685.1 647.8 L684.5 648.4 L684 649.1 L683.5 649.8 L683.2 650.7 L682.9 651.7 L682.8 652.8 L682.8 653.9 L682.8 655.1 L683 656.4 L683.2 657.6 L683.6 658.9 L684 660.2 L684.6 661.5 L685.2 662.7 L685.9 663.9 L686.6 665.1 L687.5 666.2 L688.3 667.2 L689.2 668.1 L690.2 668.9 L691.1 669.6 L692.1 670.3 L693 670.7 L694 671.1 L694.9 671.3 L695.8 671.4 L696.7 671.3 L697.5 671.2 L698.2 670.8 Z" stroke-width="1.75" fill="#fff"/>
<path d="M697.5 669.4 L698.1 669 L698.6 668.5 L699.1 667.9 L699.5 667.2 L699.8 666.5 L700 665.6 L700.1 664.6 L700.1 663.6 L700.1 662.6 L699.9 661.5 L699.7 660.4 L699.4 659.3 L699 658.1 L698.5 657 L698 655.9 L697.4 654.9 L696.7 653.8 L696 652.9 L695.2 652 L694.4 651.2 L693.6 650.5 L692.8 649.8 L691.9 649.3 L691.1 648.9 L690.2 648.6 L689.4 648.4 L688.6 648.3 L687.9 648.3 L687.2 648.5 L686.5 648.8 L685.9 649.2 L685.4 649.7 L684.9 650.3 L684.5 651 L684.2 651.7 L684 652.6 L683.9 653.6 L683.9 654.6 L683.9 655.6 L684.1 656.7 L684.3 657.8 L684.6 658.9 L685 660.1 L685.5 661.2 L686 662.3 L686.6 663.3 L687.3 664.4 L688 665.3 L688.8 666.2 L689.6 667 L690.4 667.7 L691.2 668.4 L692.1 668.9 L692.9 669.3 L693.8 669.6 L694.6 669.8 L695.4 669.9 L696.1 669.9 L696.8 669.7 L697.5 669.4 Z" stroke-width="1.29"/>
<path d="M696.5 667.5 L696.9 667.2 L697.4 666.8 L697.7 666.3 L698.1 665.7 L698.3 665.1 L698.5 664.4 L698.6 663.6 L698.6 662.8 L698.6 661.9 L698.4 661.1 L698.3 660.1 L698 659.2 L697.7 658.3 L697.3 657.4 L696.9 656.5 L696.4 655.7 L695.8 654.8 L695.2 654 L694.6 653.3 L694 652.7 L693.3 652.1 L692.6 651.6 L691.9 651.1 L691.3 650.8 L690.6 650.5 L689.9 650.4 L689.3 650.3 L688.6 650.4 L688.1 650.5 L687.5 650.7 L687.1 651 L686.6 651.4 L686.3 651.9 L685.9 652.5 L685.7 653.1 L685.5 653.8 L685.4 654.6 L685.4 655.4 L685.4 656.3 L685.6 657.1 L685.7 658.1 L686 659 L686.3 659.9 L686.7 660.8 L687.1 661.7 L687.6 662.5 L688.2 663.4 L688.8 664.2 L689.4 664.9 L690 665.5 L690.7 666.1 L691.4 666.6 L692.1 667.1 L692.7 667.4 L693.4 667.7 L694.1 667.8 L694.7 667.9 L695.4 667.8 L695.9 667.7 L696.5 667.5 Z" stroke-width="1.4"/>
<line x1="700.9" y1="668.9" x2="709.5" y2="664.3" stroke-width="1.29"/>
<line x1="702" y1="666.2" x2="710.7" y2="661.6" stroke-width="1.29"/>
<line x1="702.3" y1="662.7" x2="710.9" y2="658.1" stroke-width="1.29"/>
<line x1="701.5" y1="658.7" x2="710.1" y2="654.1" stroke-width="1.29"/>
<line x1="699.8" y1="654.7" x2="708.4" y2="650.1" stroke-width="1.29"/>
<line x1="697.3" y1="651.1" x2="706" y2="646.5" stroke-width="1.29"/>
<line x1="694.4" y1="648.3" x2="703.1" y2="643.7" stroke-width="1.29"/>
<line x1="691.4" y1="646.7" x2="700" y2="642.1" stroke-width="1.29"/>
<line x1="688.5" y1="646.3" x2="697.2" y2="641.7" stroke-width="1.29"/>
<line x1="686.1" y1="652.1" x2="691.4" y2="649.3" stroke-width="1.17"/>
<line x1="685.4" y1="654.9" x2="690.7" y2="652" stroke-width="1.17"/>
<line x1="685.8" y1="658.4" x2="691.1" y2="655.5" stroke-width="1.17"/>
<line x1="687.3" y1="662" x2="692.6" y2="659.2" stroke-width="1.17"/>
<line x1="689.6" y1="665.1" x2="694.9" y2="662.3" stroke-width="1.17"/>
<line x1="692.3" y1="667.2" x2="697.6" y2="664.4" stroke-width="1.17"/>
<line x1="694.9" y1="667.9" x2="700.2" y2="665.1" stroke-width="1.17"/>
<line x1="677.8" y1="667.6" x2="685.1" y2="663.9" stroke-width="1.75"/>
<path d="M784.8 632.5 L785.9 631.8 L786.8 630.9 L787.6 629.9 L788.2 628.6 L788.7 627.2 L789.1 625.7 L789.2 624 L789.3 622.3 L789.2 620.4 L788.9 618.4 L788.5 616.4 L787.9 614.4 L787.2 612.4 L786.3 610.4 L785.4 608.4 L784.3 606.5 L783.1 604.7 L781.8 603 L780.4 601.4 L779 599.9 L777.6 598.6 L776.1 597.4 L774.6 596.5 L773.1 595.7 L771.6 595.1 L770.2 594.8 L768.8 594.6 L767.5 594.7 L766.3 594.9 L765.1 595.4 L745.7 605.7 L744.7 606.4 L743.7 607.3 L743 608.3 L742.3 609.6 L741.8 611 L741.5 612.5 L741.3 614.2 L741.2 616 L741.4 617.8 L741.6 619.8 L742.1 621.8 L742.6 623.8 L743.3 625.8 L744.2 627.8 L745.2 629.8 L746.3 631.7 L747.4 633.5 L748.7 635.3 L750.1 636.9 L751.5 638.3 L752.9 639.6 L754.4 640.8 L755.9 641.7 L757.4 642.5 L758.9 643.1 L760.3 643.5 L761.7 643.6 L763 643.6 L764.3 643.3 L765.4 642.8 Z" stroke-width="1.75" fill="#fff"/>
<path d="M765.4 642.8 L766.4 642.1 L767.3 641.3 L768.1 640.2 L768.8 639 L769.3 637.6 L769.6 636 L769.8 634.4 L769.9 632.6 L769.7 630.7 L769.5 628.8 L769 626.8 L768.5 624.8 L767.8 622.7 L766.9 620.7 L765.9 618.8 L764.8 616.8 L763.7 615 L762.4 613.3 L761 611.7 L759.6 610.2 L758.2 608.9 L756.7 607.8 L755.2 606.8 L753.7 606 L752.2 605.5 L750.8 605.1 L749.4 604.9 L748.1 605 L746.8 605.3 L745.7 605.7 L744.7 606.4 L743.7 607.3 L743 608.3 L742.3 609.6 L741.8 611 L741.5 612.5 L741.3 614.2 L741.2 616 L741.4 617.8 L741.6 619.8 L742.1 621.8 L742.6 623.8 L743.3 625.8 L744.2 627.8 L745.2 629.8 L746.3 631.7 L747.4 633.5 L748.7 635.3 L750.1 636.9 L751.5 638.3 L752.9 639.6 L754.4 640.8 L755.9 641.7 L757.4 642.5 L758.9 643.1 L760.3 643.5 L761.7 643.6 L763 643.6 L764.3 643.3 L765.4 642.8 Z" stroke-width="1.75" fill="#fff"/>
<path d="M778.2 635.8 L779.1 634.8 L779.9 633.7 L780.5 632.4 L780.9 630.9 L781.2 629.3 L781.3 627.5 L781.3 625.7 L781.1 623.8 L780.8 621.8 L780.3 619.7 L779.6 617.7 L778.8 615.7 L777.9 613.6 L776.9 611.7 L775.7 609.8 L774.5 608 L773.1 606.3 L771.7 604.8 L770.3 603.4 L768.8 602.1 L767.3 601.1 L765.7 600.2 L764.2 599.5 L762.8 599.1 L761.3 598.9 L760 598.8 L758.7 599" stroke-width="1.17" stroke-dasharray="1.5 1.5"/>
<path d="M780.9 634.4 L781.8 633.4 L782.5 632.3 L783.1 631 L783.6 629.5 L783.8 627.9 L784 626.1 L784 624.3 L783.8 622.4 L783.4 620.4 L782.9 618.3 L782.3 616.3 L781.5 614.2 L780.6 612.2 L779.5 610.3 L778.4 608.4 L777.1 606.6 L775.8 604.9 L774.4 603.3 L772.9 601.9 L771.4 600.7 L769.9 599.7 L768.4 598.8 L766.9 598.1 L765.4 597.7 L764 597.5 L762.6 597.4 L761.4 597.6" stroke-width="1.17" stroke-dasharray="1.5 1.5"/>
<path d="M783.5 632.9 L784.4 632 L785.2 630.9 L785.8 629.5 L786.2 628.1 L786.5 626.5 L786.6 624.7 L786.6 622.9 L786.4 621 L786.1 619 L785.6 616.9 L784.9 614.9 L784.1 612.8 L783.2 610.8 L782.2 608.9 L781 607 L779.8 605.2 L778.4 603.5 L777 601.9 L775.6 600.5 L774.1 599.3 L772.6 598.3 L771 597.4 L769.5 596.7 L768.1 596.3 L766.6 596 L765.3 596 L764 596.2" stroke-width="1.17" stroke-dasharray="1.5 1.5"/>
<path d="M775.1 637.7 L776.1 637 L777.1 636.1 L777.8 635 L778.5 633.8 L779 632.4 L779.3 630.9 L779.5 629.2 L779.6 627.4 L779.5 625.5 L779.2 623.6 L778.8 621.6 L778.2 619.6 L777.5 617.6 L776.6 615.6 L775.6 613.6 L774.6 611.7 L773.4 609.9 L772.1 608.1 L770.7 606.5 L769.3 605.1 L767.9 603.7 L766.4 602.6 L764.9 601.6 L763.4 600.9 L761.9 600.3 L760.5 599.9 L759.1 599.8 L757.8 599.8 L756.5 600.1 L755.4 600.6" stroke-width="1.4"/>
<path d="M771.4 656.2 L773.1 655 L774.7 653.5 L776 651.7 L777.1 649.7 L777.9 647.3 L778.5 644.7 L778.9 641.8 L778.9 638.8 L778.7 635.6 L778.3 632.4 L777.5 629 L776.6 625.6 L775.4 622.1 L773.9 618.7 L772.3 615.4 L770.4 612.2 L768.4 609.1 L766.2 606.1 L763.9 603.4 L761.6 600.9 L759.1 598.7 L756.6 596.8 L754 595.1 L751.5 593.8 L749 592.8 L746.6 592.2 L744.2 592 L742 592.1 L739.9 592.5 L738 593.3 L730.9 597.1 L729.1 598.2 L727.6 599.7 L726.3 601.5 L725.2 603.6 L724.3 606 L723.7 608.6 L723.4 611.4 L723.3 614.4 L723.5 617.6 L724 620.9 L724.7 624.3 L725.7 627.7 L726.9 631.1 L728.3 634.5 L730 637.9 L731.8 641.1 L733.9 644.2 L736 647.1 L738.3 649.8 L740.7 652.3 L743.2 654.5 L745.7 656.5 L748.2 658.1 L750.8 659.4 L753.3 660.4 L755.7 661 L758.1 661.3 L760.3 661.2 L762.4 660.7 L764.3 659.9 Z" stroke-width="1.75" stroke-dasharray="13 2.5 3 2.5" fill="#fff"/>
<path d="M764.3 659.9 L766.1 658.8 L767.6 657.3 L768.9 655.5 L770 653.4 L770.9 651 L771.5 648.4 L771.8 645.6 L771.9 642.6 L771.7 639.4 L771.2 636.1 L770.5 632.7 L769.5 629.3 L768.3 625.9 L766.9 622.5 L765.2 619.1 L763.4 615.9 L761.3 612.8 L759.2 609.9 L756.9 607.2 L754.5 604.7 L752 602.5 L749.5 600.5 L747 598.9 L744.4 597.6 L741.9 596.6 L739.5 596 L737.1 595.7 L734.9 595.8 L732.8 596.3 L730.9 597.1 L729.1 598.2 L727.6 599.7 L726.3 601.5 L725.2 603.6 L724.3 606 L723.7 608.6 L723.4 611.4 L723.3 614.4 L723.5 617.6 L724 620.9 L724.7 624.3 L725.7 627.7 L726.9 631.1 L728.3 634.5 L730 637.9 L731.8 641.1 L733.9 644.2 L736 647.1 L738.3 649.8 L740.7 652.3 L743.2 654.5 L745.7 656.5 L748.2 658.1 L750.8 659.4 L753.3 660.4 L755.7 661 L758.1 661.3 L760.3 661.2 L762.4 660.7 L764.3 659.9 Z" stroke-width="1.75" stroke-dasharray="13 2.5 3 2.5" fill="#fff"/>
<path d="M755.6 645.5 L756.5 644.9 L757.3 644.2 L758.1 643.2 L758.7 642.2 L759.2 641 L759.5 639.7 L759.8 638.3 L759.9 636.9 L759.8 635.3 L759.6 633.7 L759.3 632.1 L758.9 630.4 L758.4 628.8 L757.7 627.1 L756.9 625.6 L756 624 L755 622.5 L754 621.2 L752.9 619.9 L751.7 618.7 L750.4 617.7 L749.2 616.8 L747.9 616 L746.6 615.4 L745.3 615 L744.1 614.8 L742.9 614.7 L741.7 614.8 L740.6 615.1 L739.6 615.5 L738.7 616.1 L737.9 616.8 L737.1 617.8 L736.5 618.8 L736 620 L735.7 621.3 L735.4 622.7 L735.3 624.1 L735.4 625.7 L735.6 627.3 L735.9 628.9 L736.3 630.6 L736.8 632.2 L737.5 633.9 L738.3 635.4 L739.2 637 L740.2 638.5 L741.2 639.8 L742.3 641.1 L743.5 642.3 L744.8 643.3 L746 644.2 L747.3 645 L748.6 645.6 L749.9 646 L751.1 646.2 L752.3 646.3 L753.5 646.2 L754.6 645.9 L755.6 645.5 Z" stroke-width="1.75"/>
<path d="M753.9 642.4 L754.7 641.9 L755.3 641.3 L755.9 640.6 L756.4 639.8 L756.8 638.9 L757.1 637.8 L757.3 636.7 L757.3 635.6 L757.3 634.3 L757.2 633.1 L756.9 631.8 L756.6 630.4 L756.1 629.1 L755.6 627.8 L755 626.6 L754.3 625.3 L753.5 624.2 L752.7 623.1 L751.8 622.1 L750.8 621.1 L749.9 620.3 L748.9 619.6 L747.8 619 L746.8 618.5 L745.8 618.2 L744.8 618 L743.9 617.9 L742.9 618 L742.1 618.2 L741.3 618.6 L740.5 619.1 L739.9 619.7 L739.3 620.4 L738.8 621.2 L738.4 622.1 L738.1 623.2 L737.9 624.3 L737.9 625.4 L737.9 626.7 L738 627.9 L738.3 629.2 L738.6 630.6 L739.1 631.9 L739.6 633.2 L740.2 634.4 L740.9 635.7 L741.7 636.8 L742.5 637.9 L743.4 638.9 L744.4 639.9 L745.3 640.7 L746.3 641.4 L747.4 642 L748.4 642.5 L749.4 642.8 L750.4 643 L751.3 643.1 L752.3 643 L753.1 642.8 L753.9 642.4 Z" stroke-width="1.75"/>
<path d="M759.5 610 L764.5 607 L769.5 608.5 L766 611.2 L768.5 613.2" stroke-width="1.52"/>
<path d="M761.8 615.3 L766.8 612.3 L771.8 613.8 L768.3 616.5 L770.8 618.5" stroke-width="1.52"/>
<path d="M764.1 620.6 L769.1 617.6 L774.1 619.1 L770.6 621.8 L773.1 623.8" stroke-width="1.52"/>
<path d="M766.4 625.9 L771.4 622.9 L776.4 624.4 L772.9 627.1 L775.4 629.1" stroke-width="1.52"/>
<line x1="714.5" y1="647.2" x2="745.9" y2="631" stroke-width="1.75"/>
<path d="M840.4 612.5 L842.1 611.4 L843.7 610.1 L845.1 608.5 L846.2 606.6 L847.2 604.5 L847.9 602.3 L848.4 599.9 L848.7 597.3 L848.7 594.6 L848.5 591.8 L848 589 L847.3 586.2 L846.4 583.3 L845.3 580.5 L844 577.8 L842.5 575.2 L840.8 572.7 L838.9 570.3 L836.9 568.2 L834.9 566.2 L832.7 564.5 L830.5 563 L828.2 561.8 L825.9 560.9 L823.6 560.2 L821.4 559.8 L819.2 559.8 L817.1 560 L815.1 560.5 L813.2 561.3 L803.5 566.5 L801.8 567.6 L800.2 569 L798.9 570.6 L797.7 572.4 L796.7 574.5 L796 576.7 L795.5 579.2 L795.2 581.7 L795.2 584.4 L795.4 587.2 L795.9 590 L796.6 592.9 L797.5 595.7 L798.6 598.5 L799.9 601.2 L801.5 603.8 L803.1 606.3 L805 608.7 L807 610.8 L809.1 612.8 L811.2 614.5 L813.5 616 L815.7 617.2 L818 618.2 L820.3 618.8 L822.6 619.2 L824.7 619.3 L826.9 619 L828.8 618.5 L830.7 617.7 Z" stroke-width="1.75" fill="#fff"/>
<path d="M830.7 617.7 L832.4 616.6 L834 615.2 L835.3 613.6 L836.5 611.8 L837.5 609.7 L838.2 607.5 L838.7 605 L839 602.5 L839 599.8 L838.8 597 L838.3 594.2 L837.6 591.3 L836.7 588.5 L835.6 585.7 L834.3 583 L832.7 580.4 L831.1 577.9 L829.2 575.5 L827.2 573.4 L825.1 571.4 L823 569.7 L820.7 568.2 L818.5 567 L816.2 566 L813.9 565.4 L811.6 565 L809.5 564.9 L807.3 565.2 L805.4 565.7 L803.5 566.5 L801.8 567.6 L800.2 569 L798.9 570.6 L797.7 572.4 L796.7 574.5 L796 576.7 L795.5 579.2 L795.2 581.7 L795.2 584.4 L795.4 587.2 L795.9 590 L796.6 592.9 L797.5 595.7 L798.6 598.5 L799.9 601.2 L801.5 603.8 L803.1 606.3 L805 608.7 L807 610.8 L809.1 612.8 L811.2 614.5 L813.5 616 L815.7 617.2 L818 618.2 L820.3 618.8 L822.6 619.2 L824.7 619.3 L826.9 619 L828.8 618.5 L830.7 617.7 Z" stroke-width="1.75" fill="#fff"/>
<path d="M833.8 616.1 L835.5 615 L837.1 613.6 L838.4 612 L839.6 610.1 L840.6 608.1 L841.3 605.8 L841.8 603.4 L842 600.8 L842.1 598.1 L841.9 595.4 L841.4 592.5 L840.7 589.7 L839.8 586.9 L838.7 584.1 L837.3 581.3 L835.8 578.7 L834.1 576.2 L832.3 573.9 L830.3 571.7 L828.2 569.8 L826.1 568 L823.8 566.5 L821.6 565.3 L819.3 564.4 L817 563.7 L814.7 563.4 L812.5 563.3 L810.4 563.5 L808.4 564 L806.6 564.9" stroke-width="1.29"/>
<path d="M836 614.9 L837.7 613.8 L839.3 612.4 L840.6 610.8 L841.8 609 L842.8 606.9 L843.5 604.6 L844 602.2 L844.3 599.6 L844.3 597 L844.1 594.2 L843.6 591.4 L842.9 588.5 L842 585.7 L840.9 582.9 L839.6 580.2 L838 577.5 L836.3 575 L834.5 572.7 L832.5 570.5 L830.4 568.6 L828.3 566.9 L826 565.4 L823.8 564.2 L821.5 563.2 L819.2 562.5 L816.9 562.2 L814.8 562.1 L812.6 562.3 L810.7 562.9 L808.8 563.7" stroke-width="1.29"/>
<path d="M838.2 613.7 L839.9 612.6 L841.5 611.3 L842.9 609.6 L844 607.8 L845 605.7 L845.7 603.5 L846.2 601 L846.5 598.5 L846.5 595.8 L846.3 593 L845.8 590.2 L845.1 587.3 L844.2 584.5 L843.1 581.7 L841.8 579 L840.2 576.4 L838.6 573.9 L836.7 571.5 L834.7 569.4 L832.7 567.4 L830.5 565.7 L828.2 564.2 L826 563 L823.7 562 L821.4 561.4 L819.1 561 L817 560.9 L814.9 561.2 L812.9 561.7 L811 562.5" stroke-width="1.29"/>
<path d="M827.2 611.1 L828.5 610.3 L829.6 609.3 L830.6 608.1 L831.5 606.7 L832.2 605.2 L832.7 603.5 L833.1 601.7 L833.3 599.8 L833.3 597.8 L833.2 595.7 L832.8 593.6 L832.3 591.5 L831.6 589.4 L830.8 587.4 L829.8 585.3 L828.7 583.4 L827.4 581.5 L826.1 579.8 L824.6 578.2 L823.1 576.8 L821.5 575.5 L819.8 574.4 L818.1 573.5 L816.4 572.8 L814.7 572.3 L813.1 572 L811.4 572 L809.9 572.1 L808.4 572.5 L807 573.1 L805.7 573.9 L804.6 574.9 L803.6 576.1 L802.7 577.5 L802 579 L801.5 580.7 L801.1 582.5 L800.9 584.4 L800.9 586.4 L801 588.5 L801.4 590.6 L801.9 592.7 L802.6 594.8 L803.4 596.8 L804.4 598.9 L805.5 600.8 L806.8 602.7 L808.1 604.4 L809.6 606 L811.1 607.4 L812.7 608.7 L814.4 609.8 L816.1 610.7 L817.8 611.4 L819.5 611.9 L821.1 612.2 L822.8 612.2 L824.3 612.1 L825.8 611.7 L827.2 611.1 Z" stroke-width="1.75"/>
<path d="M812.1 570.5 L810.9 571.5 L809.9 572.7 L809 574.1 L808.2 575.6 L807.7 577.3 L807.3 579.1 L807.1 581.1 L807.1 583.1 L807.2 585.2 L807.6 587.3 L808.1 589.5 L808.8 591.6 L809.6 593.7 L810.7 595.8 L811.8 597.7 L813.1 599.6 L814.5 601.4 L816 603 L817.6 604.4 L819.3 605.7 L821 606.8 L822.7 607.6 L824.4 608.3 L826.1 608.7 L827.8 608.9 L829.4 608.9 L831 608.7" stroke-width="1.29"/>
<line x1="805" y1="574.6" x2="811.1" y2="571.3" stroke-width="1.17"/>
<line x1="803.3" y1="576.6" x2="809.4" y2="573.3" stroke-width="1.17"/>
<line x1="802" y1="579" x2="808.2" y2="575.8" stroke-width="1.17"/>
<line x1="801.2" y1="581.9" x2="807.4" y2="578.6" stroke-width="1.17"/>
<line x1="800.9" y1="585.1" x2="807" y2="581.8" stroke-width="1.17"/>
<line x1="801" y1="588.5" x2="807.2" y2="585.2" stroke-width="1.17"/>
<line x1="801.7" y1="592" x2="807.9" y2="588.7" stroke-width="1.17"/>
<line x1="802.8" y1="595.5" x2="809" y2="592.2" stroke-width="1.17"/>
<line x1="804.4" y1="598.9" x2="810.6" y2="595.6" stroke-width="1.17"/>
<line x1="806.3" y1="602.1" x2="812.5" y2="598.8" stroke-width="1.17"/>
<line x1="808.6" y1="604.9" x2="814.8" y2="601.7" stroke-width="1.17"/>
<line x1="811.1" y1="607.4" x2="817.3" y2="604.2" stroke-width="1.17"/>
<line x1="813.8" y1="609.5" x2="820" y2="606.2" stroke-width="1.17"/>
<line x1="816.7" y1="611" x2="822.8" y2="607.7" stroke-width="1.17"/>
<line x1="819.5" y1="611.9" x2="825.7" y2="608.6" stroke-width="1.17"/>
<line x1="822.2" y1="612.3" x2="828.4" y2="609" stroke-width="1.17"/>
<line x1="788.8" y1="606.8" x2="817.1" y2="592.1" stroke-width="1.75"/>
<path d="M981.6 513.1 L982 512.8 L982.3 512.5 L982.6 512 L982.9 511.5 L983.1 511 L983.2 510.4 L983.3 509.7 L983.3 509 L983.2 508.2 L983.1 507.5 L982.9 506.7 L982.7 505.8 L982.4 505 L982 504.2 L981.6 503.4 L981.2 502.6 L980.7 501.9 L980.2 501.2 L979.7 500.5 L979.1 499.9 L978.5 499.4 L977.9 498.9 L977.3 498.5 L976.7 498.2 L976.2 498 L975.6 497.8 L975 497.8 L974.5 497.8 L974 497.9 L973.6 498.1 L952 509.5 L951.6 509.8 L951.3 510.1 L951 510.6 L950.7 511 L950.6 511.6 L950.4 512.2 L950.4 512.9 L950.4 513.6 L950.4 514.4 L950.5 515.1 L950.7 515.9 L951 516.8 L951.2 517.6 L951.6 518.4 L952 519.2 L952.4 520 L952.9 520.7 L953.4 521.4 L954 522 L954.5 522.6 L955.1 523.2 L955.7 523.6 L956.3 524 L956.9 524.4 L957.5 524.6 L958 524.8 L958.6 524.8 L959.1 524.8 L959.6 524.7 L960 524.5 Z" stroke-width="1.75" fill="#fff"/>
<path d="M960 524.5 L960.4 524.3 L960.8 523.9 L961.1 523.5 L961.3 523 L961.5 522.4 L961.6 521.8 L961.7 521.2 L961.7 520.4 L961.7 519.7 L961.5 518.9 L961.4 518.1 L961.1 517.3 L960.8 516.5 L960.5 515.7 L960.1 514.9 L959.7 514.1 L959.2 513.4 L958.7 512.7 L958.1 512 L957.6 511.4 L957 510.9 L956.4 510.4 L955.8 510 L955.2 509.7 L954.6 509.4 L954 509.3 L953.5 509.2 L953 509.2 L952.5 509.3 L952 509.5 L951.6 509.8 L951.3 510.1 L951 510.6 L950.7 511 L950.6 511.6 L950.4 512.2 L950.4 512.9 L950.4 513.6 L950.4 514.4 L950.5 515.1 L950.7 515.9 L951 516.8 L951.2 517.6 L951.6 518.4 L952 519.2 L952.4 520 L952.9 520.7 L953.4 521.4 L954 522 L954.5 522.6 L955.1 523.2 L955.7 523.6 L956.3 524 L956.9 524.4 L957.5 524.6 L958 524.8 L958.6 524.8 L959.1 524.8 L959.6 524.7 L960 524.5 Z" stroke-width="1.75" fill="#fff"/>
<path d="M961 526.3 L961.5 526 L961.9 525.5 L962.3 525 L962.6 524.4 L962.8 523.7 L963 523 L963.1 522.1 L963.1 521.2 L963 520.3 L962.8 519.4 L962.6 518.4 L962.3 517.4 L962 516.3 L961.5 515.3 L961 514.4 L960.5 513.4 L959.9 512.5 L959.3 511.6 L958.6 510.8 L957.9 510.1 L957.2 509.4 L956.5 508.8 L955.7 508.4 L955 508 L954.3 507.7 L953.6 507.5 L952.9 507.4 L952.3 507.4 L951.7 507.5 L951.1 507.8 L929.4 519.3 L928.9 519.6 L928.5 520.1 L928.1 520.6 L927.8 521.2 L927.5 521.9 L927.4 522.6 L927.3 523.5 L927.3 524.3 L927.4 525.3 L927.5 526.2 L927.7 527.2 L928 528.2 L928.4 529.2 L928.8 530.3 L929.3 531.2 L929.9 532.2 L930.4 533.1 L931.1 534 L931.8 534.8 L932.4 535.5 L933.2 536.2 L933.9 536.8 L934.6 537.2 L935.4 537.6 L936.1 537.9 L936.8 538.1 L937.5 538.2 L938.1 538.2 L938.7 538.1 L939.2 537.8 Z" stroke-width="1.75" fill="#fff"/>
<path d="M939.2 537.8 L939.7 537.5 L940.2 537.1 L940.6 536.6 L940.9 536 L941.1 535.3 L941.2 534.5 L941.3 533.7 L941.3 532.8 L941.3 531.9 L941.1 530.9 L940.9 529.9 L940.6 528.9 L940.2 527.9 L939.8 526.9 L939.3 525.9 L938.8 525 L938.2 524 L937.6 523.2 L936.9 522.4 L936.2 521.6 L935.5 521 L934.7 520.4 L934 519.9 L933.3 519.5 L932.6 519.2 L931.9 519 L931.2 518.9 L930.5 519 L929.9 519.1 L929.4 519.3 L928.9 519.6 L928.5 520.1 L928.1 520.6 L927.8 521.2 L927.5 521.9 L927.4 522.6 L927.3 523.5 L927.3 524.3 L927.4 525.3 L927.5 526.2 L927.7 527.2 L928 528.2 L928.4 529.2 L928.8 530.3 L929.3 531.2 L929.9 532.2 L930.4 533.1 L931.1 534 L931.8 534.8 L932.4 535.5 L933.2 536.2 L933.9 536.8 L934.6 537.2 L935.4 537.6 L936.1 537.9 L936.8 538.1 L937.5 538.2 L938.1 538.2 L938.7 538.1 L939.2 537.8 Z" stroke-width="1.75" fill="#fff"/>
<path d="M940.4 540.1 L941 539.6 L941.6 539.1 L942 538.5 L942.4 537.7 L942.7 536.9 L942.9 535.9 L943 534.9 L943 533.8 L942.9 532.7 L942.7 531.5 L942.5 530.2 L942.1 529 L941.7 527.7 L941.1 526.5 L940.5 525.3 L939.8 524.1 L939.1 523 L938.3 521.9 L937.5 520.9 L936.6 520 L935.7 519.2 L934.8 518.4 L933.9 517.8 L933 517.3 L932.1 517 L931.3 516.7 L930.4 516.6 L929.6 516.7 L928.9 516.8 L928.2 517.1 L916.7 523.2 L916.1 523.6 L915.6 524.1 L915.1 524.8 L914.7 525.5 L914.5 526.4 L914.3 527.3 L914.2 528.4 L914.2 529.4 L914.2 530.6 L914.4 531.8 L914.7 533 L915.1 534.3 L915.5 535.5 L916 536.8 L916.6 538 L917.3 539.2 L918 540.3 L918.8 541.4 L919.7 542.4 L920.5 543.3 L921.4 544.1 L922.3 544.8 L923.2 545.4 L924.1 545.9 L925 546.3 L925.9 546.5 L926.7 546.6 L927.5 546.6 L928.3 546.4 L928.9 546.2 Z" stroke-width="1.75" fill="#fff"/>
<path d="M928.9 546.2 L929.6 545.7 L930.1 545.2 L930.6 544.6 L930.9 543.8 L931.2 543 L931.4 542 L931.5 541 L931.5 539.9 L931.4 538.8 L931.3 537.6 L931 536.3 L930.6 535.1 L930.2 533.8 L929.6 532.6 L929 531.4 L928.4 530.2 L927.6 529.1 L926.8 528 L926 527 L925.2 526.1 L924.3 525.3 L923.4 524.5 L922.5 523.9 L921.5 523.5 L920.7 523.1 L919.8 522.8 L919 522.7 L918.2 522.8 L917.4 522.9 L916.7 523.2 L916.1 523.6 L915.6 524.1 L915.1 524.8 L914.7 525.5 L914.5 526.4 L914.3 527.3 L914.2 528.4 L914.2 529.4 L914.2 530.6 L914.4 531.8 L914.7 533 L915.1 534.3 L915.5 535.5 L916 536.8 L916.6 538 L917.3 539.2 L918 540.3 L918.8 541.4 L919.7 542.4 L920.5 543.3 L921.4 544.1 L922.3 544.8 L923.2 545.4 L924.1 545.9 L925 546.3 L925.9 546.5 L926.7 546.6 L927.5 546.6 L928.3 546.4 L928.9 546.2 Z" stroke-width="1.75" fill="#fff"/>
<path d="M929.4 547 L930.1 546.6 L930.7 546 L931.2 545.3 L931.6 544.5 L931.9 543.6 L932.1 542.6 L932.2 541.5 L932.2 540.3 L932.1 539.1 L931.9 537.8 L931.6 536.5 L931.2 535.1 L930.7 533.8 L930.2 532.4 L929.5 531.1 L928.8 529.9 L928 528.6 L927.2 527.5 L926.3 526.4 L925.3 525.4 L924.4 524.5 L923.4 523.8 L922.4 523.1 L921.4 522.6 L920.5 522.2 L919.6 521.9 L918.7 521.8 L917.8 521.8 L917 522 L916.3 522.3 L911 525.1 L910.3 525.6 L909.7 526.1 L909.2 526.8 L908.8 527.6 L908.5 528.6 L908.3 529.6 L908.2 530.7 L908.2 531.9 L908.3 533.1 L908.5 534.4 L908.8 535.7 L909.2 537 L909.6 538.4 L910.2 539.7 L910.9 541 L911.6 542.3 L912.4 543.5 L913.2 544.7 L914.1 545.8 L915 546.7 L916 547.6 L917 548.4 L918 549.1 L918.9 549.6 L919.9 550 L920.8 550.2 L921.7 550.3 L922.6 550.3 L923.4 550.2 L924.1 549.9 Z" stroke-width="1.75" fill="#fff"/>
<path d="M924.1 549.9 L924.8 549.4 L925.4 548.8 L925.9 548.2 L926.3 547.3 L926.6 546.4 L926.8 545.4 L926.9 544.3 L926.9 543.1 L926.8 541.9 L926.6 540.6 L926.3 539.3 L925.9 537.9 L925.4 536.6 L924.9 535.3 L924.2 533.9 L923.5 532.7 L922.7 531.5 L921.9 530.3 L921 529.2 L920 528.2 L919.1 527.4 L918.1 526.6 L917.1 525.9 L916.1 525.4 L915.2 525 L914.3 524.8 L913.4 524.6 L912.5 524.7 L911.7 524.8 L911 525.1 L910.3 525.6 L909.7 526.1 L909.2 526.8 L908.8 527.6 L908.5 528.6 L908.3 529.6 L908.2 530.7 L908.2 531.9 L908.3 533.1 L908.5 534.4 L908.8 535.7 L909.2 537 L909.6 538.4 L910.2 539.7 L910.9 541 L911.6 542.3 L912.4 543.5 L913.2 544.7 L914.1 545.8 L915 546.7 L916 547.6 L917 548.4 L918 549.1 L918.9 549.6 L919.9 550 L920.8 550.2 L921.7 550.3 L922.6 550.3 L923.4 550.2 L924.1 549.9 Z" stroke-width="1.75" fill="#fff"/>
<path d="M928.8 558.7 L929.9 557.9 L930.9 557 L931.8 555.8 L932.5 554.4 L933 552.8 L933.4 551.1 L933.6 549.2 L933.6 547.2 L933.4 545 L933.1 542.8 L932.6 540.6 L931.9 538.3 L931.1 535.9 L930.1 533.7 L929 531.4 L927.7 529.2 L926.4 527.1 L924.9 525.2 L923.4 523.3 L921.8 521.6 L920.2 520.1 L918.5 518.8 L916.8 517.7 L915.2 516.8 L913.5 516.1 L911.9 515.7 L910.4 515.5 L908.9 515.5 L907.5 515.8 L906.3 516.3 L893.9 522.9 L892.8 523.6 L891.8 524.6 L890.9 525.8 L890.2 527.2 L889.7 528.8 L889.3 530.5 L889.2 532.4 L889.1 534.4 L889.3 536.5 L889.6 538.7 L890.1 541 L890.8 543.3 L891.6 545.6 L892.6 547.9 L893.7 550.1 L895 552.3 L896.3 554.4 L897.8 556.4 L899.3 558.2 L900.9 559.9 L902.5 561.4 L904.2 562.8 L905.9 563.9 L907.6 564.8 L909.2 565.5 L910.8 565.9 L912.4 566.1 L913.8 566.1 L915.2 565.8 L916.4 565.3 Z" stroke-width="1.75" fill="#fff"/>
<path d="M916.4 565.3 L917.6 564.5 L918.6 563.5 L919.4 562.3 L920.1 560.9 L920.7 559.4 L921 557.6 L921.2 555.7 L921.2 553.7 L921.1 551.6 L920.7 549.4 L920.2 547.1 L919.5 544.8 L918.7 542.5 L917.7 540.2 L916.6 538 L915.4 535.8 L914 533.7 L912.6 531.7 L911.1 529.9 L909.5 528.2 L907.8 526.7 L906.1 525.4 L904.5 524.2 L902.8 523.3 L901.1 522.7 L899.5 522.2 L898 522 L896.5 522.1 L895.2 522.4 L893.9 522.9 L892.8 523.6 L891.8 524.6 L890.9 525.8 L890.2 527.2 L889.7 528.8 L889.3 530.5 L889.2 532.4 L889.1 534.4 L889.3 536.5 L889.6 538.7 L890.1 541 L890.8 543.3 L891.6 545.6 L892.6 547.9 L893.7 550.1 L895 552.3 L896.3 554.4 L897.8 556.4 L899.3 558.2 L900.9 559.9 L902.5 561.4 L904.2 562.8 L905.9 563.9 L907.6 564.8 L909.2 565.5 L910.8 565.9 L912.4 566.1 L913.8 566.1 L915.2 565.8 L916.4 565.3 Z" stroke-width="1.75" fill="#fff"/>
<path d="M912 556.9 L912.7 556.4 L913.3 555.8 L913.8 555.1 L914.2 554.3 L914.5 553.3 L914.8 552.3 L914.9 551.1 L914.9 549.9 L914.8 548.6 L914.6 547.3 L914.3 545.9 L913.9 544.5 L913.4 543.1 L912.8 541.7 L912.1 540.4 L911.3 539.1 L910.5 537.8 L909.7 536.6 L908.7 535.5 L907.8 534.5 L906.8 533.6 L905.8 532.8 L904.7 532.1 L903.7 531.5 L902.7 531.1 L901.8 530.9 L900.8 530.8 L900 530.8 L899.1 530.9 L898.4 531.3 L893.1 534.1 L892.4 534.5 L891.8 535.1 L891.3 535.8 L890.9 536.7 L890.5 537.6 L890.3 538.7 L890.2 539.8 L890.2 541 L890.3 542.3 L890.5 543.7 L890.8 545 L891.2 546.4 L891.7 547.8 L892.3 549.2 L893 550.6 L893.7 551.9 L894.5 553.1 L895.4 554.3 L896.3 555.4 L897.3 556.5 L898.3 557.4 L899.3 558.2 L900.3 558.9 L901.3 559.4 L902.3 559.8 L903.3 560.1 L904.2 560.2 L905.1 560.2 L905.9 560 L906.7 559.7 Z" stroke-width="1.75" fill="#fff"/>
<path d="M906.7 559.7 L907.4 559.2 L908 558.6 L908.5 557.9 L908.9 557.1 L909.2 556.1 L909.5 555.1 L909.6 553.9 L909.6 552.7 L909.5 551.4 L909.3 550.1 L909 548.7 L908.6 547.3 L908.1 545.9 L907.5 544.6 L906.8 543.2 L906 541.9 L905.2 540.6 L904.4 539.4 L903.4 538.3 L902.5 537.3 L901.5 536.4 L900.5 535.6 L899.5 534.9 L898.4 534.4 L897.4 534 L896.5 533.7 L895.5 533.6 L894.7 533.6 L893.8 533.8 L893.1 534.1 L892.4 534.5 L891.8 535.1 L891.3 535.8 L890.9 536.7 L890.5 537.6 L890.3 538.7 L890.2 539.8 L890.2 541 L890.3 542.3 L890.5 543.7 L890.8 545 L891.2 546.4 L891.7 547.8 L892.3 549.2 L893 550.6 L893.7 551.9 L894.5 553.1 L895.4 554.3 L896.3 555.4 L897.3 556.5 L898.3 557.4 L899.3 558.2 L900.3 558.9 L901.3 559.4 L902.3 559.8 L903.3 560.1 L904.2 560.2 L905.1 560.2 L905.9 560 L906.7 559.7 Z" stroke-width="1.75" fill="#fff"/>
<path d="M904.6 555.7 L905.1 555.4 L905.5 555 L905.8 554.5 L906.1 553.9 L906.3 553.3 L906.5 552.5 L906.6 551.7 L906.6 550.9 L906.5 550 L906.4 549.1 L906.1 548.2 L905.9 547.2 L905.5 546.2 L905.1 545.3 L904.7 544.3 L904.1 543.4 L903.6 542.6 L903 541.7 L902.3 541 L901.7 540.3 L901 539.6 L900.3 539.1 L899.6 538.6 L898.9 538.2 L898.2 538 L897.5 537.8 L896.9 537.7 L896.3 537.7 L895.7 537.8 L895.2 538.1 L874.9 548.9 L874.4 549.2 L874 549.6 L873.6 550.1 L873.3 550.6 L873.1 551.3 L873 552 L872.9 552.8 L872.9 553.7 L873 554.5 L873.1 555.5 L873.3 556.4 L873.6 557.4 L873.9 558.3 L874.3 559.3 L874.8 560.2 L875.3 561.1 L875.9 562 L876.5 562.8 L877.1 563.6 L877.8 564.3 L878.5 564.9 L879.2 565.5 L879.9 565.9 L880.6 566.3 L881.3 566.6 L881.9 566.8 L882.6 566.9 L883.2 566.8 L883.7 566.7 L884.3 566.5 Z" stroke-width="1.75" fill="#fff"/>
<path d="M884.3 566.5 L884.7 566.2 L885.2 565.8 L885.5 565.3 L885.8 564.7 L886 564.1 L886.2 563.3 L886.3 562.5 L886.3 561.7 L886.2 560.8 L886.1 559.9 L885.8 559 L885.6 558 L885.2 557 L884.8 556.1 L884.3 555.1 L883.8 554.2 L883.3 553.4 L882.7 552.5 L882 551.8 L881.4 551.1 L880.7 550.4 L880 549.9 L879.3 549.4 L878.6 549 L877.9 548.8 L877.2 548.6 L876.6 548.5 L876 548.5 L875.4 548.6 L874.9 548.9 L874.4 549.2 L874 549.6 L873.6 550.1 L873.3 550.6 L873.1 551.3 L873 552 L872.9 552.8 L872.9 553.7 L873 554.5 L873.1 555.5 L873.3 556.4 L873.6 557.4 L873.9 558.3 L874.3 559.3 L874.8 560.2 L875.3 561.1 L875.9 562 L876.5 562.8 L877.1 563.6 L877.8 564.3 L878.5 564.9 L879.2 565.5 L879.9 565.9 L880.6 566.3 L881.3 566.6 L881.9 566.8 L882.6 566.9 L883.2 566.8 L883.7 566.7 L884.3 566.5 Z" stroke-width="1.75" fill="#fff"/>
<path d="M884 566.1 L884.5 565.8 L884.9 565.4 L885.2 564.9 L885.5 564.4 L885.7 563.7 L885.8 563.1 L885.9 562.3 L885.9 561.5 L885.9 560.7 L885.7 559.8 L885.5 558.9 L885.3 558 L884.9 557.1 L884.5 556.2 L884.1 555.3 L883.6 554.4 L883.1 553.6 L882.5 552.8 L881.9 552.1 L881.3 551.4 L880.6 550.8 L880 550.3 L879.3 549.8 L878.6 549.5 L878 549.2 L877.3 549 L876.7 549 L876.2 549 L875.6 549.1 L875.1 549.3 L872 550.9 L871.6 551.2 L871.2 551.6 L870.8 552.1 L870.6 552.6 L870.4 553.3 L870.2 554 L870.1 554.7 L870.1 555.5 L870.2 556.3 L870.3 557.2 L870.5 558.1 L870.8 559 L871.1 559.9 L871.5 560.8 L872 561.7 L872.4 562.6 L873 563.4 L873.6 564.2 L874.2 564.9 L874.8 565.6 L875.4 566.2 L876.1 566.7 L876.8 567.2 L877.4 567.5 L878.1 567.8 L878.7 568 L879.3 568 L879.9 568 L880.4 567.9 L880.9 567.7 Z" stroke-width="1.75" fill="#fff"/>
<path d="M880.9 567.7 L881.4 567.4 L881.8 567 L882.1 566.6 L882.4 566 L882.6 565.4 L882.8 564.7 L882.8 563.9 L882.8 563.1 L882.8 562.3 L882.6 561.4 L882.4 560.5 L882.2 559.6 L881.8 558.7 L881.5 557.8 L881 556.9 L880.5 556.1 L880 555.2 L879.4 554.4 L878.8 553.7 L878.2 553 L877.5 552.4 L876.9 551.9 L876.2 551.5 L875.5 551.1 L874.9 550.9 L874.3 550.7 L873.6 550.6 L873.1 550.6 L872.5 550.7 L872 550.9 L871.6 551.2 L871.2 551.6 L870.8 552.1 L870.6 552.6 L870.4 553.3 L870.2 554 L870.1 554.7 L870.1 555.5 L870.2 556.3 L870.3 557.2 L870.5 558.1 L870.8 559 L871.1 559.9 L871.5 560.8 L872 561.7 L872.4 562.6 L873 563.4 L873.6 564.2 L874.2 564.9 L874.8 565.6 L875.4 566.2 L876.1 566.7 L876.8 567.2 L877.4 567.5 L878.1 567.8 L878.7 568 L879.3 568 L879.9 568 L880.4 567.9 L880.9 567.7 Z" stroke-width="1.75" fill="#fff"/>
<path d="M880.5 566.8 L880.9 566.6 L881.2 566.2 L881.5 565.8 L881.8 565.3 L882 564.7 L882.1 564.1 L882.2 563.5 L882.2 562.7 L882.1 562 L882 561.2 L881.8 560.4 L881.6 559.6 L881.3 558.8 L880.9 558 L880.5 557.2 L880.1 556.4 L879.6 555.7 L879.1 555 L878.6 554.3 L878 553.7 L877.4 553.2 L876.8 552.7 L876.2 552.3 L875.6 552 L875.1 551.7 L874.5 551.6 L873.9 551.5 L873.4 551.5 L872.9 551.6 L872.5 551.8 L858.8 559.1 L858.4 559.4 L858.1 559.7 L857.8 560.1 L857.5 560.6 L857.3 561.2 L857.2 561.8 L857.1 562.5 L857.1 563.2 L857.2 563.9 L857.3 564.7 L857.5 565.5 L857.7 566.3 L858 567.1 L858.4 568 L858.7 568.8 L859.2 569.5 L859.7 570.3 L860.2 571 L860.7 571.6 L861.3 572.2 L861.9 572.8 L862.5 573.2 L863.1 573.6 L863.6 573.9 L864.2 574.2 L864.8 574.3 L865.3 574.4 L865.9 574.4 L866.3 574.3 L866.8 574.1 Z" stroke-width="1.75" fill="#fff"/>
<path d="M866.8 574.1 L867.2 573.8 L867.5 573.5 L867.8 573.1 L868.1 572.6 L868.3 572 L868.4 571.4 L868.5 570.7 L868.5 570 L868.4 569.3 L868.3 568.5 L868.1 567.7 L867.9 566.9 L867.6 566.1 L867.2 565.2 L866.9 564.4 L866.4 563.7 L865.9 562.9 L865.4 562.2 L864.9 561.6 L864.3 561 L863.7 560.4 L863.1 560 L862.5 559.6 L862 559.3 L861.4 559 L860.8 558.9 L860.3 558.8 L859.7 558.8 L859.3 558.9 L858.8 559.1 L858.4 559.4 L858.1 559.7 L857.8 560.1 L857.5 560.6 L857.3 561.2 L857.2 561.8 L857.1 562.5 L857.1 563.2 L857.2 563.9 L857.3 564.7 L857.5 565.5 L857.7 566.3 L858 567.1 L858.4 568 L858.7 568.8 L859.2 569.5 L859.7 570.3 L860.2 571 L860.7 571.6 L861.3 572.2 L861.9 572.8 L862.5 573.2 L863.1 573.6 L863.6 573.9 L864.2 574.2 L864.8 574.3 L865.3 574.4 L865.9 574.4 L866.3 574.3 L866.8 574.1 Z" stroke-width="1.75" fill="#fff"/>
<line x1="917.4" y1="564.6" x2="929.8" y2="558.1" stroke-width="1.29"/>
<line x1="919.2" y1="562.8" x2="931.5" y2="556.2" stroke-width="1.29"/>
<line x1="920.4" y1="560.2" x2="932.8" y2="553.6" stroke-width="1.29"/>
<line x1="921.1" y1="557" x2="933.5" y2="550.4" stroke-width="1.29"/>
<line x1="921.2" y1="553.4" x2="933.6" y2="546.8" stroke-width="1.29"/>
<line x1="920.7" y1="549.4" x2="933.1" y2="542.8" stroke-width="1.29"/>
<line x1="919.7" y1="545.2" x2="932" y2="538.6" stroke-width="1.29"/>
<line x1="918.1" y1="541" x2="930.4" y2="534.4" stroke-width="1.29"/>
<line x1="916" y1="536.9" x2="928.4" y2="530.3" stroke-width="1.29"/>
<line x1="913.6" y1="533" x2="925.9" y2="526.5" stroke-width="1.29"/>
<line x1="910.8" y1="529.6" x2="923.2" y2="523" stroke-width="1.29"/>
<line x1="907.8" y1="526.7" x2="920.2" y2="520.1" stroke-width="1.29"/>
<line x1="904.7" y1="524.4" x2="917.1" y2="517.8" stroke-width="1.29"/>
<line x1="901.7" y1="522.9" x2="914.1" y2="516.3" stroke-width="1.29"/>
<line x1="898.8" y1="522.1" x2="911.1" y2="515.5" stroke-width="1.29"/>
<line x1="896.1" y1="522.1" x2="908.4" y2="515.6" stroke-width="1.29"/>
<path d="M918.7 564.1 L919.8 563.3 L920.8 562.4 L921.6 561.2 L922.3 559.8 L922.9 558.2 L923.2 556.5 L923.4 554.6 L923.4 552.5 L923.3 550.4 L922.9 548.2 L922.4 546 L921.8 543.7 L920.9 541.3 L919.9 539.1 L918.8 536.8 L917.6 534.6 L916.2 532.5 L914.8 530.6 L913.3 528.7 L911.7 527 L910 525.5 L908.4 524.2 L906.7 523.1 L905 522.2 L903.4 521.5 L901.7 521.1 L900.2 520.9 L898.7 520.9 L897.4 521.2 L896.1 521.7" stroke-width="1.17"/>
<path d="M915 562.6 L916 561.9 L916.9 561.1 L917.7 560.1 L918.3 558.8 L918.7 557.5 L919 555.9 L919.2 554.3 L919.2 552.5 L919.1 550.7 L918.8 548.7 L918.3 546.7 L917.8 544.7 L917 542.7 L916.2 540.7 L915.2 538.7 L914.1 536.8 L912.9 535 L911.7 533.3 L910.3 531.7 L908.9 530.2 L907.5 528.9 L906 527.7 L904.6 526.7 L903.1 525.9 L901.6 525.3 L900.2 525 L898.9 524.8 L897.6 524.8 L896.4 525.1 L895.3 525.5 L894.3 526.2 L893.5 527 L892.7 528.1 L892.1 529.3 L891.6 530.7 L891.3 532.2 L891.2 533.8 L891.1 535.6 L891.3 537.5 L891.6 539.4 L892 541.4 L892.6 543.4 L893.3 545.4 L894.2 547.4 L895.2 549.4 L896.3 551.3 L897.4 553.1 L898.7 554.9 L900 556.5 L901.4 557.9 L902.9 559.3 L904.3 560.4 L905.8 561.4 L907.3 562.2 L908.7 562.8 L910.1 563.2 L911.5 563.3 L912.7 563.3 L913.9 563.1 L915 562.6 Z" stroke-width="1.29"/>
<line x1="962.2" y1="523.1" x2="981.6" y2="512.7" stroke-width="1.05"/>
<line x1="962.8" y1="521.8" x2="982.2" y2="511.5" stroke-width="1.05"/>
<line x1="963" y1="520.1" x2="982.4" y2="509.8" stroke-width="1.05"/>
<line x1="962.8" y1="518.3" x2="982.2" y2="507.9" stroke-width="1.05"/>
<line x1="962.2" y1="516.2" x2="981.6" y2="505.9" stroke-width="1.05"/>
<line x1="961.3" y1="514.2" x2="980.8" y2="503.9" stroke-width="1.05"/>
<line x1="960.2" y1="512.3" x2="979.6" y2="502" stroke-width="1.05"/>
<line x1="958.8" y1="510.7" x2="978.2" y2="500.4" stroke-width="1.05"/>
<line x1="957.3" y1="509.5" x2="976.7" y2="499.2" stroke-width="1.05"/>
<line x1="955.8" y1="508.8" x2="975.3" y2="498.5" stroke-width="1.05"/>
<line x1="954.5" y1="508.6" x2="973.9" y2="498.2" stroke-width="1.05"/>
<line x1="845.5" y1="576.6" x2="857.4" y2="570.6" stroke-width="1.75"/>
<path d="M1051.6 494.1 L1052.9 493.3 L1054 492.2 L1055 490.8 L1055.8 489.3 L1056.4 487.5 L1056.8 485.5 L1057 483.4 L1057 481.1 L1056.8 478.7 L1056.4 476.3 L1055.9 473.7 L1055.1 471.1 L1054.2 468.5 L1053.1 466 L1051.8 463.4 L1050.4 461 L1048.9 458.6 L1047.3 456.4 L1045.6 454.3 L1043.8 452.4 L1041.9 450.7 L1040 449.2 L1038.1 448 L1036.3 447 L1034.4 446.2 L1032.6 445.7 L1030.9 445.5 L1029.2 445.5 L1027.7 445.9 L1026.3 446.4 L1018.3 450.7 L1017 451.5 L1015.9 452.6 L1015 453.9 L1014.2 455.5 L1013.6 457.3 L1013.2 459.2 L1013 461.4 L1013 463.6 L1013.1 466 L1013.5 468.5 L1014.1 471.1 L1014.8 473.6 L1015.8 476.2 L1016.9 478.8 L1018.1 481.3 L1019.5 483.8 L1021 486.2 L1022.7 488.4 L1024.4 490.4 L1026.2 492.3 L1028 494.1 L1029.9 495.5 L1031.8 496.8 L1033.7 497.8 L1035.5 498.6 L1037.3 499.1 L1039.1 499.3 L1040.7 499.2 L1042.3 498.9 L1043.7 498.3 Z" stroke-width="1.75" stroke-dasharray="13 2.5 3 2.5" fill="#fff"/>
<path d="M1043.7 498.3 L1045 497.5 L1046.1 496.4 L1047 495.1 L1047.8 493.5 L1048.4 491.7 L1048.8 489.8 L1049 487.6 L1049 485.4 L1048.9 483 L1048.5 480.5 L1047.9 477.9 L1047.2 475.4 L1046.2 472.8 L1045.1 470.2 L1043.9 467.7 L1042.5 465.2 L1041 462.8 L1039.3 460.6 L1037.6 458.6 L1035.8 456.7 L1034 454.9 L1032.1 453.5 L1030.2 452.2 L1028.3 451.2 L1026.5 450.4 L1024.7 449.9 L1022.9 449.7 L1021.3 449.8 L1019.7 450.1 L1018.3 450.7 L1017 451.5 L1015.9 452.6 L1015 453.9 L1014.2 455.5 L1013.6 457.3 L1013.2 459.2 L1013 461.4 L1013 463.6 L1013.1 466 L1013.5 468.5 L1014.1 471.1 L1014.8 473.6 L1015.8 476.2 L1016.9 478.8 L1018.1 481.3 L1019.5 483.8 L1021 486.2 L1022.7 488.4 L1024.4 490.4 L1026.2 492.3 L1028 494.1 L1029.9 495.5 L1031.8 496.8 L1033.7 497.8 L1035.5 498.6 L1037.3 499.1 L1039.1 499.3 L1040.7 499.2 L1042.3 498.9 L1043.7 498.3 Z" stroke-width="1.75" stroke-dasharray="13 2.5 3 2.5" fill="#fff"/>
<path d="M1036.6 491.7 L1037.5 491.2 L1038.2 490.4 L1038.9 489.5 L1039.4 488.5 L1039.8 487.3 L1040.1 486 L1040.2 484.6 L1040.2 483.1 L1040.1 481.5 L1039.8 479.8 L1039.5 478.1 L1039 476.4 L1038.3 474.7 L1037.6 473 L1036.8 471.3 L1035.8 469.6 L1034.8 468.1 L1033.7 466.6 L1032.6 465.2 L1031.4 463.9 L1030.2 462.8 L1028.9 461.8 L1027.7 461 L1026.4 460.3 L1025.2 459.8 L1024 459.5 L1022.8 459.3 L1021.7 459.3 L1020.7 459.5 L1019.7 459.9 L1007.4 466.5 L1006.5 467.1 L1005.8 467.8 L1005.1 468.7 L1004.6 469.7 L1004.2 470.9 L1003.9 472.2 L1003.8 473.6 L1003.8 475.2 L1003.9 476.8 L1004.2 478.4 L1004.6 480.1 L1005.1 481.8 L1005.7 483.6 L1006.4 485.3 L1007.2 487 L1008.2 488.6 L1009.2 490.2 L1010.3 491.7 L1011.4 493 L1012.6 494.3 L1013.9 495.4 L1015.1 496.4 L1016.4 497.3 L1017.6 497.9 L1018.9 498.5 L1020.1 498.8 L1021.2 498.9 L1022.3 498.9 L1023.3 498.7 L1024.3 498.3 Z" stroke-width="1.75" fill="#fff"/>
<path d="M1024.3 498.3 L1025.1 497.7 L1025.9 497 L1026.5 496.1 L1027 495.1 L1027.4 493.9 L1027.7 492.6 L1027.9 491.2 L1027.9 489.6 L1027.7 488.1 L1027.5 486.4 L1027.1 484.7 L1026.6 483 L1026 481.2 L1025.2 479.5 L1024.4 477.8 L1023.5 476.2 L1022.5 474.6 L1021.4 473.2 L1020.2 471.8 L1019 470.5 L1017.8 469.4 L1016.6 468.4 L1015.3 467.5 L1014 466.9 L1012.8 466.4 L1011.6 466 L1010.4 465.9 L1009.3 465.9 L1008.3 466.1 L1007.4 466.5 L1006.5 467.1 L1005.8 467.8 L1005.1 468.7 L1004.6 469.7 L1004.2 470.9 L1003.9 472.2 L1003.8 473.6 L1003.8 475.2 L1003.9 476.8 L1004.2 478.4 L1004.6 480.1 L1005.1 481.8 L1005.7 483.6 L1006.4 485.3 L1007.2 487 L1008.2 488.6 L1009.2 490.2 L1010.3 491.7 L1011.4 493 L1012.6 494.3 L1013.9 495.4 L1015.1 496.4 L1016.4 497.3 L1017.6 497.9 L1018.9 498.5 L1020.1 498.8 L1021.2 498.9 L1022.3 498.9 L1023.3 498.7 L1024.3 498.3 Z" stroke-width="1.75" fill="#fff"/>
<path d="M1038.5 464 L1044.5 461 L1048.5 462.5 L1045.5 465.2 L1048 467" stroke-width="1.52"/>
<path d="M1040.7 469 L1046.7 466 L1050.7 467.5 L1047.7 470.2 L1050.2 472" stroke-width="1.52"/>
<path d="M1042.9 474 L1048.9 471 L1052.9 472.5 L1049.9 475.2 L1052.4 477" stroke-width="1.52"/>
<path d="M1026.8 500.9 L1027.8 500.2 L1028.7 499.4 L1029.5 498.3 L1030.1 497.1 L1030.6 495.7 L1030.9 494.1 L1031.1 492.4 L1031.1 490.6 L1030.9 488.7 L1030.6 486.7 L1030.2 484.7 L1029.6 482.6 L1028.8 480.6 L1028 478.5 L1027 476.5 L1025.9 474.5 L1024.6 472.7 L1023.3 470.9 L1022 469.2 L1020.5 467.7 L1019.1 466.4 L1017.6 465.2 L1016.1 464.2 L1014.6 463.4 L1013.1 462.8 L1011.7 462.4 L1010.3 462.2 L1009 462.2 L1007.7 462.5 L1006.6 463 L996.9 468.1 L995.9 468.8 L995 469.7 L994.2 470.7 L993.6 472 L993.1 473.4 L992.8 474.9 L992.6 476.6 L992.6 478.4 L992.8 480.4 L993.1 482.3 L993.5 484.4 L994.1 486.4 L994.9 488.5 L995.8 490.5 L996.7 492.6 L997.9 494.5 L999.1 496.4 L1000.4 498.1 L1001.7 499.8 L1003.2 501.3 L1004.6 502.7 L1006.1 503.9 L1007.6 504.9 L1009.1 505.7 L1010.6 506.3 L1012.1 506.7 L1013.4 506.8 L1014.7 506.8 L1016 506.5 L1017.1 506.1 Z" stroke-width="1.75" fill="#fff"/>
<path d="M1017.1 506.1 L1018.1 505.4 L1019 504.5 L1019.8 503.5 L1020.4 502.2 L1020.9 500.8 L1021.2 499.3 L1021.4 497.6 L1021.4 495.8 L1021.2 493.8 L1020.9 491.9 L1020.5 489.8 L1019.9 487.8 L1019.1 485.7 L1018.2 483.7 L1017.3 481.6 L1016.1 479.7 L1014.9 477.8 L1013.6 476.1 L1012.3 474.4 L1010.8 472.9 L1009.4 471.5 L1007.9 470.3 L1006.4 469.3 L1004.9 468.5 L1003.4 467.9 L1001.9 467.5 L1000.6 467.4 L999.3 467.4 L998 467.7 L996.9 468.1 L995.9 468.8 L995 469.7 L994.2 470.7 L993.6 472 L993.1 473.4 L992.8 474.9 L992.6 476.6 L992.6 478.4 L992.8 480.4 L993.1 482.3 L993.5 484.4 L994.1 486.4 L994.9 488.5 L995.8 490.5 L996.7 492.6 L997.9 494.5 L999.1 496.4 L1000.4 498.1 L1001.7 499.8 L1003.2 501.3 L1004.6 502.7 L1006.1 503.9 L1007.6 504.9 L1009.1 505.7 L1010.6 506.3 L1012.1 506.7 L1013.4 506.8 L1014.7 506.8 L1016 506.5 L1017.1 506.1 Z" stroke-width="1.75" fill="#fff"/>
<path d="M1015.7 503.4 L1016.6 502.9 L1017.3 502.1 L1018 501.2 L1018.5 500.1 L1018.9 498.9 L1019.2 497.6 L1019.4 496.1 L1019.4 494.5 L1019.2 492.9 L1019 491.2 L1018.6 489.5 L1018.1 487.7 L1017.4 485.9 L1016.7 484.1 L1015.8 482.4 L1014.9 480.7 L1013.8 479.1 L1012.7 477.6 L1011.5 476.2 L1010.3 474.9 L1009 473.7 L1007.7 472.7 L1006.4 471.8 L1005.2 471.1 L1003.9 470.6 L1002.7 470.3 L1001.5 470.1 L1000.3 470.1 L999.3 470.4 L998.3 470.8 L997.4 471.3 L996.7 472.1 L996 473 L995.5 474.1 L995.1 475.3 L994.8 476.6 L994.6 478.1 L994.6 479.7 L994.8 481.3 L995 483 L995.4 484.7 L995.9 486.5 L996.6 488.3 L997.3 490.1 L998.2 491.8 L999.1 493.5 L1000.2 495.1 L1001.3 496.6 L1002.5 498 L1003.7 499.3 L1005 500.5 L1006.3 501.5 L1007.6 502.4 L1008.8 503.1 L1010.1 503.6 L1011.3 503.9 L1012.5 504.1 L1013.7 504.1 L1014.7 503.8 L1015.7 503.4 Z" stroke-width="1.29"/>
<path d="M1013.3 499 L1014 498.6 L1014.5 498 L1015 497.4 L1015.4 496.6 L1015.7 495.7 L1015.9 494.7 L1016 493.7 L1016 492.5 L1015.9 491.3 L1015.7 490.1 L1015.5 488.8 L1015.1 487.5 L1014.6 486.2 L1014.1 484.9 L1013.4 483.7 L1012.7 482.5 L1012 481.3 L1011.2 480.2 L1010.3 479.1 L1009.4 478.2 L1008.5 477.3 L1007.5 476.6 L1006.6 476 L1005.7 475.4 L1004.7 475.1 L1003.8 474.8 L1003 474.7 L1002.1 474.7 L1001.4 474.9 L1000.7 475.2 L1000 475.6 L999.5 476.2 L999 476.8 L998.6 477.6 L998.3 478.5 L998.1 479.5 L998 480.5 L998 481.7 L998.1 482.9 L998.3 484.1 L998.5 485.4 L998.9 486.7 L999.4 488 L999.9 489.3 L1000.6 490.5 L1001.3 491.7 L1002 492.9 L1002.8 494 L1003.7 495.1 L1004.6 496 L1005.5 496.9 L1006.5 497.6 L1007.4 498.2 L1008.3 498.8 L1009.3 499.1 L1010.2 499.4 L1011 499.5 L1011.9 499.5 L1012.6 499.3 L1013.3 499 Z" stroke-width="1.75"/>
<path d="M1004.5 473.7 L1004.1 474.4 L1003.7 475.2 L1003.5 476.2 L1003.3 477.2 L1003.3 478.3 L1003.3 479.4 L1003.4 480.7 L1003.7 481.9 L1004 483.2 L1004.4 484.5 L1004.9 485.8 L1005.5 487.1 L1006.2 488.3 L1006.9 489.5 L1007.7 490.7 L1008.6 491.7 L1009.4 492.7 L1010.4 493.6 L1011.3 494.4 L1012.2 495.1 L1013.2 495.7 L1014.1 496.1 L1015 496.5 L1015.9 496.6 L1016.8 496.7" stroke-width="1.29"/>
<line x1="1020.5" y1="503.9" x2="1027.1" y2="500.4" stroke-width="1.17"/>
<line x1="1022.2" y1="501.3" x2="1028.8" y2="497.8" stroke-width="1.17"/>
<line x1="1023" y1="497.8" x2="1029.7" y2="494.2" stroke-width="1.17"/>
<line x1="1023.1" y1="493.6" x2="1029.7" y2="490" stroke-width="1.17"/>
<line x1="1022.2" y1="488.9" x2="1028.9" y2="485.4" stroke-width="1.17"/>
<line x1="1020.6" y1="484.1" x2="1027.2" y2="480.6" stroke-width="1.17"/>
<line x1="1018.3" y1="479.4" x2="1024.9" y2="475.9" stroke-width="1.17"/>
<line x1="1015.4" y1="475.1" x2="1022" y2="471.6" stroke-width="1.17"/>
<line x1="1012.1" y1="471.5" x2="1018.7" y2="468" stroke-width="1.17"/>
<line x1="1008.6" y1="468.7" x2="1015.2" y2="465.2" stroke-width="1.17"/>
<line x1="1005.2" y1="467" x2="1011.8" y2="463.5" stroke-width="1.17"/>
<line x1="1001.9" y1="466.4" x2="1008.5" y2="462.9" stroke-width="1.17"/>
<line x1="999" y1="467" x2="1005.7" y2="463.5" stroke-width="1.17"/>
<path d="M1018.9 505.1 L1019.9 504.5 L1020.8 503.6 L1021.5 502.5 L1022.2 501.3 L1022.6 499.9 L1023 498.3 L1023.1 496.6 L1023.1 494.8 L1023 492.9 L1022.7 490.9 L1022.2 488.9 L1021.6 486.8 L1020.9 484.8 L1020 482.7 L1019 480.7 L1017.9 478.8 L1016.7 476.9 L1015.4 475.1 L1014 473.5 L1012.6 471.9 L1011.1 470.6 L1009.6 469.4 L1008.1 468.4 L1006.6 467.6 L1005.2 467 L1003.7 466.6 L1002.3 466.4 L1001 466.5 L999.8 466.7 L998.7 467.2" stroke-width="1.17"/>
<path d="M1025.5 501.6 L1026.5 500.9 L1027.4 500.1 L1028.2 499 L1028.8 497.8 L1029.3 496.4 L1029.6 494.8 L1029.7 493.1 L1029.8 491.3 L1029.6 489.4 L1029.3 487.4 L1028.9 485.4 L1028.3 483.3 L1027.5 481.3 L1026.6 479.2 L1025.6 477.2 L1024.5 475.2 L1023.3 473.4 L1022 471.6 L1020.6 469.9 L1019.2 468.4 L1017.7 467.1 L1016.3 465.9 L1014.7 464.9 L1013.2 464.1 L1011.8 463.5 L1010.3 463.1 L1009 462.9 L1007.6 462.9 L1006.4 463.2 L1005.3 463.7" stroke-width="1.17"/>
<line x1="983.5" y1="502.8" x2="1005" y2="491.4" stroke-width="1.75"/>
<line x1="1054.1" y1="465.8" x2="1061" y2="461.6" stroke-width="1.75"/>
<path d="M1083.8 464.6 L1084.5 464.1 L1085.1 463.6 L1085.7 462.9 L1086.1 462.1 L1086.4 461.2 L1086.7 460.1 L1086.8 459.1 L1086.9 457.9 L1086.8 456.7 L1086.7 455.4 L1086.4 454.2 L1086 452.9 L1085.6 451.5 L1085 450.3 L1084.4 449 L1083.7 447.8 L1082.9 446.6 L1082.1 445.5 L1081.2 444.5 L1080.3 443.5 L1079.4 442.7 L1078.4 442 L1077.4 441.3 L1076.4 440.9 L1075.5 440.5 L1074.5 440.3 L1073.6 440.2 L1072.7 440.2 L1071.9 440.4 L1071.2 440.7 L1060.6 446.4 L1059.9 446.8 L1059.3 447.4 L1058.7 448.1 L1058.3 448.9 L1058 449.8 L1057.7 450.8 L1057.6 451.9 L1057.5 453.1 L1057.6 454.3 L1057.7 455.5 L1058 456.8 L1058.4 458.1 L1058.8 459.4 L1059.4 460.7 L1060 462 L1060.7 463.2 L1061.5 464.4 L1062.3 465.5 L1063.2 466.5 L1064.1 467.4 L1065 468.3 L1066 469 L1067 469.6 L1068 470.1 L1068.9 470.5 L1069.9 470.7 L1070.8 470.8 L1071.7 470.7 L1072.5 470.5 L1073.2 470.2 Z" stroke-width="1.75" fill="#fff"/>
<path d="M1073.2 470.2 L1073.9 469.8 L1074.5 469.2 L1075.1 468.5 L1075.5 467.7 L1075.8 466.8 L1076.1 465.8 L1076.2 464.7 L1076.3 463.5 L1076.2 462.3 L1076.1 461.1 L1075.8 459.8 L1075.4 458.5 L1075 457.2 L1074.4 455.9 L1073.8 454.6 L1073.1 453.4 L1072.3 452.2 L1071.5 451.1 L1070.6 450.1 L1069.7 449.2 L1068.8 448.3 L1067.8 447.6 L1066.8 447 L1065.8 446.5 L1064.9 446.1 L1063.9 445.9 L1063 445.8 L1062.1 445.9 L1061.3 446.1 L1060.6 446.4 L1059.9 446.8 L1059.3 447.4 L1058.7 448.1 L1058.3 448.9 L1058 449.8 L1057.7 450.8 L1057.6 451.9 L1057.5 453.1 L1057.6 454.3 L1057.7 455.5 L1058 456.8 L1058.4 458.1 L1058.8 459.4 L1059.4 460.7 L1060 462 L1060.7 463.2 L1061.5 464.4 L1062.3 465.5 L1063.2 466.5 L1064.1 467.4 L1065 468.3 L1066 469 L1067 469.6 L1068 470.1 L1068.9 470.5 L1069.9 470.7 L1070.8 470.8 L1071.7 470.7 L1072.5 470.5 L1073.2 470.2 Z" stroke-width="1.75" fill="#fff"/>
<path d="M1072.5 468.8 L1073.1 468.4 L1073.6 467.9 L1074.1 467.3 L1074.5 466.6 L1074.8 465.8 L1075 464.9 L1075.1 463.9 L1075.2 462.9 L1075.1 461.9 L1075 460.7 L1074.7 459.6 L1074.4 458.5 L1074 457.3 L1073.5 456.2 L1073 455.1 L1072.4 454 L1071.7 452.9 L1071 452 L1070.2 451.1 L1069.4 450.2 L1068.5 449.5 L1067.7 448.9 L1066.8 448.3 L1066 447.9 L1065.1 447.6 L1064.3 447.4 L1063.5 447.3 L1062.7 447.3 L1062 447.5 L1061.3 447.8 L1060.7 448.2 L1060.2 448.7 L1059.7 449.3 L1059.3 450 L1059 450.8 L1058.8 451.7 L1058.7 452.7 L1058.6 453.7 L1058.7 454.7 L1058.8 455.9 L1059.1 457 L1059.4 458.1 L1059.8 459.3 L1060.3 460.4 L1060.8 461.5 L1061.4 462.6 L1062.1 463.7 L1062.8 464.6 L1063.6 465.5 L1064.4 466.4 L1065.3 467.1 L1066.1 467.7 L1067 468.3 L1067.8 468.7 L1068.7 469 L1069.5 469.2 L1070.3 469.3 L1071.1 469.3 L1071.8 469.1 L1072.5 468.8 Z" stroke-width="1.29"/>
<path d="M1071.5 466.9 L1071.9 466.5 L1072.4 466.1 L1072.8 465.6 L1073.1 465 L1073.3 464.4 L1073.5 463.7 L1073.6 462.9 L1073.6 462.1 L1073.6 461.2 L1073.5 460.3 L1073.3 459.4 L1073 458.4 L1072.7 457.5 L1072.3 456.6 L1071.9 455.7 L1071.4 454.8 L1070.8 453.9 L1070.2 453.1 L1069.6 452.4 L1068.9 451.7 L1068.2 451.1 L1067.5 450.6 L1066.8 450.2 L1066.1 449.8 L1065.4 449.6 L1064.8 449.4 L1064.1 449.3 L1063.5 449.4 L1062.9 449.5 L1062.3 449.7 L1061.9 450.1 L1061.4 450.5 L1061 451 L1060.7 451.6 L1060.5 452.2 L1060.3 452.9 L1060.2 453.7 L1060.2 454.5 L1060.2 455.4 L1060.3 456.3 L1060.5 457.2 L1060.8 458.2 L1061.1 459.1 L1061.5 460 L1061.9 460.9 L1062.4 461.8 L1063 462.7 L1063.6 463.5 L1064.2 464.2 L1064.9 464.9 L1065.6 465.5 L1066.3 466 L1067 466.4 L1067.7 466.8 L1068.4 467 L1069 467.2 L1069.7 467.3 L1070.3 467.2 L1070.9 467.1 L1071.5 466.9 Z" stroke-width="1.4"/>
<line x1="1075.9" y1="468.3" x2="1084.5" y2="463.7" stroke-width="1.29"/>
<line x1="1077.1" y1="465.6" x2="1085.7" y2="461" stroke-width="1.29"/>
<line x1="1077.3" y1="462" x2="1085.9" y2="457.4" stroke-width="1.29"/>
<line x1="1076.5" y1="457.9" x2="1085.1" y2="453.3" stroke-width="1.29"/>
<line x1="1074.8" y1="453.9" x2="1083.4" y2="449.3" stroke-width="1.29"/>
<line x1="1072.3" y1="450.2" x2="1080.9" y2="445.6" stroke-width="1.29"/>
<line x1="1069.3" y1="447.4" x2="1078" y2="442.8" stroke-width="1.29"/>
<line x1="1066.2" y1="445.7" x2="1074.9" y2="441.1" stroke-width="1.29"/>
<line x1="1063.3" y1="445.3" x2="1072" y2="440.7" stroke-width="1.29"/>
<line x1="1060.9" y1="451.2" x2="1066.2" y2="448.3" stroke-width="1.17"/>
<line x1="1060.2" y1="454" x2="1065.5" y2="451.2" stroke-width="1.17"/>
<line x1="1060.6" y1="457.5" x2="1065.9" y2="454.7" stroke-width="1.17"/>
<line x1="1062.1" y1="461.2" x2="1067.4" y2="458.4" stroke-width="1.17"/>
<line x1="1064.4" y1="464.4" x2="1069.7" y2="461.6" stroke-width="1.17"/>
<line x1="1067.2" y1="466.6" x2="1072.5" y2="463.7" stroke-width="1.17"/>
<line x1="1069.9" y1="467.3" x2="1075.2" y2="464.4" stroke-width="1.17"/>
<path d="M1121.4 443.5 L1122.1 443 L1122.7 442.5 L1123.3 441.8 L1123.7 441 L1124 440.1 L1124.3 439 L1124.4 438 L1124.5 436.8 L1124.4 435.6 L1124.3 434.3 L1124 433.1 L1123.6 431.8 L1123.2 430.4 L1122.6 429.2 L1122 427.9 L1121.3 426.7 L1120.5 425.5 L1119.7 424.4 L1118.8 423.4 L1117.9 422.4 L1117 421.6 L1116 420.9 L1115 420.2 L1114 419.8 L1113.1 419.4 L1112.1 419.2 L1111.2 419.1 L1110.3 419.1 L1109.5 419.3 L1108.8 419.6 L1098.2 425.3 L1097.5 425.7 L1096.9 426.3 L1096.3 427 L1095.9 427.8 L1095.6 428.7 L1095.3 429.7 L1095.2 430.8 L1095.1 432 L1095.2 433.2 L1095.3 434.4 L1095.6 435.7 L1096 437 L1096.4 438.3 L1097 439.6 L1097.6 440.9 L1098.3 442.1 L1099.1 443.3 L1099.9 444.4 L1100.8 445.4 L1101.7 446.3 L1102.6 447.2 L1103.6 447.9 L1104.6 448.5 L1105.6 449 L1106.5 449.4 L1107.5 449.6 L1108.4 449.7 L1109.3 449.6 L1110.1 449.4 L1110.8 449.1 Z" stroke-width="1.75" fill="#fff"/>
<path d="M1110.8 449.1 L1111.5 448.7 L1112.1 448.1 L1112.7 447.4 L1113.1 446.6 L1113.4 445.7 L1113.7 444.7 L1113.8 443.6 L1113.9 442.4 L1113.8 441.2 L1113.7 440 L1113.4 438.7 L1113 437.4 L1112.6 436.1 L1112 434.8 L1111.4 433.5 L1110.7 432.3 L1109.9 431.1 L1109.1 430 L1108.2 429 L1107.3 428.1 L1106.4 427.2 L1105.4 426.5 L1104.4 425.9 L1103.4 425.4 L1102.5 425 L1101.5 424.8 L1100.6 424.7 L1099.7 424.8 L1098.9 425 L1098.2 425.3 L1097.5 425.7 L1096.9 426.3 L1096.3 427 L1095.9 427.8 L1095.6 428.7 L1095.3 429.7 L1095.2 430.8 L1095.1 432 L1095.2 433.2 L1095.3 434.4 L1095.6 435.7 L1096 437 L1096.4 438.3 L1097 439.6 L1097.6 440.9 L1098.3 442.1 L1099.1 443.3 L1099.9 444.4 L1100.8 445.4 L1101.7 446.3 L1102.6 447.2 L1103.6 447.9 L1104.6 448.5 L1105.6 449 L1106.5 449.4 L1107.5 449.6 L1108.4 449.7 L1109.3 449.6 L1110.1 449.4 L1110.8 449.1 Z" stroke-width="1.75" fill="#fff"/>
<path d="M1110.1 447.7 L1110.7 447.3 L1111.2 446.8 L1111.7 446.2 L1112.1 445.5 L1112.4 444.7 L1112.6 443.8 L1112.7 442.8 L1112.8 441.8 L1112.7 440.8 L1112.6 439.6 L1112.3 438.5 L1112 437.4 L1111.6 436.2 L1111.1 435.1 L1110.6 434 L1110 432.9 L1109.3 431.8 L1108.6 430.9 L1107.8 430 L1107 429.1 L1106.1 428.4 L1105.3 427.8 L1104.4 427.2 L1103.6 426.8 L1102.7 426.5 L1101.9 426.3 L1101.1 426.2 L1100.3 426.2 L1099.6 426.4 L1098.9 426.7 L1098.3 427.1 L1097.8 427.6 L1097.3 428.2 L1096.9 428.9 L1096.6 429.7 L1096.4 430.6 L1096.3 431.6 L1096.2 432.6 L1096.3 433.6 L1096.4 434.8 L1096.7 435.9 L1097 437 L1097.4 438.2 L1097.9 439.3 L1098.4 440.4 L1099 441.5 L1099.7 442.6 L1100.4 443.5 L1101.2 444.4 L1102 445.3 L1102.9 446 L1103.7 446.6 L1104.6 447.2 L1105.4 447.6 L1106.3 447.9 L1107.1 448.1 L1107.9 448.2 L1108.7 448.2 L1109.4 448 L1110.1 447.7 Z" stroke-width="1.29"/>
<path d="M1109.1 445.8 L1109.5 445.4 L1110 445 L1110.4 444.5 L1110.7 443.9 L1110.9 443.3 L1111.1 442.6 L1111.2 441.8 L1111.2 441 L1111.2 440.1 L1111.1 439.2 L1110.9 438.3 L1110.6 437.3 L1110.3 436.4 L1109.9 435.5 L1109.5 434.6 L1109 433.7 L1108.4 432.8 L1107.8 432 L1107.2 431.3 L1106.5 430.6 L1105.8 430 L1105.1 429.5 L1104.4 429.1 L1103.7 428.7 L1103 428.5 L1102.4 428.3 L1101.7 428.2 L1101.1 428.3 L1100.5 428.4 L1099.9 428.6 L1099.5 429 L1099 429.4 L1098.6 429.9 L1098.3 430.5 L1098.1 431.1 L1097.9 431.8 L1097.8 432.6 L1097.8 433.4 L1097.8 434.3 L1097.9 435.2 L1098.1 436.1 L1098.4 437.1 L1098.7 438 L1099.1 438.9 L1099.5 439.8 L1100 440.7 L1100.6 441.6 L1101.2 442.4 L1101.8 443.1 L1102.5 443.8 L1103.2 444.4 L1103.9 444.9 L1104.6 445.3 L1105.3 445.7 L1106 445.9 L1106.6 446.1 L1107.3 446.2 L1107.9 446.1 L1108.5 446 L1109.1 445.8 Z" stroke-width="1.4"/>
<line x1="1113.5" y1="447.2" x2="1122.1" y2="442.6" stroke-width="1.29"/>
<line x1="1114.7" y1="444.5" x2="1123.3" y2="439.9" stroke-width="1.29"/>
<line x1="1114.9" y1="440.9" x2="1123.5" y2="436.3" stroke-width="1.29"/>
<line x1="1114.1" y1="436.8" x2="1122.7" y2="432.2" stroke-width="1.29"/>
<line x1="1112.4" y1="432.8" x2="1121" y2="428.2" stroke-width="1.29"/>
<line x1="1109.9" y1="429.1" x2="1118.5" y2="424.5" stroke-width="1.29"/>
<line x1="1106.9" y1="426.3" x2="1115.6" y2="421.7" stroke-width="1.29"/>
<line x1="1103.8" y1="424.6" x2="1112.5" y2="420" stroke-width="1.29"/>
<line x1="1100.9" y1="424.2" x2="1109.6" y2="419.6" stroke-width="1.29"/>
<line x1="1098.5" y1="430.1" x2="1103.8" y2="427.2" stroke-width="1.17"/>
<line x1="1097.8" y1="432.9" x2="1103.1" y2="430.1" stroke-width="1.17"/>
<line x1="1098.2" y1="436.4" x2="1103.5" y2="433.6" stroke-width="1.17"/>
<line x1="1099.7" y1="440.1" x2="1105" y2="437.3" stroke-width="1.17"/>
<line x1="1102" y1="443.3" x2="1107.3" y2="440.5" stroke-width="1.17"/>
<line x1="1104.8" y1="445.5" x2="1110.1" y2="442.6" stroke-width="1.17"/>
<line x1="1107.5" y1="446.2" x2="1112.8" y2="443.3" stroke-width="1.17"/>
<line x1="1091" y1="446.2" x2="1097.7" y2="442.5" stroke-width="1.75"/>
<path d="M1159.4 430.3 L1160.5 429.6 L1161.6 428.6 L1162.6 427.6 L1163.4 426.3 L1164.1 425 L1164.6 423.5 L1165 421.9 L1165.2 420.2 L1165.3 418.5 L1165.2 416.7 L1164.9 414.9 L1164.5 413.1 L1164 411.2 L1163.3 409.4 L1162.4 407.7 L1161.5 406 L1160.4 404.4 L1159.2 403 L1157.9 401.6 L1156.5 400.4 L1155.1 399.3 L1153.6 398.4 L1152.1 397.6 L1150.6 397.1 L1149 396.7 L1147.5 396.5 L1146 396.5 L1144.6 396.7 L1143.3 397.1 L1142 397.6 L1140.2 398.6 L1139 399.3 L1138 400.2 L1137 401.3 L1136.2 402.5 L1135.5 403.9 L1135 405.4 L1134.6 406.9 L1134.3 408.6 L1134.3 410.4 L1134.4 412.1 L1134.6 414 L1135 415.8 L1135.6 417.6 L1136.3 419.4 L1137.1 421.2 L1138.1 422.8 L1139.2 424.4 L1140.4 425.9 L1141.7 427.3 L1143.1 428.5 L1144.5 429.6 L1146 430.5 L1147.5 431.2 L1149 431.8 L1150.5 432.2 L1152.1 432.4 L1153.5 432.4 L1155 432.2 L1156.3 431.8 L1157.6 431.2 Z" stroke-width="1.75" fill="#fff"/>
<path d="M1157.6 431.2 L1158.8 430.5 L1159.8 429.6 L1160.8 428.5 L1161.6 427.3 L1162.3 425.9 L1162.8 424.4 L1163.2 422.9 L1163.5 421.2 L1163.5 419.4 L1163.4 417.7 L1163.2 415.8 L1162.8 414 L1162.2 412.2 L1161.5 410.4 L1160.7 408.6 L1159.7 407 L1158.6 405.4 L1157.4 403.9 L1156.1 402.5 L1154.7 401.3 L1153.3 400.2 L1151.8 399.3 L1150.3 398.6 L1148.8 398 L1147.3 397.6 L1145.7 397.4 L1144.3 397.4 L1142.8 397.6 L1141.5 398 L1140.2 398.6 L1139 399.3 L1138 400.2 L1137 401.3 L1136.2 402.5 L1135.5 403.9 L1135 405.4 L1134.6 406.9 L1134.3 408.6 L1134.3 410.4 L1134.4 412.1 L1134.6 414 L1135 415.8 L1135.6 417.6 L1136.3 419.4 L1137.1 421.2 L1138.1 422.8 L1139.2 424.4 L1140.4 425.9 L1141.7 427.3 L1143.1 428.5 L1144.5 429.6 L1146 430.5 L1147.5 431.2 L1149 431.8 L1150.5 432.2 L1152.1 432.4 L1153.5 432.4 L1155 432.2 L1156.3 431.8 L1157.6 431.2 Z" stroke-width="1.75" fill="#fff"/>
<path d="M1152.9 422.4 L1153.4 422.1 L1153.9 421.6 L1154.4 421.1 L1154.7 420.6 L1155.1 420 L1155.3 419.3 L1155.5 418.6 L1155.6 417.8 L1155.6 417 L1155.6 416.2 L1155.5 415.3 L1155.3 414.5 L1155 413.7 L1154.7 412.8 L1154.3 412 L1153.9 411.3 L1153.4 410.5 L1152.8 409.8 L1152.2 409.2 L1151.6 408.7 L1150.9 408.2 L1150.2 407.7 L1149.6 407.4 L1148.8 407.1 L1148.1 407 L1147.5 406.9 L1146.8 406.9 L1146.1 407 L1145.5 407.1 L1144.9 407.4 L1144.4 407.7 L1143.9 408.2 L1143.4 408.7 L1143.1 409.2 L1142.7 409.8 L1142.5 410.5 L1142.3 411.2 L1142.2 412 L1142.2 412.8 L1142.2 413.6 L1142.3 414.5 L1142.5 415.3 L1142.8 416.1 L1143.1 417 L1143.5 417.8 L1143.9 418.5 L1144.4 419.3 L1145 420 L1145.6 420.6 L1146.2 421.1 L1146.9 421.6 L1147.6 422.1 L1148.2 422.4 L1149 422.7 L1149.7 422.8 L1150.3 422.9 L1151 422.9 L1151.7 422.8 L1152.3 422.7 L1152.9 422.4 Z" stroke-width="1.75"/>
<path d="M1145.1 407.9 L1144.7 408.5 L1144.4 409.1 L1144.2 409.8 L1144 410.6 L1144 411.4 L1144 412.2 L1144 413.1 L1144.2 413.9 L1144.4 414.8 L1144.7 415.6 L1145.1 416.4 L1145.5 417.2 L1146 418 L1146.5 418.7 L1147.1 419.4 L1147.7 420 L1148.4 420.5 L1149 421 L1149.7 421.3 L1150.5 421.6 L1151.2 421.8 L1151.9 422 L1152.6 422" stroke-width="1.29"/>
<line x1="1153.5" y1="410.8" x2="1159" y2="405.9" stroke-width="1.29"/>
<line x1="1152.2" y1="409.2" x2="1157.6" y2="404.1" stroke-width="1.29"/>
<line x1="1144" y1="408" x2="1138.3" y2="399.9" stroke-width="1.29"/>
<line x1="1143.1" y1="409.2" x2="1137.2" y2="401.1" stroke-width="1.29"/>
<line x1="1144.3" y1="419" x2="1138.8" y2="423.9" stroke-width="1.29"/>
<line x1="1145.6" y1="420.6" x2="1140.2" y2="425.7" stroke-width="1.29"/>
<line x1="1153.8" y1="421.8" x2="1159.5" y2="429.9" stroke-width="1.29"/>
<line x1="1154.7" y1="420.6" x2="1160.6" y2="428.7" stroke-width="1.29"/>
<line x1="1127.5" y1="425.9" x2="1136.1" y2="421.4" stroke-width="1.75"/>
<path d="M480.7 241.2 C480.6 236.9 479.5 223.7 480.2 215.3 C480.8 206.9 482.6 198.8 484.5 190.9 C486.4 182.9 488.3 175.5 491.7 167.8 C495 160.1 499.6 150.8 504.6 144.8 C509.7 138.8 515.9 135 521.9 131.8 C527.9 128.6 535 126.9 540.6 125.5 C546.2 124.1 553.1 123.6 555.6 123.2" stroke-width="1.64" stroke-dasharray="9 2 2 2 2 2"/>
<path d="M555.6 123.2 C555.6 121.5 555.3 115.8 555.9 113.1 C556.5 110.4 557.5 108.1 559.3 106.8 C561.2 105.5 564.6 104.9 567.1 105.3 C569.7 105.8 571.7 107.5 574.6 109.4 C577.5 111.2 582.8 115.1 584.4 116.3" stroke-width="1.64"/>
<path d="M574.6 109.4 C578.1 111.2 589.9 117.5 595.3 120.3 C600.8 123.1 603.8 125.6 607.4 126.1 C611 126.5 615.3 123.7 616.9 123.2" stroke-width="1.64"/>
<path d="M586.7 114 C590.5 114.3 602 115.1 609.7 115.7 C617.4 116.3 626.3 116.3 632.8 117.4 C639.2 118.6 643.3 120.5 648.6 122.6 C653.9 124.7 659.4 126.5 664.4 130.1 C669.5 133.7 676.4 141.6 678.8 143.9" stroke-width="1.64" stroke-dasharray="9 2 2 2 2 2"/>
<path d="M488.8 209.6 C489.2 204.8 489.2 189.3 491.1 180.8 C493 172.2 496.1 164.7 500.3 158.3 C504.5 151.9 511.4 146.1 516.1 142.5 C520.9 138.9 526.5 137.7 528.5 136.7" stroke-width="1.64"/>
<path d="M528.5 136.7 C528.7 138.4 530.9 151.4 530 153.4 C529 155.5 521.3 156.2 519 157.2 C516.8 158.2 509.1 163.1 507.5 163.5 C505.9 163.9 504.1 160 503.2 161.2 C502.2 162.3 498.8 171.6 498 175 C497.2 178.4 495.2 191.6 495.1 195.2 C495 198.8 495.9 209 496.9 211 C497.8 213 503.6 214.3 504.6 215.3 C505.7 216.3 507.2 220.5 507.5 221.1" stroke-width="1.64"/>
<path d="M509.5 215.3 C509.7 212 509.8 201.9 510.4 195.2 C511 188.5 511.8 180.8 513.3 175 C514.7 169.3 516.4 164.6 519 160.6 C521.7 156.7 525 153.9 529.1 151.4 C533.2 148.9 538.9 146.9 543.5 145.6 C548.1 144.4 554.1 145 556.5 143.9 C558.9 142.8 555.5 140.1 557.9 139 C560.3 138 566.5 137.1 570.9 137.6 C575.2 138.1 579.3 140 583.8 141.9 C588.4 143.8 593.9 145.7 598.2 149.1 C602.5 152.5 606.5 159.2 609.7 162.1 C613 164.9 613.9 164.2 617.8 166.4 C621.6 168.5 628.3 170.7 632.8 175 C637.2 179.3 641.2 187.5 644.3 192.3 C647.4 197.1 649.2 199.7 651.5 203.8 C653.8 207.9 656.4 211.5 658.1 216.8 C659.8 222 661.5 229.5 661.6 235.5 C661.7 241.5 659.5 245.6 658.7 252.8 C657.8 260 656.8 274.4 656.4 278.7" stroke-width="1.64"/>
<path d="M506.1 241.2 C506 236.4 505.1 223 505.5 212.5 C505.9 201.9 506.5 187.1 508.4 177.9 C510.3 168.7 513.1 162.5 517 157.2 C520.9 151.8 525.6 148.6 532 145.6 C538.3 142.7 551.2 140.6 555 139.6" stroke-width="1.64" stroke-dasharray="9 2 2 2 2 2"/>
<path d="M530 136.7 C532.7 135.4 541.5 130.7 546.4 128.9 C551.3 127.2 554.5 126.2 559.3 126.1 C564.1 126 568.7 127.3 575.2 128.4 C581.7 129.5 592.8 133.1 598.2 132.7 C603.6 132.3 605.9 127.2 607.4 126.1" stroke-width="1.64"/>
<path d="M559.3 140.5 C562.9 140 573.5 136.9 580.9 137.6 C588.4 138.3 597.2 140.7 604 144.8 C610.7 148.9 614.5 157.5 621.2 162.1 C628 166.6 638 166.6 644.3 172.1 C650.5 177.7 654.8 188 658.7 195.2 C662.5 202.4 665.9 212 667.3 215.3" stroke-width="1.64" stroke-dasharray="9 2 2 2 2 2"/>
<path d="M608.3 136.1 C612.4 139.5 626.5 151.3 632.8 156.3 C639 161.3 642.8 161.8 645.7 166.4 C648.6 170.9 646.4 177.9 650 183.7 C653.6 189.4 661.6 194.2 667.3 200.9 C673.1 207.7 679.3 217.2 684.6 224 C689.9 230.7 694.7 234.5 699 241.2 C703.3 248 707.6 256.6 710.5 264.3 C713.4 272 715.3 283.5 716.3 287.3" stroke-width="1.64"/>
<path d="M616.9 133.3 C621.5 136.9 638 149.3 644.3 154.9 C650.5 160.4 652.4 162.1 654.4 166.4 C656.3 170.7 652.7 175.5 655.8 180.8 C658.9 186.1 667.3 191.3 673.1 198.1 C678.8 204.8 685.1 213.9 690.3 221.1 C695.6 228.3 700.7 234 704.7 241.2 C708.8 248.4 712.3 257.6 714.8 264.3 C717.4 271 719.1 278.7 720 281.6" stroke-width="1.64"/>
<path d="M608.3 136.1 C609.2 135.8 618.5 131.4 621.2 131.3 C624 131.1 647.4 132.8 650 133.3 C652.7 133.7 661.7 136.8 661.6 137.6 C661.4 138.4 648.1 144.3 647.2 144.8" stroke-width="1.64"/>
<path d="M621.2 139 C624.1 141.2 634 147.4 638.5 152 C643.1 156.5 646.9 164 648.6 166.4" stroke-width="1.64" stroke-dasharray="9 2 2 2 2 2"/>
<path d="M647.2 144.8 L690.3 180.8 L692.7 187.1 L691.8 215.3 L687.5 229.7" stroke-width="1.64"/>
<path d="M661.6 137.6 L678.8 150.5 L690.3 163.5" stroke-width="1.64" stroke-dasharray="9 2 2 2 2 2"/>
<path d="M658.7 175 C661.1 176.9 667.8 183.9 673.1 186.5 C678.4 189.2 687.1 190.8 690.3 190.9 C693.6 191 692.3 187.7 692.7 187.1" stroke-width="1.64"/>
<path d="M678.8 212.5 C680.3 213.9 685.5 218.2 687.5 221.1 C689.4 224 690.8 228.5 690.3 229.7 C689.9 230.9 685.5 228.5 684.6 228.3" stroke-width="1.64"/>
<path d="M488.8 209.6 C488.6 211.9 488.4 226 487.4 229.7 C486.3 233.4 480.8 238.6 480.2 241.2 C479.5 243.9 480.6 250.1 481.6 252.8 C482.6 255.4 487.6 260.9 488.8 264.3 C490 267.6 490.7 277.5 491.7 281.6 C492.7 285.6 496.8 296.8 497.4 298.8" stroke-width="1.64"/>
<path d="M496 229.7 C496.5 233.6 497.7 245.1 498.9 252.8 C500.1 260.4 501.5 268.1 503.2 275.8 C504.9 283.5 508 295 508.9 298.8" stroke-width="1.64"/>
<path d="M496.9 211 C496 213.7 493 223.2 491.7 226.8 C490.3 230.4 489.3 231.6 488.8 232.6" stroke-width="1.64"/>
<path d="M518.5 161 C517.1 166.5 512.1 182 510.3 193.9 C508.5 205.8 507.8 219.6 507.6 232.4 C507.4 245.2 506.8 258.9 508.9 270.8 C510.9 282.7 515.3 294.2 519.9 303.8 C524.5 313.4 530.9 321.2 536.4 328.5 C541.9 335.8 550.1 344.5 552.9 347.7" stroke-width="1.64"/>
<path d="M656.4 278.7 C656.9 279.4 658.7 282.4 660.2 284 C661.7 285.6 664.9 288.4 667.7 290.7 C670.5 293 678.3 298.9 681.3 301.3 C684.3 303.7 689.7 306.8 690.3 308.8 C690.9 310.8 686.6 314.1 686.1 316.3 C685.6 318.5 686 322.9 686.5 325.4 C687.1 327.8 689.8 333.7 690.3 335" stroke-width="1.64"/>
<path d="M673.8 294.5 L690.3 306.5" stroke-width="1.64"/>
<path d="M690.3 308.8 C691.6 308.6 695.6 308.9 697.8 307.6 C700.1 306.3 702.5 304.1 703.9 301.3 C705.2 298.5 705.4 292.5 705.7 290.7" stroke-width="1.64"/>
<path d="M670.7 241.1 C672 242.6 674.5 245.3 678.3 250.1 C682 254.9 689.1 263.9 693.3 269.7 C697.6 275.4 701.8 281.2 703.9 284.7 C705.9 288.2 705.4 289.7 705.7 290.7" stroke-width="1.64" stroke-dasharray="9 2 2 2 2 2"/>
<path d="M661.7 239.6 C662.5 241.3 664.5 246.6 666.2 250.1 C668 253.6 671.2 258.9 672.2 260.6" stroke-width="1.17"/>
<path d="M696.3 238.1 C698.6 242.1 706.1 255.1 709.9 262.1 C713.6 269.2 716.8 275.2 718.9 280.2 C721 285.2 721.7 290.2 722.2 292.2" stroke-width="1.64" stroke-dasharray="9 2 2 2 2 2"/>
<path d="M703.9 313.3 C704.1 315.3 704.8 321.7 705.4 325.4 C705.9 329 706.9 333.4 707.2 335" stroke-width="1.64"/>
<path d="M480.7 240 C481.2 243.1 483.2 257.3 484.5 263 C485.7 268.8 490.6 279.7 490.2 283.2 C489.8 286.6 483.1 287 481.6 288.9 C480.1 290.9 478.5 295.3 478.7 297.6 C478.9 299.9 481.1 304.9 483 306.2 C485 307.6 490.4 306.1 493.1 307.7 C495.8 309.2 499.9 314.1 503.2 317.7 C506.5 321.4 513.4 330 517.6 335 C521.8 340 529.9 350.6 534.9 355.2 C539.9 359.8 548.9 365.7 555 369.6 C561.2 373.4 573.6 379.7 580.9 384 C588.2 388.2 602.8 397.4 609.7 401.2 C616.6 405.1 627.8 410.6 632.8 412.8 C637.8 414.9 645.2 416.5 647.2 417.1" stroke-width="1.64"/>
<path d="M506.1 332.1 C509.4 334.8 518.1 342.2 526.2 348 C534.4 353.7 544.9 359.7 555 366.7 C565.1 373.7 575.7 382.5 586.7 389.7 C597.7 396.9 611.2 405.3 621.2 409.9 C631.3 414.4 642.8 415.9 647.2 417.1" stroke-width="1.64" stroke-dasharray="9 2 2 2 2 2"/>
<path d="M496 240 C496.7 243.8 498.4 255.4 500.3 263 C502.2 270.7 504.6 279.1 507.5 286.1 C510.4 293 514.2 298.1 517.6 304.8 C520.9 311.5 524.1 320.1 527.7 326.4 C531.3 332.6 534.6 337.7 539.2 342.2 C543.7 346.8 549 349.2 555 353.7 C561 358.3 568.5 364.3 575.2 369.6 C581.9 374.8 589.6 381.6 595.3 385.4 C601.1 389.2 607.3 391.4 609.7 392.6" stroke-width="1.64"/>
<path d="M507.5 240 C508.2 244.3 509.7 256.8 511.8 265.9 C514 275 517.1 286.1 520.5 294.7 C523.8 303.3 527.7 310.5 532 317.7 C536.3 324.9 540.1 331.7 546.4 337.9 C552.6 344.1 565.6 352.3 569.4 355.2" stroke-width="1.64" stroke-dasharray="9 2 2 2 2 2"/>
<path d="M519 299 C521.7 300.7 530.3 306.1 534.9 309.1 C539.4 312.1 544.7 313.7 546.4 317.2 C548.1 320.6 545.4 327.7 545.2 329.8" stroke-width="1.64" stroke-dasharray="9 2 2 2 2 2"/>
<path d="M521.9 306.2 C523.2 308.5 529.9 319.7 532 323.5 C534.1 327.3 535.1 331.9 537.7 335 C540.4 338.1 549.3 345.2 552.1 346.5 C555 347.9 557.4 344.1 559.3 345.1 C561.3 346.1 564.4 352 566.5 353.7 C568.6 355.5 573.4 356.1 575.2 358.1 C576.9 360 578.9 366.8 579.5 368.1" stroke-width="1.64"/>
<path d="M706.2 260.2 C707.5 264 712.9 274.6 714 283.2 C715.1 291.8 713.8 302.4 712.8 312 C711.8 321.6 710.4 331.2 708.2 340.8 C706 350.4 703.4 360.5 699.6 369.6 C695.7 378.7 691.3 388.4 685.2 395.5 C679.1 402.6 669.8 408.7 663 412.2 C656.2 415.6 647.4 415.5 644.3 416.2" stroke-width="1.64"/>
<path d="M701.3 309.1 C702 312 704.9 319.7 705.3 326.4 C705.7 333.1 705.3 341.3 703.6 349.4 C701.9 357.6 698.6 367.7 695 375.3 C691.3 383 687.3 390 681.7 395.5 C676.1 401 667.3 405.6 661.6 408.4 C655.8 411.3 649.6 412 647.2 412.8" stroke-width="1.64"/>
<path d="M686 312 C686.6 313.9 690.2 323.3 690.3 326.4 C690.5 329.5 687.1 331.9 687.5 335 C687.9 338.1 692.8 345.6 693.2 349.4 C693.6 353.3 691.4 360 690.3 363.8 C689.3 367.7 686.3 375.1 685.2 378.2 C684 381.3 683.5 386.1 681.7 386.8 C679.9 387.6 674.3 383.6 671.6 384 C668.9 384.4 663.3 387.4 661.6 389.7 C659.8 392 660 398.9 658.7 401.2 C657.3 403.5 653.4 406.4 651.5 407 C649.6 407.6 645.2 405.8 644.3 405.6" stroke-width="1.64"/>
<path d="M690.3 313.4 C692.3 312.5 699 311.3 701.9 307.7 C704.7 304.1 706.7 294.5 707.6 291.8" stroke-width="1.64"/>
<path d="M609.7 392.6 L616.9 388.3 L628.4 384 L650 391.2 L641.4 398.9 L632.8 395.5" stroke-width="1.64"/>
<path d="M628.4 384 L640 396.9" stroke-width="1.64"/>
<path d="M661.6 389.7 L671.6 384 L680.3 384 L673.1 391.2" stroke-width="1.64"/>
<path d="M575.2 369.6 C579 372 590.5 378.7 598.2 384 C605.9 389.2 613.6 396.9 621.2 401.2 C628.9 405.6 637.6 409.4 644.3 409.9 C651 410.4 655.8 407.5 661.6 404.1 C667.3 400.8 674 395 678.8 389.7 C683.6 384.4 687 379.2 690.3 372.5 C693.7 365.7 697.5 353.3 699 349.4" stroke-width="1.64" stroke-dasharray="9 2 2 2 2 2"/>
<path d="M647.2 417.1 C649.6 417.8 655.3 419 661.6 421.4 C667.8 423.8 677.4 428.1 684.6 431.5 C691.8 434.8 699 440.4 704.7 441.6 C710.5 442.8 716.7 439.2 719.1 438.7" stroke-width="1.64" stroke-dasharray="9 2 2 2 2 2"/>
<path d="M655.8 418.5 L658.7 421.4 L678.8 430" stroke-width="1.64"/>
<path d="M710.2 139 C710 137.8 708.3 134 708.8 131.8 C709.3 129.7 709.5 128 713.1 126.1 C716.7 124.2 724.4 120.8 730.4 120.3 C736.4 119.8 746 122.7 749.1 123.2" stroke-width="1.87"/>
<path d="M749.1 123.2 L776.5 140.5 L788 141 L816.8 169.3 L815.3 177.9 L796.6 188 L788 190.9" stroke-width="1.87"/>
<path d="M788 190.9 L710.2 139" stroke-width="1.64" stroke-dasharray="9 2 2 2 2 2"/>
<path d="M717.4 136.1 L727.5 132.4 L746.8 158.3 L769.8 164.1 L775.6 159.8 L776.5 141.9" stroke-width="1.64"/>
<path d="M775.6 159.8 L800.9 179.9 L808.1 177.9 L815.3 177.9" stroke-width="1.64"/>
<path d="M727.5 132.4 L776.5 163.5" stroke-width="1.64" stroke-dasharray="9 2 2 2 2 2"/>
<path d="M708.8 131.8 C706.9 131.3 699.7 130.9 697.3 128.9 C694.9 127 693.9 123.1 694.4 120.3 C694.9 117.5 697.3 114.6 700.2 112.2 C703 109.9 705.2 107.1 711.7 106.5 C718.2 105.9 734.5 108.4 739 108.8" stroke-width="1.64"/>
<path d="M739 108.8 L834 173.6" stroke-width="1.64" stroke-dasharray="9 2 2 2 2 2"/>
<path d="M711.7 106.5 L723.2 114 L739 108.8" stroke-width="1.64"/>
<path d="M694.4 131.8 L705.9 124.6 L739 110.2" stroke-width="1.64" stroke-dasharray="9 2 2 2 2 2"/>
<path d="M694.4 131.8 L783.7 195.2 L795.2 198.1 L835.5 175" stroke-width="1.64" stroke-dasharray="9 2 2 2 2 2"/>
<path d="M766.4 183.7 L779.3 192.3" stroke-width="1.64"/>
<path d="M798.1 192.3 L829.7 177.9" stroke-width="1.64"/>
<path d="M832.6 172.1 C834.3 173.3 838.4 175.5 842.7 179.3 C847 183.2 854 189.7 858.5 195.2 C863.1 200.7 867.1 205.7 870 212.5 C873 219.2 874.9 226.8 876.4 235.5 C877.8 244.1 878.5 253.5 878.7 264.3 C878.8 275 877.5 294 877.2 300" stroke-width="1.64" stroke-dasharray="9 2 2 2 2 2"/>
<path d="M836.9 179.3 C839.6 182 848.4 190.6 852.8 195.2 C857.1 199.7 860.9 202.9 862.8 206.7 C864.8 210.5 864 216.3 864.3 218.2" stroke-width="1.64"/>
<path d="M680 134.7 C682.4 134.8 689.8 133.9 694.4 135.3 C699 136.6 703.5 137.6 707.4 142.8 C711.2 148 714.3 158.6 717.4 166.4 C720.6 174.2 723.4 181.7 726.1 189.4 C728.7 197.1 731.3 203.8 733.3 212.5 C735.2 221.1 736.1 230.7 737.6 241.2 C739 251.8 741 266 741.9 275.8 C742.8 285.6 742.6 296 742.8 300" stroke-width="1.64"/>
<path d="M697.3 152 C699.2 155.8 705 165.4 708.8 175 C712.6 184.6 717.4 196.6 720.3 209.6 C723.2 222.5 724.9 237.7 726.1 252.8 C727.3 267.8 727.3 292.1 727.5 300" stroke-width="1.64" stroke-dasharray="9 2 2 2 2 2"/>
<path d="M680 141.9 C681.9 142.9 687.7 143.6 691.5 147.7 C695.4 151.7 699.7 159.4 703 166.4 C706.4 173.3 709 180.8 711.7 189.4 C714.3 198.1 717 207.7 718.9 218.2 C720.8 228.8 722.4 239.1 723.2 252.8 C724 266.4 723.7 292.1 723.8 300" stroke-width="1.64"/>
<path d="M680 189.4 L693 190.9 L693.8 224 L685.8 229.7" stroke-width="1.64"/>
<path d="M680 215.3 C681 215.8 685.3 215.8 685.8 218.2 C686.2 220.6 683.4 227.8 682.9 229.7" stroke-width="1.64"/>
<path d="M760.7 238.5 L761.4 238 L762.1 237.4 L762.6 236.6 L763.1 235.7 L763.4 234.7 L763.7 233.6 L763.8 232.4 L763.8 231.1 L763.7 229.7 L763.5 228.3 L763.1 226.8 L762.7 225.3 L762.2 223.8 L761.5 222.4 L760.8 220.9 L760 219.5 L759.1 218.1 L758.2 216.9 L757.2 215.7 L756.2 214.6 L755.1 213.6 L754 212.8 L753 212 L751.9 211.4 L750.8 211 L749.8 210.7 L748.8 210.6 L747.8 210.6 L747 210.8 L746.1 211.1 L745.4 211.6 L744.8 212.3 L744.2 213 L743.8 213.9 L743.4 214.9 L743.2 216.1 L743.1 217.3 L743.1 218.6 L743.2 220 L743.4 221.4 L743.7 222.9 L744.1 224.3 L744.7 225.8 L745.3 227.3 L746 228.8 L746.8 230.2 L747.7 231.5 L748.6 232.8 L749.6 234 L750.7 235.1 L751.7 236.1 L752.8 236.9 L753.9 237.6 L755 238.2 L756 238.6 L757.1 238.9 L758.1 239.1 L759 239 L759.9 238.9 L760.7 238.5 Z" stroke-width="1.64"/>
<path d="M723.2 195.2 L733.3 190.9 L752 209.6" stroke-width="1.64"/>
<path d="M744.8 239.8 C746 240 748.9 241.7 752 241.2 C755.1 240.8 761.6 237.6 763.5 236.9" stroke-width="1.64"/>
<path d="M741.9 229.7 L726.1 215.3" stroke-width="1.64" stroke-dasharray="9 2 2 2 2 2"/>
<path d="M834 206.7 C835.2 208.1 837.6 212.9 841.2 215.3 C844.8 217.7 851.8 220.6 855.6 221.1 C859.5 221.6 863.3 220.6 864.3 218.2 C865.2 215.8 865.2 209.6 861.4 206.7 C857.6 203.8 845.8 200.9 841.2 200.9 C836.7 200.9 835.2 205.7 834 206.7" stroke-width="1.64"/>
<path d="M835.5 252.8 C836.4 254.7 837.9 261.2 841.2 264.3 C844.6 267.4 851.3 271.5 855.6 271.5 C860 271.5 865 267.9 867.2 264.3 C869.3 260.7 870 253 868.6 249.9 C867.2 246.8 860.2 246.3 858.5 245.6" stroke-width="1.64"/>
<path d="M818.2 206.7 L835.5 198.6" stroke-width="1.64"/>
<path d="M828.3 231.2 L841.2 225.4" stroke-width="1.64"/>
<path d="M786.5 252.2 L803.8 244.1" stroke-width="1.64"/>
<path d="M806.7 270 L832.6 252.8 L864.3 236.9" stroke-width="1.64" stroke-dasharray="9 2 2 2 2 2"/>
<path d="M746.2 247 L759.2 241.2" stroke-width="1.64"/>
<path d="M834 252.8 L864.3 237.8" stroke-width="2.11"/>
<path d="M760.6 264.3 C762.2 263.1 769.5 257.2 772.1 255.6 C774.8 254.1 778.9 252.8 780.8 252.8 C782.7 252.8 783.1 253.5 786.5 255.6 C790 257.8 802.9 265.5 806.7 268.6 C810.5 271.7 814.6 275.4 815.3 278.7 C816.1 281.9 813.6 290.2 812.5 293.1 C811.3 295.9 807.5 299.1 806.7 300" stroke-width="1.64"/>
<path d="M780.8 281.6 L795.2 275.8" stroke-width="1.64"/>
<path d="M749.1 281.6 L760.6 264.3" stroke-width="1.64"/>
<path d="M858.5 224 C859.5 224.9 862.4 228.8 864.3 229.7 C866.2 230.7 869.1 229.7 870 229.7" stroke-width="1.64"/>
<path d="M852.8 232.6 C854.7 234 860.9 240.5 864.3 241.2 C867.6 242 871.5 237.6 872.9 236.9" stroke-width="1.64"/>
<path d="M749.1 274.6 C750.1 273.4 754 267.6 756.3 265.9 C758.6 264.2 763.1 263.3 766.4 261.6 C769.6 259.9 777.9 253.9 780.8 253 C783.7 252 784.5 252.5 788 254.4 C791.4 256.3 803 264.5 806.7 267.4 C810.3 270.2 814.4 273.5 815.3 276 C816.3 278.5 815 283.2 813.9 286.1 C812.7 288.9 809.2 295.1 806.7 297.6 C804.2 300.1 797.5 303.6 795.2 304.8 C792.9 305.9 791.5 304.7 789.4 306.2 C787.3 307.8 781.6 315.2 779.3 316.3 C777 317.5 776.2 316.2 772.1 314.9 C768.1 313.5 752.3 309.7 749.1 306.2 C746 302.8 748.5 293.2 748.5 288.9 C748.5 284.7 749 276.5 749.1 274.6" stroke-width="1.64"/>
<path d="M766.4 261.6 C767.8 263.3 772.9 267.6 775 271.7 C777.2 275.8 779.1 281.3 779.3 286.1 C779.6 290.9 777.7 295.9 776.5 300.5 C775.3 305 772.9 311.3 772.1 313.4" stroke-width="1.64" stroke-dasharray="8 4"/>
<path d="M786.5 251.5 L806.7 267.4" stroke-width="1.64" stroke-dasharray="9 2 2 2 2 2"/>
<path d="M779.3 276 L792.3 270.2" stroke-width="1.64"/>
<path d="M806.7 267.4 L832.6 254.4 L864.3 240" stroke-width="1.64" stroke-dasharray="9 2 2 2 2 2"/>
<path d="M835.5 254.4 C836.9 256.3 840.8 263.3 844.1 265.9 C847.5 268.6 851.8 270.5 855.6 270.2 C859.5 270 865 267.6 867.2 264.5 C869.3 261.4 868.4 253.7 868.6 251.5" stroke-width="1.64"/>
<path d="M877.2 240 C877.5 244.8 878.9 259.2 878.7 268.8 C878.4 278.4 877.2 288.5 875.8 297.6 C874.4 306.7 872 317.3 870 323.5 C868.1 329.7 865.2 333.1 864.3 335" stroke-width="1.64" stroke-dasharray="9 2 2 2 2 2"/>
<path d="M864.3 264.5 C863.1 267.6 858 276.7 857.1 283.2 C856.1 289.7 856.8 297.6 858.5 303.3 C860.2 309.1 865.5 313.9 867.2 317.7 C868.8 321.6 868.4 324.9 868.6 326.4" stroke-width="1.64" stroke-dasharray="9 2 2 2 2 2"/>
<path d="M868.6 326.4 C868 327.1 864.9 329.3 864.3 332.1 C863.7 335 865.4 345.1 864.3 348 C863.1 350.9 857.8 353.4 855.6 353.7 C853.5 354.1 850.4 350.7 848.4 350.9 C846.5 351 843.4 354.3 841.2 355.2 C839.1 356.1 834.9 357.7 832.6 357.5 C830.3 357.3 827 355.4 824 353.7 C820.9 352.1 811.5 346.2 809.6 345.1" stroke-width="1.64"/>
<path d="M815.3 326.4 L829.7 320 L841.2 326.4 L864.3 335" stroke-width="1.64"/>
<path d="M841.2 326.4 L835.5 332.1 L845.6 343.7 L848.4 350.9" stroke-width="1.64"/>
<path d="M789.4 353.7 L809.6 345.1 L835.5 332.1" stroke-width="1.64" stroke-dasharray="9 2 2 2 2 2"/>
<path d="M786.5 355.2 L824 352.3" stroke-width="1.64"/>
<path d="M795.2 304.8 C795.8 306.9 798.6 313.2 798.6 317.7 C798.6 322.3 797.2 328.3 795.2 332.1 C793.2 336 788 339.3 786.5 340.8" stroke-width="1.64" stroke-dasharray="9 2 2 2 2 2"/>
<path d="M747.7 306.2 L747.7 323.5 L763.5 335 L779.3 316.3" stroke-width="1.64"/>
<path d="M763.5 335 L749.1 326.4" stroke-width="1.64" stroke-dasharray="9 2 2 2 2 2"/>
<path d="M763.5 335 C764.6 336 770.7 339.7 771.6 342.2 C772.4 344.7 771.1 351.4 769.8 353.7 C768.6 356 764 359.1 762.1 359.5 C760.1 359.9 756.3 358 755.4 356.6 C754.6 355.3 755.4 350.4 755.4 349.4" stroke-width="1.64"/>
<path d="M708.8 355.2 L723.2 365.3 L752 350.9 L755.4 349.4" stroke-width="1.64" stroke-dasharray="9 2 2 2 2 2"/>
<path d="M772.1 345.1 L772.7 366.7 L779.3 371 L786 366.7 L786 342.2" stroke-width="1.64"/>
<path d="M760.6 360.9 L762.1 378.2 L767.8 382.5 L773.6 375.3 L772.7 366.7" stroke-width="1.64"/>
<path d="M757.7 358.1 L758.3 395.5" stroke-width="1.64" stroke-dasharray="9 2 2 2 2 2"/>
<path d="M708.8 355.2 C710.3 355.9 718.2 358.8 720.3 360.9 C722.4 363 724.6 368.3 724.6 371 C724.6 373.7 722 379.2 720.3 381.1 C718.6 383 713.8 385.4 711.7 385.4 C709.6 385.4 705.4 381.7 704.5 381.1" stroke-width="1.64"/>
<path d="M758.3 395.5 C759.4 396.1 764.9 398.1 766.4 399.8 C767.8 401.5 769.6 406.1 769.3 408.4 C768.9 410.7 765.4 415.7 763.5 417.1 C761.6 418.4 756.8 419.1 754.9 418.5 C752.9 417.9 749.9 413.5 749.1 412.8" stroke-width="1.64"/>
<path d="M711.7 385.4 L711.1 424.3 L749.1 412.8" stroke-width="1.64" stroke-dasharray="9 2 2 2 2 2"/>
<path d="M711.1 424.3 C712.1 424.7 717.5 425.6 718.9 427.2 C720.3 428.7 722.1 433.7 721.8 435.8 C721.4 437.9 717.9 441.8 716 443 C714.1 444.1 708.9 445 707.4 444.4 C705.8 443.9 704.9 439.4 704.5 438.7" stroke-width="1.64"/>
<path d="M707.4 444.4 L680 428.6" stroke-width="1.64" stroke-dasharray="9 2 2 2 2 2"/>
<path d="M707.4 401.2 L706.5 424.3 L714.6 425.7" stroke-width="1.64"/>
<path d="M717.4 421.4 L743.3 409.9" stroke-width="1.64"/>
<path d="M721.8 404.1 L737.6 396.9" stroke-width="1.64"/>
<path d="M740.5 371 L739 395.5" stroke-width="1.64"/>
<path d="M753.4 360.9 L753.4 384" stroke-width="1.64"/>
<path d="M723.2 326.4 L723.2 349.4" stroke-width="1.64"/>
<path d="M727.5 326.4 L727.5 350.9 L737.6 349.4 L752 346.5" stroke-width="1.64"/>
<path d="M731.8 326.4 L731.8 349.4" stroke-width="1.64"/>
<path d="M736.1 288.9 L737.6 326.4 L741.9 349.4" stroke-width="1.64" stroke-dasharray="9 2 2 2 2 2"/>
<path d="M685.8 314.9 C686.5 316.4 690.9 323.3 691.5 326.4 C692.1 329.5 689.7 334.8 690.1 337.9 C690.5 341 694 345.6 694.4 349.4 C694.8 353.3 693.7 362.1 693 366.7 C692.2 371.3 690.4 379.4 688.6 384 C686.9 388.6 681.2 398.9 680 401.2" stroke-width="1.64"/>
<path d="M707.4 314.9 C707.8 318.2 710 327.3 710.2 335 C710.5 342.7 710.5 352.8 708.8 360.9 C707.1 369.1 704 376.8 700.2 384 C696.3 391.2 688.2 400.8 685.8 404.1" stroke-width="1.64"/>
<path d="M711.7 332.1 C712.4 333.3 715.6 337.2 716 339.3 C716.4 341.5 714.3 344.1 714 345.1" stroke-width="1.64"/>
<path d="M1007.9 13.7 C1007.7 15.9 1007.5 25.5 1006.8 29.8 C1006 34 1003.5 42.1 1002.2 45.8 C1000.8 49.5 997.2 53.9 996.4 57.2 C995.7 60.6 995.8 67.6 996.9 71 C998 74.3 1001.8 80.3 1004.5 82.4 C1007.2 84.6 1014 85.8 1017.1 87 C1020.1 88.2 1026.2 89.8 1027.4 91.6 C1028.5 93.4 1025.6 98 1025.8 100.8 C1025.9 103.5 1026.9 110.3 1028.5 112.2 C1030.2 114.1 1036.7 113.4 1038.1 115 C1039.6 116.5 1037.9 122.1 1039.5 123.7 C1041.1 125.2 1047.5 127 1050.3 126.4 C1053.1 125.9 1058 121.1 1060.6 119.5 C1063.1 117.9 1067.1 113.9 1069.3 114.5 C1071.4 115 1074.1 120.6 1076.6 123.7 C1079.1 126.7 1084.4 134 1088 137.4 C1091.7 140.8 1101.3 146 1104.1 148.8 C1106.8 151.7 1106.8 156.9 1108.7 158.5 C1110.5 160 1115.6 161.7 1117.8 160.8 C1120 159.8 1124.3 154.3 1125.1 151.6 C1125.9 148.8 1122.3 142.6 1123.8 140.1 C1125.2 137.6 1133.3 135.6 1136.1 132.8 C1139 130 1143.6 123.3 1145.3 119.1 C1147 114.8 1148.5 105 1149 100.8 C1149.4 96.5 1149.4 91.3 1149 87 C1148.5 82.7 1146.1 73 1145.8 68.7 C1145.4 64.4 1147.3 57.7 1146.7 55 C1146.1 52.2 1143.2 49.9 1141.2 48.1 C1139.2 46.3 1134.1 44 1131.6 41.2 C1129.1 38.5 1124.8 29.9 1122.4 27.5 C1120 25 1116.1 23.5 1113.2 22.9 C1110.3 22.3 1102.3 22.9 1100.6 22.9" stroke-width="1.64" fill="#fff"/>
<path d="M1007.9 13.7 C1009.4 13.4 1016.3 11.6 1019.3 11.4 C1022.4 11.3 1027.9 10.9 1030.8 12.6 C1033.7 14.3 1038 23 1041.1 24 C1044.2 25.1 1050.2 21.9 1053.7 20.6 C1057.2 19.3 1064.4 15.1 1067.4 14.2 C1070.5 13.3 1073.8 13 1076.6 13.7 C1079.3 14.4 1084.8 18.2 1088 19.5 C1091.3 20.7 1099 22.4 1100.6 22.9" stroke-width="1.64" stroke-dasharray="6 2.5 2 2.5"/>
<path d="M1012.5 16 C1012.2 18.7 1011.6 27.1 1010.6 32.1 C1009.7 37 1008.4 41.6 1006.8 45.8 C1005.2 50 1001.9 53.2 1001 57.2 C1000.2 61.3 1000.3 66.2 1001.5 69.8 C1002.6 73.5 1006.8 77.5 1007.9 79" stroke-width="1.64" stroke-dasharray="6 2.5 2 2.5"/>
<path d="M1113.2 25.2 C1114.8 26.4 1121.9 31.6 1124.7 34.3 C1127.4 37.1 1131.4 43.4 1133.8 45.8 C1136.3 48.2 1141.8 49.6 1143 52.7 C1144.2 55.7 1142.7 64.1 1143 68.7 C1143.3 73.3 1145 82.7 1145.3 87 C1145.6 91.3 1145.8 96.8 1145.3 100.8 C1144.8 104.7 1143.4 113 1141.9 116.8 C1140.3 120.6 1136.4 126.6 1133.8 129.4 C1131.2 132.1 1123.9 136.3 1122.4 137.4" stroke-width="1.64" stroke-dasharray="6 2.5 2 2.5"/>
<path d="M1019.3 21.8 C1020.3 22.3 1023.2 23.1 1025.1 25.2 C1027 27.3 1029.3 31.3 1030.8 34.3 C1032.3 37.4 1032.9 41 1034.2 43.5 C1035.6 46 1038 48.3 1038.8 49.2" stroke-width="1.64"/>
<path d="M1021.6 32.1 C1022.4 33.2 1024.7 36.6 1026.2 38.9 C1027.7 41.2 1030 44.7 1030.8 45.8" stroke-width="1.64"/>
<ellipse cx="1011.3" cy="68.7" rx="10.3" ry="16.5" transform="rotate(-20 1011.3 68.7)" stroke-width="1.4" fill="none"/>
<ellipse cx="1012.9" cy="68.2" rx="8.2" ry="14.2" transform="rotate(-20 1012.9 68.2)" stroke-width="1.2" fill="none" stroke-dasharray="6 2.5 2 2.5"/>
<path d="M1006.8 57.2 C1007.3 59.2 1008.7 65.3 1010.2 68.7 C1011.7 72.1 1014 75.9 1015.9 77.9 C1017.8 79.8 1020.7 80.1 1021.6 80.6" stroke-width="1.4"/>
<ellipse cx="1058.7" cy="56.1" rx="16" ry="22.9" transform="rotate(-25 1058.7 56.1)" stroke-width="1.4" fill="none"/>
<ellipse cx="1059.4" cy="56.1" rx="13.3" ry="20.2" transform="rotate(-25 1059.4 56.1)" stroke-width="1.2" fill="none"/>
<path d="M1053.7 43.5 C1054.3 45.8 1055.2 53 1057.1 57.2 C1059 61.4 1062.5 66 1065.1 68.7 C1067.8 71.4 1071.8 72.5 1073.2 73.3" stroke-width="1.52"/>
<path d="M1058.3 41.2 C1059 43.5 1060.9 51 1062.9 55 C1064.8 59 1067.4 63 1069.7 65.3 C1072 67.6 1075.5 68.1 1076.6 68.7" stroke-width="1.29"/>
<ellipse cx="1047.3" cy="89.3" rx="15.6" ry="21.8" transform="rotate(-25 1047.3 89.3)" stroke-width="1.4" fill="none"/>
<ellipse cx="1048.2" cy="88.8" rx="12.8" ry="18.8" transform="rotate(-25 1048.2 88.8)" stroke-width="1.2" fill="none"/>
<path d="M1038.8 75.6 C1039.4 77.9 1040.3 85.1 1042.2 89.3 C1044.2 93.5 1047.6 98.1 1050.3 100.8 C1052.9 103.4 1056.9 104.6 1058.3 105.3" stroke-width="1.52"/>
<path d="M1043.4 73.3 C1044 75.6 1045.4 83 1047.3 87 C1049.2 91 1052.4 95 1054.8 97.3 C1057.2 99.6 1060.6 100.2 1061.7 100.8" stroke-width="1.29"/>
<ellipse cx="1097.2" cy="53.8" rx="16.5" ry="22.9" transform="rotate(-25 1097.2 53.8)" stroke-width="1.4" fill="none"/>
<ellipse cx="1098.1" cy="53.8" rx="13.7" ry="19.7" transform="rotate(-25 1098.1 53.8)" stroke-width="1.2" fill="none" stroke-dasharray="6 2.5 2 2.5"/>
<path d="M1092.6 38.9 C1093.2 41.2 1094.2 48.5 1096.1 52.7 C1098 56.9 1101.4 61.4 1104.1 64.1 C1106.7 66.8 1110.8 67.9 1112.1 68.7" stroke-width="1.4"/>
<ellipse cx="1099.5" cy="105.8" rx="24.7" ry="33.2" transform="rotate(-28 1099.5 105.8)" stroke-width="1.6" fill="#fff"/>
<ellipse cx="1100.2" cy="105.8" rx="21.8" ry="29.8" transform="rotate(-28 1100.2 105.8)" stroke-width="1.2" fill="none"/>
<ellipse cx="1100.6" cy="105.8" rx="18.3" ry="25.6" transform="rotate(-28 1100.6 105.8)" stroke-width="1.2" fill="none" stroke-dasharray="1.5 3"/>
<ellipse cx="1100.6" cy="105.8" rx="14.2" ry="20.2" transform="rotate(-28 1100.6 105.8)" stroke-width="1.3" fill="none"/>
<ellipse cx="1100.6" cy="105.8" rx="10.3" ry="15.1" transform="rotate(-28 1100.6 105.8)" stroke-width="1.3" fill="none"/>
<ellipse cx="1099.5" cy="106.5" rx="6.9" ry="9.6" transform="rotate(-28 1099.5 106.5)" stroke-width="1.3" fill="none"/>
<ellipse cx="1098.8" cy="107.2" rx="3.9" ry="5.5" transform="rotate(-28 1098.8 107.2)" stroke-width="1.2" fill="none"/>
<ellipse cx="1031.9" cy="18.3" rx="3.4" ry="4.1" transform="rotate(-20 1031.9 18.3)" stroke-width="1.3" fill="#fff" stroke-dasharray="6 2.5 2 2.5"/>
<ellipse cx="1135" cy="60.7" rx="3.4" ry="4.1" transform="rotate(-20 1135 60.7)" stroke-width="1.3" fill="#fff" stroke-dasharray="6 2.5 2 2.5"/>
<ellipse cx="1030.8" cy="106.5" rx="3.4" ry="4.1" transform="rotate(-20 1030.8 106.5)" stroke-width="1.3" fill="#fff" stroke-dasharray="6 2.5 2 2.5"/>
<ellipse cx="1110.5" cy="151.1" rx="3.4" ry="4.1" transform="rotate(-20 1110.5 151.1)" stroke-width="1.3" fill="#fff" stroke-dasharray="6 2.5 2 2.5"/>
<ellipse cx="1122.4" cy="43.5" rx="5.5" ry="6.4" transform="rotate(-20 1122.4 43.5)" stroke-width="1.2" fill="none" stroke-dasharray="6 2.5 2 2.5"/>
<ellipse cx="1045.7" cy="119.1" rx="6.9" ry="6" transform="rotate(-20 1045.7 119.1)" stroke-width="1.2" fill="none"/>
<path d="M1113.2 75.6 L1145.3 83.6" stroke-width="1.64" stroke-dasharray="6 2.5 2 2.5"/>
<path d="M1116.7 80.1 L1131.6 79 L1145.3 68.7" stroke-width="1.64" stroke-dasharray="6 2.5 2 2.5"/>
<path d="M1072 96.2 L1083.5 128.2" stroke-width="1.64"/>
<path d="M1067.4 98.5 L1078.9 128.2 L1104.1 148.8" stroke-width="1.64"/>
<path d="M1124.7 91.6 C1126.2 93.1 1131.9 96.9 1133.8 100.8 C1135.8 104.6 1136.9 109.9 1136.1 114.5 C1135.4 119.1 1131.6 124.4 1129.3 128.2 C1127 132.1 1123.5 135.9 1122.4 137.4" stroke-width="1.64"/>
<path d="M1148.7 87 L1150.3 91.6 L1150.3 103 L1149 107.6" stroke-width="1.64"/>
<path d="M1040 27.5 L1053.7 22.9 L1060.6 27.5 L1072 22.9 L1081.2 27.5" stroke-width="1.64" stroke-dasharray="5 3"/>
<line x1="848.4" y1="175" x2="1061.3" y2="59.4" stroke-width="1.75" stroke-dasharray="112 5 6 5 300"/>
<line x1="861.4" y1="180.8" x2="1097.5" y2="53.8" stroke-width="1.75" stroke-dasharray="131 6 7 6 300"/>
<line x1="1099.5" y1="105.8" x2="1028.5" y2="145" stroke-width="1.75"/>
<rect x="746.9" y="536.5" width="41" height="28.3" fill="#b3de7b" stroke="none"/>
<text transform="translate(172 181.8) scale(0.83 1)" font-family="Liberation Sans" font-size="24.5" text-anchor="middle" fill="#1c1c1c" stroke="#fff" stroke-width="0.12" paint-order="fill">10</text>
<line x1="171" y1="183.5" x2="169.5" y2="232" stroke-width="1.75"/>
<text transform="translate(260 133.8) scale(0.83 1)" font-family="Liberation Sans" font-size="24.5" text-anchor="middle" fill="#1c1c1c" stroke="#fff" stroke-width="0.12" paint-order="fill">9</text>
<line x1="260" y1="136" x2="260" y2="195" stroke-width="1.75"/>
<text transform="translate(347 85.8) scale(0.83 1)" font-family="Liberation Sans" font-size="24.5" text-anchor="middle" fill="#1c1c1c" stroke="#fff" stroke-width="0.12" paint-order="fill">11</text>
<line x1="346" y1="89" x2="345" y2="138" stroke-width="1.75"/>
<text transform="translate(411.7 295) scale(0.83 1)" font-family="Liberation Sans" font-size="24.5" text-anchor="middle" fill="#1c1c1c" stroke="#fff" stroke-width="0.12" paint-order="fill">3</text>
<line x1="410.9" y1="298.7" x2="409.6" y2="358.7" stroke-width="1.75"/>
<text transform="translate(334.8 332.2) scale(0.83 1)" font-family="Liberation Sans" font-size="24.5" text-anchor="middle" fill="#1c1c1c" stroke="#fff" stroke-width="0.12" paint-order="fill">8</text>
<line x1="335.2" y1="335.8" x2="334.8" y2="363.3" stroke-width="1.75"/>
<text transform="translate(242 385.6) scale(0.83 1)" font-family="Liberation Sans" font-size="24.5" text-anchor="middle" fill="#1c1c1c" stroke="#fff" stroke-width="0.12" paint-order="fill">4</text>
<line x1="242.7" y1="388.5" x2="242.3" y2="440.9" stroke-width="1.75"/>
<text transform="translate(275.4 365.6) scale(0.83 1)" font-family="Liberation Sans" font-size="24.5" text-anchor="middle" fill="#1c1c1c" stroke="#fff" stroke-width="0.12" paint-order="fill">7</text>
<line x1="276.4" y1="368.5" x2="276.2" y2="399.6" stroke-width="1.75"/>
<text transform="translate(203 407.4) scale(0.83 1)" font-family="Liberation Sans" font-size="24.5" text-anchor="middle" fill="#1c1c1c" stroke="#fff" stroke-width="0.12" paint-order="fill">5</text>
<line x1="202" y1="410.5" x2="201.6" y2="470" stroke-width="1.75"/>
<text transform="translate(169 424.1) scale(0.83 1)" font-family="Liberation Sans" font-size="24.5" text-anchor="middle" fill="#1c1c1c" stroke="#fff" stroke-width="0.12" paint-order="fill">6</text>
<line x1="169.2" y1="427.5" x2="169.2" y2="482" stroke-width="1.75"/>
<text transform="translate(547 447.8) scale(0.83 1)" font-family="Liberation Sans" font-size="24.5" text-anchor="middle" fill="#1c1c1c" stroke="#fff" stroke-width="0.12" paint-order="fill">22</text>
<line x1="546.9" y1="450.7" x2="546.2" y2="488.4" stroke-width="1.75"/>
<text transform="translate(457.8 495.8) scale(0.83 1)" font-family="Liberation Sans" font-size="24.5" text-anchor="middle" fill="#1c1c1c" stroke="#fff" stroke-width="0.12" paint-order="fill">21</text>
<line x1="457.8" y1="498.4" x2="456.8" y2="548.5" stroke-width="1.75"/>
<text transform="translate(390 532.2) scale(0.83 1)" font-family="Liberation Sans" font-size="24.5" text-anchor="middle" fill="#1c1c1c" stroke="#fff" stroke-width="0.12" paint-order="fill">23</text>
<line x1="390" y1="535" x2="389.4" y2="580" stroke-width="1.75"/>
<text transform="translate(60 710.8) scale(0.83 1)" font-family="Liberation Sans" font-size="24.5" text-anchor="middle" fill="#1c1c1c" stroke="#fff" stroke-width="0.12" paint-order="fill">2</text>
<line x1="62.1" y1="648.5" x2="61" y2="690" stroke-width="1.75"/>
<text transform="translate(126 688.8) scale(0.83 1)" font-family="Liberation Sans" font-size="24.5" text-anchor="middle" fill="#1c1c1c" stroke="#fff" stroke-width="0.12" paint-order="fill">1</text>
<line x1="127.7" y1="632" x2="126.7" y2="670" stroke-width="1.75"/>
<text transform="translate(588.8 655.1) scale(0.83 1)" font-family="Liberation Sans" font-size="24.5" text-anchor="middle" fill="#1c1c1c" stroke="#fff" stroke-width="0.12" paint-order="fill">13</text>
<line x1="587.5" y1="659.6" x2="585.8" y2="696.2" stroke-width="1.75"/>
<text transform="translate(627.1 635.2) scale(0.83 1)" font-family="Liberation Sans" font-size="24.5" text-anchor="middle" fill="#1c1c1c" stroke="#fff" stroke-width="0.12" paint-order="fill">16</text>
<line x1="624.5" y1="638.9" x2="624" y2="681" stroke-width="1.75"/>
<text transform="translate(675.6 606.9) scale(0.83 1)" font-family="Liberation Sans" font-size="24.5" text-anchor="middle" fill="#1c1c1c" stroke="#fff" stroke-width="0.12" paint-order="fill">15</text>
<line x1="674" y1="613" x2="663.7" y2="661.3" stroke-width="1.75"/>
<line x1="674" y1="613" x2="686.6" y2="647.1" stroke-width="1.75"/>
<text transform="translate(769 558.8) scale(0.83 1)" font-family="Liberation Sans" font-size="24.5" text-anchor="middle" fill="#3a5a12" stroke="#b3de7b" stroke-width="0.12" paint-order="fill">14</text>
<line x1="768.7" y1="562" x2="767.7" y2="596.8" stroke-width="1.75"/>
<text transform="translate(824.5 527.8) scale(0.83 1)" font-family="Liberation Sans" font-size="24.5" text-anchor="middle" fill="#1c1c1c" stroke="#fff" stroke-width="0.12" paint-order="fill">17</text>
<line x1="823.5" y1="531.8" x2="822" y2="560" stroke-width="1.75"/>
<text transform="translate(920.8 477.2) scale(0.83 1)" font-family="Liberation Sans" font-size="24.5" text-anchor="middle" fill="#1c1c1c" stroke="#fff" stroke-width="0.12" paint-order="fill">12</text>
<line x1="919.2" y1="481.7" x2="917.9" y2="520" stroke-width="1.75"/>
<text transform="translate(1010.8 427.8) scale(0.83 1)" font-family="Liberation Sans" font-size="24.5" text-anchor="middle" fill="#1c1c1c" stroke="#fff" stroke-width="0.12" paint-order="fill">18</text>
<line x1="1009" y1="431.8" x2="1007.8" y2="466.9" stroke-width="1.75"/>
<text transform="translate(1087.5 387.8) scale(0.83 1)" font-family="Liberation Sans" font-size="24.5" text-anchor="middle" fill="#1c1c1c" stroke="#fff" stroke-width="0.12" paint-order="fill">19</text>
<line x1="1086.9" y1="388.5" x2="1073.5" y2="441.9" stroke-width="1.75"/>
<line x1="1086.9" y1="388.5" x2="1103.5" y2="421.8" stroke-width="1.75"/>
<text transform="translate(1147.6 355.6) scale(0.83 1)" font-family="Liberation Sans" font-size="24.5" text-anchor="middle" fill="#1c1c1c" stroke="#fff" stroke-width="0.12" paint-order="fill">20</text>
<line x1="1147" y1="359" x2="1146" y2="395" stroke-width="1.75"/>
<text transform="translate(644.6 68.9) scale(0.83 1)" font-family="Liberation Sans" font-size="24.5" text-anchor="middle" fill="#1c1c1c" stroke="#fff" stroke-width="0.12" paint-order="fill">14</text>
<text transform="translate(680.6 71) scale(0.83 1)" font-family="Liberation Sans" font-size="24.5" text-anchor="middle" fill="#1c1c1c" stroke="#fff" stroke-width="0.12" paint-order="fill">1</text>
<line x1="658.3" y1="59.5" x2="669.1" y2="59.5" stroke-width="1.75"/>
<line x1="664.1" y1="78.2" x2="662.2" y2="129.4" stroke-width="1.75"/>
<text transform="translate(912.2 70.2) scale(0.9 1)" font-family="Liberation Serif" font-size="21.7" text-anchor="start" fill="#1c1c1c" stroke="none">FIG.</text>
<text transform="translate(962.5 72.1) scale(0.83 1)" font-family="Liberation Sans" font-size="24.5" text-anchor="middle" fill="#1c1c1c" stroke="#fff" stroke-width="0.12" paint-order="fill">26</text>
<line x1="975.2" y1="66.2" x2="995.8" y2="66.6" stroke-width="1.75"/>
</svg></body></html>
